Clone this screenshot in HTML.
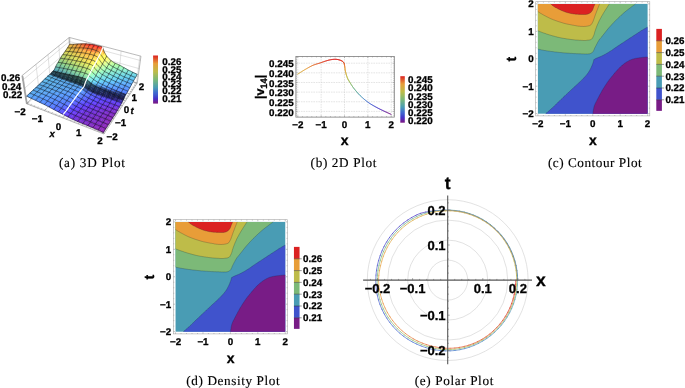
<!DOCTYPE html>
<html><head><meta charset="utf-8"><title>Plots</title>
<style>html,body{margin:0;padding:0;background:#fff}svg{display:block}</style>
</head><body>
<svg width="685" height="388" viewBox="0 0 685 388" text-rendering="geometricPrecision">
<rect width="685" height="388" fill="#fff"/>
<filter id="soft" x="0" y="0" width="685" height="388" filterUnits="userSpaceOnUse"><feGaussianBlur stdDeviation="0.38"/></filter>
<g filter="url(#soft)">
<defs><linearGradient id="rb" x1="0" y1="1" x2="0" y2="0"><stop offset="0.0000" stop-color="#781c86"/><stop offset="0.0350" stop-color="#701e94"/><stop offset="0.0750" stop-color="#5628b6"/><stop offset="0.1111" stop-color="#4534c8"/><stop offset="0.1667" stop-color="#3f52cc"/><stop offset="0.2222" stop-color="#3f68d0"/><stop offset="0.3333" stop-color="#4a9cb4"/><stop offset="0.5000" stop-color="#7bb978"/><stop offset="0.6667" stop-color="#bebc48"/><stop offset="0.8333" stop-color="#e89d39"/><stop offset="1.0000" stop-color="#db2121"/></linearGradient></defs>
<g transform="translate(0.00 0.00)">
<rect x="537.90" y="3.90" width="109.70" height="109.80" fill="#4a9cb4"/>
<path d="M537.9 49.1L538.6 49.3L539.3 49.4L540 49.6L540.7 49.7L541.5 49.9L542.2 50L542.9 50.2L543.7 50.3L544.6 50.5L545.6 50.6L546.5 50.8L547.5 50.9L548.5 51.1L549.5 51.2L550.5 51.4L551.5 51.5L552.5 51.6L553.4 51.7L554.4 51.9L555.4 52L556.3 52.1L557.3 52.2L558.2 52.3L559.2 52.4L560.2 52.5L561.1 52.6L562.1 52.7L563 52.8L564 52.9L565 52.9L565.9 53L566.9 53.1L567.9 53.2L568.9 53.2L569.9 53.3L570.9 53.4L571.9 53.4L572.9 53.5L573.8 53.6L574.7 53.6L575.4 53.6L576.1 53.7L576.7 53.7L577.4 53.7L578 53.7L578.7 53.8L579.3 53.8L580 53.8L580.8 53.8L581.6 53.9L582.4 53.9L583.2 53.9L584 54L584.8 54L585.5 54L586.2 54L586.7 54L587.1 54L587.5 54L588 54L588.4 53.9L588.8 53.9L589.1 53.9L589.5 53.8L589.8 53.7L590.1 53.7L590.3 53.6L590.6 53.5L590.8 53.4L591.1 53.3L591.3 53.2L591.6 53.1L591.8 52.9L592.1 52.6L592.3 52.4L592.5 52.2L592.8 51.9L593 51.7L593.2 51.4L593.4 51.1L593.6 50.7L593.8 50.3L594 49.9L594.2 49.5L594.4 49L594.5 48.6L594.7 48.1L594.9 47.7L595.1 47.3L595.3 46.9L595.5 46.5L595.7 46.2L595.9 45.8L596.1 45.4L596.3 45L596.5 44.6L596.8 44.1L597.1 43.5L597.4 42.9L597.7 42.3L598.1 41.7L598.4 41.1L598.8 40.5L599.1 40L599.4 39.6L599.7 39.2L600 38.9L600.3 38.5L600.6 38.2L600.9 37.8L601.2 37.4L601.6 37L602.2 36.2L602.9 35.3L603.7 34.3L604.5 33.3L605.3 32.2L606.1 31.2L607 30.1L607.8 29.1L608.7 28L609.6 27L610.6 25.9L611.6 24.8L612.5 23.8L613.6 22.7L614.6 21.6L615.6 20.6L616.7 19.5L617.8 18.4L618.9 17.4L620.1 16.3L621.2 15.2L622.4 14.2L623.6 13.1L624.8 12.1L626.1 11L627.4 10L628.7 9L630.1 8L631.4 6.9L632.8 5.9L634.2 4.9L635.5 3.9L537.9 3.9Z" fill="#7bb978"/>
<path d="M537.9 30.8L538.6 31.1L539.3 31.4L540 31.6L540.7 31.9L541.5 32.2L542.2 32.5L542.9 32.7L543.7 33L544.6 33.3L545.6 33.6L546.5 34L547.5 34.3L548.5 34.6L549.5 34.9L550.5 35.2L551.5 35.5L552.5 35.8L553.4 36L554.4 36.3L555.3 36.6L556.3 36.8L557.3 37.1L558.2 37.3L559.2 37.5L560.2 37.7L561.1 37.9L562.1 38.1L563 38.3L564 38.4L565 38.6L565.9 38.7L566.9 38.9L567.9 39L568.9 39.2L569.9 39.3L570.9 39.5L571.9 39.6L572.9 39.7L573.8 39.8L574.7 39.9L575.4 40L576.1 40L576.7 40.1L577.4 40.1L578 40.2L578.7 40.2L579.3 40.3L580 40.3L580.8 40.3L581.5 40.4L582.3 40.4L583.1 40.5L583.9 40.5L584.7 40.5L585.4 40.5L586.2 40.4L586.9 40.3L587.7 40.2L588.4 40.2L589.1 40L589.8 39.9L590.5 39.7L591.1 39.4L591.6 39.1L592 38.7L592.3 38.3L592.6 37.8L592.9 37.3L593.1 36.8L593.4 36.2L593.6 35.7L593.9 35.2L594.1 34.5L594.3 33.9L594.5 33.2L594.6 32.6L594.8 31.9L595 31.2L595.3 30.5L595.5 29.8L595.8 28.9L596.2 28L596.5 27L596.9 26L597.3 25.1L597.7 24.1L598.2 23.1L598.6 22.1L599.1 21L599.6 20L600.2 18.9L600.8 17.9L601.3 16.8L601.9 15.8L602.6 14.7L603.2 13.6L603.9 12.4L604.7 11.2L605.4 10L606.2 8.8L607 7.6L607.8 6.3L608.6 5.1L609.4 3.9L537.9 3.9Z" fill="#bebc48"/>
<path d="M537.9 11.6L538.6 12L539.3 12.5L540 12.9L540.7 13.4L541.5 13.8L542.2 14.2L542.9 14.7L543.7 15.1L544.6 15.6L545.6 16.1L546.5 16.6L547.5 17.1L548.5 17.6L549.5 18.1L550.5 18.6L551.5 19L552.5 19.4L553.4 19.8L554.4 20.1L555.3 20.5L556.3 20.8L557.3 21.2L558.2 21.5L559.2 21.8L560.2 22.1L561.1 22.4L562.1 22.7L563 23L564 23.3L565 23.5L565.9 23.8L566.9 24L567.9 24.2L568.9 24.4L569.9 24.6L570.9 24.8L571.9 25L572.9 25.2L573.8 25.3L574.7 25.5L575.4 25.6L576.1 25.7L576.7 25.9L577.4 26L578 26.1L578.7 26.2L579.3 26.2L580 26.3L580.8 26.4L581.5 26.4L582.3 26.4L583.1 26.5L583.9 26.5L584.7 26.4L585.5 26.4L586.2 26.3L586.8 26.2L587.5 26.1L588.1 26L588.7 25.8L589.3 25.7L589.8 25.5L590.3 25.2L590.8 24.9L591.2 24.6L591.5 24.2L591.8 23.7L592.1 23.2L592.3 22.7L592.6 22.3L592.8 21.8L593.1 21.3L593.3 20.7L593.5 20.2L593.7 19.6L593.9 19L594.1 18.5L594.3 17.9L594.5 17.3L594.7 16.7L595 16L595.2 15.2L595.5 14.4L595.8 13.7L596.1 12.9L596.4 12.1L596.7 11.3L597 10.5L597.3 9.7L597.6 8.9L598 8L598.3 7.2L598.6 6.4L598.9 5.6L599.3 4.7L599.6 3.9L537.9 3.9Z" fill="#e89d39"/>
<path d="M550.7 3.9L551 4.1L551.2 4.4L551.5 4.6L551.8 4.9L552 5.1L552.3 5.4L552.6 5.6L553 5.9L553.6 6.3L554.3 6.8L555 7.2L555.8 7.7L556.7 8.1L557.5 8.6L558.4 9L559.2 9.4L560.1 9.8L561 10.3L562 10.7L563 11.1L563.9 11.5L564.9 11.8L565.9 12.2L566.9 12.5L567.9 12.8L568.9 13L569.9 13.3L570.9 13.5L571.9 13.7L572.8 13.8L573.8 14L574.7 14.1L575.4 14.2L576.1 14.2L576.7 14.3L577.4 14.3L578 14.3L578.7 14.4L579.3 14.4L580 14.4L580.8 14.4L581.6 14.5L582.4 14.5L583.2 14.5L584 14.5L584.8 14.5L585.5 14.5L586.2 14.4L586.7 14.3L587.3 14.2L587.8 14.1L588.2 13.9L588.7 13.7L589.2 13.6L589.6 13.3L590 13.1L590.4 12.8L590.7 12.5L591 12.2L591.3 11.9L591.5 11.5L591.8 11.2L592.1 10.8L592.4 10.5L592.6 10L592.8 9.5L593 9L593.2 8.5L593.4 8L593.5 7.5L593.7 7.1L593.9 6.6L594 6.2L594.2 5.9L594.3 5.6L594.5 5.2L594.6 4.9L594.7 4.6L594.9 4.2L595 3.9Z" fill="#db2121"/>
<path d="M545.6 113.7L546.3 113.1L547.1 112.5L547.8 111.8L548.5 111.2L549.2 110.6L550 110L550.7 109.3L551.5 108.6L552.4 107.7L553.4 106.9L554.3 105.9L555.3 105L556.3 104L557.3 103.1L558.2 102.1L559.2 101.2L560.2 100.3L561.1 99.4L562.1 98.5L563 97.5L564 96.6L565 95.7L565.9 94.8L566.9 93.9L567.9 93L568.8 92.1L569.8 91.2L570.8 90.2L571.8 89.3L572.8 88.4L573.7 87.5L574.7 86.6L575.7 85.7L576.7 84.8L577.7 83.9L578.6 83L579.6 82.1L580.6 81.2L581.5 80.3L582.4 79.4L583.2 78.6L583.9 77.8L584.7 77L585.4 76.2L586.1 75.4L586.8 74.6L587.4 73.8L588 73L588.5 72.3L588.9 71.6L589.4 70.9L589.8 70.1L590.1 69.4L590.5 68.7L590.9 68L591.2 67.3L591.5 66.6L591.8 66L592.1 65.3L592.3 64.6L592.6 64L592.8 63.4L593 62.8L593.2 62.2L593.3 61.8L593.4 61.5L593.5 61.2L593.6 60.8L593.7 60.5L593.7 60.2L593.8 59.9L593.9 59.6L594.1 59.5L594.3 59.4L594.5 59.2L594.6 59.1L594.8 59L595 58.9L595.3 58.7L595.5 58.6L596 58.4L596.6 58.1L597.2 57.9L597.9 57.6L598.6 57.3L599.3 57.1L599.9 56.8L600.6 56.5L601.3 56.2L601.9 55.9L602.6 55.6L603.2 55.3L603.9 54.9L604.5 54.6L605.2 54.2L605.8 53.9L606.4 53.5L607.1 53.2L607.7 52.8L608.4 52.4L609 52L609.6 51.6L610.3 51.2L610.9 50.8L611.6 50.4L612.2 49.9L612.9 49.5L613.5 49L614.2 48.5L614.9 48.1L615.5 47.6L616.1 47.2L616.6 46.9L617.1 46.5L617.6 46.2L618 45.9L618.5 45.6L619 45.3L619.5 45L620 44.6L620.8 44.1L621.6 43.5L622.5 43L623.4 42.4L624.3 41.8L625.2 41.2L626.1 40.6L627 40L627.9 39.4L628.9 38.8L629.9 38.1L630.8 37.5L631.8 36.9L632.8 36.2L633.7 35.6L634.7 35L635.6 34.4L636.5 33.8L637.5 33.2L638.4 32.6L639.3 32L640.2 31.4L641 30.8L641.9 30.3L642.6 29.9L643.4 29.4L644.1 29L644.8 28.6L645.5 28.2L646.2 27.8L646.9 27.4L647.6 27L647.6 113.7Z" fill="#3f52cc"/>
<path d="M592.8 113.7L593 112.7L593.1 111.8L593.3 110.8L593.4 109.9L593.6 108.9L593.8 107.9L594 107L594.3 106L594.7 104.9L595.2 103.7L595.8 102.5L596.4 101.4L597 100.2L597.6 99L598.2 97.9L598.8 96.8L599.3 95.8L599.8 94.8L600.3 93.9L600.9 92.9L601.4 92L601.9 91.1L602.4 90.1L603 89.2L603.6 88.2L604.2 87.3L604.8 86.3L605.4 85.3L606.1 84.3L606.7 83.4L607.3 82.4L608 81.5L608.7 80.6L609.3 79.7L610 78.8L610.7 77.9L611.4 77.1L612.1 76.2L612.8 75.4L613.5 74.5L614.2 73.6L615 72.8L615.7 71.9L616.4 71L617.2 70.2L618 69.4L618.7 68.6L619.5 67.8L620.2 67.1L621 66.4L621.7 65.8L622.4 65.1L623.2 64.5L624 63.9L624.7 63.3L625.5 62.8L626.2 62.3L627 61.8L627.8 61.4L628.5 61L629.3 60.5L630.1 60.2L630.9 59.8L631.7 59.5L632.5 59.2L633.3 59L634.1 58.8L634.9 58.6L635.7 58.4L636.6 58.3L637.4 58.1L638.3 58L639.4 57.8L640.5 57.7L641.7 57.6L642.8 57.4L644 57.3L645.2 57.2L646.4 57.1L647.6 57L647.6 113.7Z" fill="#781c86"/>
<path d="M592.8 113.7L593 112.7L593.1 111.8L593.3 110.8L593.4 109.9L593.6 108.9L593.8 107.9L594 107L594.3 106L594.7 104.9L595.2 103.7L595.8 102.5L596.4 101.4L597 100.2L597.6 99L598.2 97.9L598.8 96.8L599.3 95.8L599.8 94.8L600.3 93.9L600.9 92.9L601.4 92L601.9 91.1L602.4 90.1L603 89.2L603.6 88.2L604.2 87.3L604.8 86.3L605.4 85.3L606.1 84.3L606.7 83.4L607.3 82.4L608 81.5L608.7 80.6L609.3 79.7L610 78.8L610.7 77.9L611.4 77.1L612.1 76.2L612.8 75.4L613.5 74.5L614.2 73.6L615 72.8L615.7 71.9L616.4 71L617.2 70.2L618 69.4L618.7 68.6L619.5 67.8L620.2 67.1L621 66.4L621.7 65.8L622.4 65.1L623.2 64.5L624 63.9L624.7 63.3L625.5 62.8L626.2 62.3L627 61.8L627.8 61.4L628.5 61L629.3 60.5L630.1 60.2L630.9 59.8L631.7 59.5L632.5 59.2L633.3 59L634.1 58.8L634.9 58.6L635.7 58.4L636.6 58.3L637.4 58.1L638.3 58L639.4 57.8L640.5 57.7L641.7 57.6L642.8 57.4L644 57.3L645.2 57.2L646.4 57.1L647.6 57" fill="none" stroke="#1a2030" stroke-opacity="0.55" stroke-width="0.45"/>
<path d="M545.6 113.7L546.3 113.1L547.1 112.5L547.8 111.8L548.5 111.2L549.2 110.6L550 110L550.7 109.3L551.5 108.6L552.4 107.7L553.4 106.9L554.3 105.9L555.3 105L556.3 104L557.3 103.1L558.2 102.1L559.2 101.2L560.2 100.3L561.1 99.4L562.1 98.5L563 97.5L564 96.6L565 95.7L565.9 94.8L566.9 93.9L567.9 93L568.8 92.1L569.8 91.2L570.8 90.2L571.8 89.3L572.8 88.4L573.7 87.5L574.7 86.6L575.7 85.7L576.7 84.8L577.7 83.9L578.6 83L579.6 82.1L580.6 81.2L581.5 80.3L582.4 79.4L583.2 78.6L583.9 77.8L584.7 77L585.4 76.2L586.1 75.4L586.8 74.6L587.4 73.8L588 73L588.5 72.3L588.9 71.6L589.4 70.9L589.8 70.1L590.1 69.4L590.5 68.7L590.9 68L591.2 67.3L591.5 66.6L591.8 66L592.1 65.3L592.3 64.6L592.6 64L592.8 63.4L593 62.8L593.2 62.2L593.3 61.8L593.4 61.5L593.5 61.2L593.6 60.8L593.7 60.5L593.7 60.2L593.8 59.9L593.9 59.6L594.1 59.5L594.3 59.4L594.5 59.2L594.6 59.1L594.8 59L595 58.9L595.3 58.7L595.5 58.6L596 58.4L596.6 58.1L597.2 57.9L597.9 57.6L598.6 57.3L599.3 57.1L599.9 56.8L600.6 56.5L601.3 56.2L601.9 55.9L602.6 55.6L603.2 55.3L603.9 54.9L604.5 54.6L605.2 54.2L605.8 53.9L606.4 53.5L607.1 53.2L607.7 52.8L608.4 52.4L609 52L609.6 51.6L610.3 51.2L610.9 50.8L611.6 50.4L612.2 49.9L612.9 49.5L613.5 49L614.2 48.5L614.9 48.1L615.5 47.6L616.1 47.2L616.6 46.9L617.1 46.5L617.6 46.2L618 45.9L618.5 45.6L619 45.3L619.5 45L620 44.6L620.8 44.1L621.6 43.5L622.5 43L623.4 42.4L624.3 41.8L625.2 41.2L626.1 40.6L627 40L627.9 39.4L628.9 38.8L629.9 38.1L630.8 37.5L631.8 36.9L632.8 36.2L633.7 35.6L634.7 35L635.6 34.4L636.5 33.8L637.5 33.2L638.4 32.6L639.3 32L640.2 31.4L641 30.8L641.9 30.3L642.6 29.9L643.4 29.4L644.1 29L644.8 28.6L645.5 28.2L646.2 27.8L646.9 27.4L647.6 27" fill="none" stroke="#1a2030" stroke-opacity="0.55" stroke-width="0.45"/>
<path d="M537.9 49.1L538.6 49.3L539.3 49.4L540 49.6L540.7 49.7L541.5 49.9L542.2 50L542.9 50.2L543.7 50.3L544.6 50.5L545.6 50.6L546.5 50.8L547.5 50.9L548.5 51.1L549.5 51.2L550.5 51.4L551.5 51.5L552.5 51.6L553.4 51.7L554.4 51.9L555.4 52L556.3 52.1L557.3 52.2L558.2 52.3L559.2 52.4L560.2 52.5L561.1 52.6L562.1 52.7L563 52.8L564 52.9L565 52.9L565.9 53L566.9 53.1L567.9 53.2L568.9 53.2L569.9 53.3L570.9 53.4L571.9 53.4L572.9 53.5L573.8 53.6L574.7 53.6L575.4 53.6L576.1 53.7L576.7 53.7L577.4 53.7L578 53.7L578.7 53.8L579.3 53.8L580 53.8L580.8 53.8L581.6 53.9L582.4 53.9L583.2 53.9L584 54L584.8 54L585.5 54L586.2 54L586.7 54L587.1 54L587.5 54L588 54L588.4 53.9L588.8 53.9L589.1 53.9L589.5 53.8L589.8 53.7L590.1 53.7L590.3 53.6L590.6 53.5L590.8 53.4L591.1 53.3L591.3 53.2L591.6 53.1L591.8 52.9L592.1 52.6L592.3 52.4L592.5 52.2L592.8 51.9L593 51.7L593.2 51.4L593.4 51.1L593.6 50.7L593.8 50.3L594 49.9L594.2 49.5L594.4 49L594.5 48.6L594.7 48.1L594.9 47.7L595.1 47.3L595.3 46.9L595.5 46.5L595.7 46.2L595.9 45.8L596.1 45.4L596.3 45L596.5 44.6L596.8 44.1L597.1 43.5L597.4 42.9L597.7 42.3L598.1 41.7L598.4 41.1L598.8 40.5L599.1 40L599.4 39.6L599.7 39.2L600 38.9L600.3 38.5L600.6 38.2L600.9 37.8L601.2 37.4L601.6 37L602.2 36.2L602.9 35.3L603.7 34.3L604.5 33.3L605.3 32.2L606.1 31.2L607 30.1L607.8 29.1L608.7 28L609.6 27L610.6 25.9L611.6 24.8L612.5 23.8L613.6 22.7L614.6 21.6L615.6 20.6L616.7 19.5L617.8 18.4L618.9 17.4L620.1 16.3L621.2 15.2L622.4 14.2L623.6 13.1L624.8 12.1L626.1 11L627.4 10L628.7 9L630.1 8L631.4 6.9L632.8 5.9L634.2 4.9L635.5 3.9" fill="none" stroke="#1a2030" stroke-opacity="0.55" stroke-width="0.45"/>
<path d="M537.9 30.8L538.6 31.1L539.3 31.4L540 31.6L540.7 31.9L541.5 32.2L542.2 32.5L542.9 32.7L543.7 33L544.6 33.3L545.6 33.6L546.5 34L547.5 34.3L548.5 34.6L549.5 34.9L550.5 35.2L551.5 35.5L552.5 35.8L553.4 36L554.4 36.3L555.3 36.6L556.3 36.8L557.3 37.1L558.2 37.3L559.2 37.5L560.2 37.7L561.1 37.9L562.1 38.1L563 38.3L564 38.4L565 38.6L565.9 38.7L566.9 38.9L567.9 39L568.9 39.2L569.9 39.3L570.9 39.5L571.9 39.6L572.9 39.7L573.8 39.8L574.7 39.9L575.4 40L576.1 40L576.7 40.1L577.4 40.1L578 40.2L578.7 40.2L579.3 40.3L580 40.3L580.8 40.3L581.5 40.4L582.3 40.4L583.1 40.5L583.9 40.5L584.7 40.5L585.4 40.5L586.2 40.4L586.9 40.3L587.7 40.2L588.4 40.2L589.1 40L589.8 39.9L590.5 39.7L591.1 39.4L591.6 39.1L592 38.7L592.3 38.3L592.6 37.8L592.9 37.3L593.1 36.8L593.4 36.2L593.6 35.7L593.9 35.2L594.1 34.5L594.3 33.9L594.5 33.2L594.6 32.6L594.8 31.9L595 31.2L595.3 30.5L595.5 29.8L595.8 28.9L596.2 28L596.5 27L596.9 26L597.3 25.1L597.7 24.1L598.2 23.1L598.6 22.1L599.1 21L599.6 20L600.2 18.9L600.8 17.9L601.3 16.8L601.9 15.8L602.6 14.7L603.2 13.6L603.9 12.4L604.7 11.2L605.4 10L606.2 8.8L607 7.6L607.8 6.3L608.6 5.1L609.4 3.9" fill="none" stroke="#1a2030" stroke-opacity="0.55" stroke-width="0.45"/>
<path d="M537.9 11.6L538.6 12L539.3 12.5L540 12.9L540.7 13.4L541.5 13.8L542.2 14.2L542.9 14.7L543.7 15.1L544.6 15.6L545.6 16.1L546.5 16.6L547.5 17.1L548.5 17.6L549.5 18.1L550.5 18.6L551.5 19L552.5 19.4L553.4 19.8L554.4 20.1L555.3 20.5L556.3 20.8L557.3 21.2L558.2 21.5L559.2 21.8L560.2 22.1L561.1 22.4L562.1 22.7L563 23L564 23.3L565 23.5L565.9 23.8L566.9 24L567.9 24.2L568.9 24.4L569.9 24.6L570.9 24.8L571.9 25L572.9 25.2L573.8 25.3L574.7 25.5L575.4 25.6L576.1 25.7L576.7 25.9L577.4 26L578 26.1L578.7 26.2L579.3 26.2L580 26.3L580.8 26.4L581.5 26.4L582.3 26.4L583.1 26.5L583.9 26.5L584.7 26.4L585.5 26.4L586.2 26.3L586.8 26.2L587.5 26.1L588.1 26L588.7 25.8L589.3 25.7L589.8 25.5L590.3 25.2L590.8 24.9L591.2 24.6L591.5 24.2L591.8 23.7L592.1 23.2L592.3 22.7L592.6 22.3L592.8 21.8L593.1 21.3L593.3 20.7L593.5 20.2L593.7 19.6L593.9 19L594.1 18.5L594.3 17.9L594.5 17.3L594.7 16.7L595 16L595.2 15.2L595.5 14.4L595.8 13.7L596.1 12.9L596.4 12.1L596.7 11.3L597 10.5L597.3 9.7L597.6 8.9L598 8L598.3 7.2L598.6 6.4L598.9 5.6L599.3 4.7L599.6 3.9" fill="none" stroke="#1a2030" stroke-opacity="0.55" stroke-width="0.45"/>
<path d="M550.7 3.9L551 4.1L551.2 4.4L551.5 4.6L551.8 4.9L552 5.1L552.3 5.4L552.6 5.6L553 5.9L553.6 6.3L554.3 6.8L555 7.2L555.8 7.7L556.7 8.1L557.5 8.6L558.4 9L559.2 9.4L560.1 9.8L561 10.3L562 10.7L563 11.1L563.9 11.5L564.9 11.8L565.9 12.2L566.9 12.5L567.9 12.8L568.9 13L569.9 13.3L570.9 13.5L571.9 13.7L572.8 13.8L573.8 14L574.7 14.1L575.4 14.2L576.1 14.2L576.7 14.3L577.4 14.3L578 14.3L578.7 14.4L579.3 14.4L580 14.4L580.8 14.4L581.6 14.5L582.4 14.5L583.2 14.5L584 14.5L584.8 14.5L585.5 14.5L586.2 14.4L586.7 14.3L587.3 14.2L587.8 14.1L588.2 13.9L588.7 13.7L589.2 13.6L589.6 13.3L590 13.1L590.4 12.8L590.7 12.5L591 12.2L591.3 11.9L591.5 11.5L591.8 11.2L592.1 10.8L592.4 10.5L592.6 10L592.8 9.5L593 9L593.2 8.5L593.4 8L593.5 7.5L593.7 7.1L593.9 6.6L594 6.2L594.2 5.9L594.3 5.6L594.5 5.2L594.6 4.9L594.7 4.6L594.9 4.2L595 3.9" fill="none" stroke="#1a2030" stroke-opacity="0.55" stroke-width="0.45"/>
<rect x="535.70" y="1.70" width="114.10" height="114.20" fill="none" stroke="#a8a8a8" stroke-width="0.6"/>
<path d="M537.90 115.90v-1.60 M537.90 1.70v1.60 M535.70 3.90h1.60 M649.80 3.90h-1.60 M543.38 115.90v-0.90 M543.38 1.70v0.90 M535.70 9.39h0.90 M649.80 9.39h-0.90 M548.87 115.90v-0.90 M548.87 1.70v0.90 M535.70 14.87h0.90 M649.80 14.87h-0.90 M554.36 115.90v-0.90 M554.36 1.70v0.90 M535.70 20.36h0.90 M649.80 20.36h-0.90 M559.84 115.90v-0.90 M559.84 1.70v0.90 M535.70 25.84h0.90 M649.80 25.84h-0.90 M565.33 115.90v-1.60 M565.33 1.70v1.60 M535.70 31.33h1.60 M649.80 31.33h-1.60 M570.81 115.90v-0.90 M570.81 1.70v0.90 M535.70 36.81h0.90 M649.80 36.81h-0.90 M576.29 115.90v-0.90 M576.29 1.70v0.90 M535.70 42.30h0.90 M649.80 42.30h-0.90 M581.78 115.90v-0.90 M581.78 1.70v0.90 M535.70 47.78h0.90 M649.80 47.78h-0.90 M587.26 115.90v-0.90 M587.26 1.70v0.90 M535.70 53.27h0.90 M649.80 53.27h-0.90 M592.75 115.90v-1.60 M592.75 1.70v1.60 M535.70 58.75h1.60 M649.80 58.75h-1.60 M598.24 115.90v-0.90 M598.24 1.70v0.90 M535.70 64.24h0.90 M649.80 64.24h-0.90 M603.72 115.90v-0.90 M603.72 1.70v0.90 M535.70 69.72h0.90 M649.80 69.72h-0.90 M609.21 115.90v-0.90 M609.21 1.70v0.90 M535.70 75.21h0.90 M649.80 75.21h-0.90 M614.69 115.90v-0.90 M614.69 1.70v0.90 M535.70 80.69h0.90 M649.80 80.69h-0.90 M620.17 115.90v-1.60 M620.17 1.70v1.60 M535.70 86.18h1.60 M649.80 86.18h-1.60 M625.66 115.90v-0.90 M625.66 1.70v0.90 M535.70 91.66h0.90 M649.80 91.66h-0.90 M631.14 115.90v-0.90 M631.14 1.70v0.90 M535.70 97.15h0.90 M649.80 97.15h-0.90 M636.63 115.90v-0.90 M636.63 1.70v0.90 M535.70 102.63h0.90 M649.80 102.63h-0.90 M642.12 115.90v-0.90 M642.12 1.70v0.90 M535.70 108.12h0.90 M649.80 108.12h-0.90 M647.60 115.90v-1.60 M647.60 1.70v1.60 M535.70 113.60h1.60 M649.80 113.60h-1.60" stroke="#8a8a8a" stroke-width="0.5" fill="none"/>
<text x="537.90" y="127.00" text-anchor="middle" font-size="9.8" font-family="'Liberation Sans', Arial, Helvetica, sans-serif" font-weight="bold" stroke="#000" stroke-width="0.3">−2</text>
<text x="565.33" y="127.00" text-anchor="middle" font-size="9.8" font-family="'Liberation Sans', Arial, Helvetica, sans-serif" font-weight="bold" stroke="#000" stroke-width="0.3">−1</text>
<text x="592.75" y="127.00" text-anchor="middle" font-size="9.8" font-family="'Liberation Sans', Arial, Helvetica, sans-serif" font-weight="bold" stroke="#000" stroke-width="0.3">0</text>
<text x="620.17" y="127.00" text-anchor="middle" font-size="9.8" font-family="'Liberation Sans', Arial, Helvetica, sans-serif" font-weight="bold" stroke="#000" stroke-width="0.3">1</text>
<text x="647.60" y="127.00" text-anchor="middle" font-size="9.8" font-family="'Liberation Sans', Arial, Helvetica, sans-serif" font-weight="bold" stroke="#000" stroke-width="0.3">2</text>
<text x="533.60" y="7.30" text-anchor="end" font-size="9.8" font-family="'Liberation Sans', Arial, Helvetica, sans-serif" font-weight="bold" stroke="#000" stroke-width="0.3">2</text>
<text x="533.60" y="34.73" text-anchor="end" font-size="9.8" font-family="'Liberation Sans', Arial, Helvetica, sans-serif" font-weight="bold" stroke="#000" stroke-width="0.3">1</text>
<text x="533.60" y="62.15" text-anchor="end" font-size="9.8" font-family="'Liberation Sans', Arial, Helvetica, sans-serif" font-weight="bold" stroke="#000" stroke-width="0.3">0</text>
<text x="533.60" y="89.58" text-anchor="end" font-size="9.8" font-family="'Liberation Sans', Arial, Helvetica, sans-serif" font-weight="bold" stroke="#000" stroke-width="0.3">−1</text>
<text x="533.60" y="117.00" text-anchor="end" font-size="9.8" font-family="'Liberation Sans', Arial, Helvetica, sans-serif" font-weight="bold" stroke="#000" stroke-width="0.3">−2</text>
<text x="592.9" y="144.8" text-anchor="middle" font-size="14" font-family="'Liberation Sans', Arial, Helvetica, sans-serif" font-weight="bold" stroke="#000" stroke-width="0.3">x</text>
<text transform="translate(516.1 59.2) rotate(-90)" text-anchor="middle" font-size="14" font-family="'Liberation Sans', Arial, Helvetica, sans-serif" font-weight="bold" stroke="#000" stroke-width="0.3">t</text>
<rect x="656.30" y="28.90" width="5.60" height="11.95" fill="#db2121"/>
<rect x="656.30" y="40.80" width="5.60" height="11.85" fill="#e89d39"/>
<rect x="656.30" y="52.60" width="5.60" height="11.85" fill="#bebc48"/>
<rect x="656.30" y="64.40" width="5.60" height="11.85" fill="#7bb978"/>
<rect x="656.30" y="76.20" width="5.60" height="11.85" fill="#4a9cb4"/>
<rect x="656.30" y="88.00" width="5.60" height="11.85" fill="#3f52cc"/>
<rect x="656.30" y="99.80" width="5.60" height="11.05" fill="#781c86"/>
<path d="M656.30 40.80h7.80" stroke="#333" stroke-width="0.5"/>
<text x="665.4" y="44.20" font-size="9.8" font-family="'Liberation Sans', Arial, Helvetica, sans-serif" font-weight="bold" stroke="#000" stroke-width="0.3">0.26</text>
<path d="M656.30 52.60h7.80" stroke="#333" stroke-width="0.5"/>
<text x="665.4" y="56.00" font-size="9.8" font-family="'Liberation Sans', Arial, Helvetica, sans-serif" font-weight="bold" stroke="#000" stroke-width="0.3">0.25</text>
<path d="M656.30 64.40h7.80" stroke="#333" stroke-width="0.5"/>
<text x="665.4" y="67.80" font-size="9.8" font-family="'Liberation Sans', Arial, Helvetica, sans-serif" font-weight="bold" stroke="#000" stroke-width="0.3">0.24</text>
<path d="M656.30 76.20h7.80" stroke="#333" stroke-width="0.5"/>
<text x="665.4" y="79.60" font-size="9.8" font-family="'Liberation Sans', Arial, Helvetica, sans-serif" font-weight="bold" stroke="#000" stroke-width="0.3">0.23</text>
<path d="M656.30 88.00h7.80" stroke="#333" stroke-width="0.5"/>
<text x="665.4" y="91.40" font-size="9.8" font-family="'Liberation Sans', Arial, Helvetica, sans-serif" font-weight="bold" stroke="#000" stroke-width="0.3">0.22</text>
<path d="M656.30 99.80h7.80" stroke="#333" stroke-width="0.5"/>
<text x="665.4" y="103.20" font-size="9.8" font-family="'Liberation Sans', Arial, Helvetica, sans-serif" font-weight="bold" stroke="#000" stroke-width="0.3">0.21</text>
</g>
<g transform="translate(-362.35 218.00)">
<rect x="537.90" y="3.90" width="109.70" height="109.80" fill="#4a9cb4"/>
<path d="M537.9 49.1L538.6 49.3L539.3 49.4L540 49.6L540.7 49.7L541.5 49.9L542.2 50L542.9 50.2L543.7 50.3L544.6 50.5L545.6 50.6L546.5 50.8L547.5 50.9L548.5 51.1L549.5 51.2L550.5 51.4L551.5 51.5L552.5 51.6L553.4 51.7L554.4 51.9L555.4 52L556.3 52.1L557.3 52.2L558.2 52.3L559.2 52.4L560.2 52.5L561.1 52.6L562.1 52.7L563 52.8L564 52.9L565 52.9L565.9 53L566.9 53.1L567.9 53.2L568.9 53.2L569.9 53.3L570.9 53.4L571.9 53.4L572.9 53.5L573.8 53.6L574.7 53.6L575.4 53.6L576.1 53.7L576.7 53.7L577.4 53.7L578 53.7L578.7 53.8L579.3 53.8L580 53.8L580.8 53.8L581.6 53.9L582.4 53.9L583.2 53.9L584 54L584.8 54L585.5 54L586.2 54L586.7 54L587.1 54L587.5 54L588 54L588.4 53.9L588.8 53.9L589.1 53.9L589.5 53.8L589.8 53.7L590.1 53.7L590.3 53.6L590.6 53.5L590.8 53.4L591.1 53.3L591.3 53.2L591.6 53.1L591.8 52.9L592.1 52.6L592.3 52.4L592.5 52.2L592.8 51.9L593 51.7L593.2 51.4L593.4 51.1L593.6 50.7L593.8 50.3L594 49.9L594.2 49.5L594.4 49L594.5 48.6L594.7 48.1L594.9 47.7L595.1 47.3L595.3 46.9L595.5 46.5L595.7 46.2L595.9 45.8L596.1 45.4L596.3 45L596.5 44.6L596.8 44.1L597.1 43.5L597.4 42.9L597.7 42.3L598.1 41.7L598.4 41.1L598.8 40.5L599.1 40L599.4 39.6L599.7 39.2L600 38.9L600.3 38.5L600.6 38.2L600.9 37.8L601.2 37.4L601.6 37L602.2 36.2L602.9 35.3L603.7 34.3L604.5 33.3L605.3 32.2L606.1 31.2L607 30.1L607.8 29.1L608.7 28L609.6 27L610.6 25.9L611.6 24.8L612.5 23.8L613.6 22.7L614.6 21.6L615.6 20.6L616.7 19.5L617.8 18.4L618.9 17.4L620.1 16.3L621.2 15.2L622.4 14.2L623.6 13.1L624.8 12.1L626.1 11L627.4 10L628.7 9L630.1 8L631.4 6.9L632.8 5.9L634.2 4.9L635.5 3.9L537.9 3.9Z" fill="#7bb978"/>
<path d="M537.9 30.8L538.6 31.1L539.3 31.4L540 31.6L540.7 31.9L541.5 32.2L542.2 32.5L542.9 32.7L543.7 33L544.6 33.3L545.6 33.6L546.5 34L547.5 34.3L548.5 34.6L549.5 34.9L550.5 35.2L551.5 35.5L552.5 35.8L553.4 36L554.4 36.3L555.3 36.6L556.3 36.8L557.3 37.1L558.2 37.3L559.2 37.5L560.2 37.7L561.1 37.9L562.1 38.1L563 38.3L564 38.4L565 38.6L565.9 38.7L566.9 38.9L567.9 39L568.9 39.2L569.9 39.3L570.9 39.5L571.9 39.6L572.9 39.7L573.8 39.8L574.7 39.9L575.4 40L576.1 40L576.7 40.1L577.4 40.1L578 40.2L578.7 40.2L579.3 40.3L580 40.3L580.8 40.3L581.5 40.4L582.3 40.4L583.1 40.5L583.9 40.5L584.7 40.5L585.4 40.5L586.2 40.4L586.9 40.3L587.7 40.2L588.4 40.2L589.1 40L589.8 39.9L590.5 39.7L591.1 39.4L591.6 39.1L592 38.7L592.3 38.3L592.6 37.8L592.9 37.3L593.1 36.8L593.4 36.2L593.6 35.7L593.9 35.2L594.1 34.5L594.3 33.9L594.5 33.2L594.6 32.6L594.8 31.9L595 31.2L595.3 30.5L595.5 29.8L595.8 28.9L596.2 28L596.5 27L596.9 26L597.3 25.1L597.7 24.1L598.2 23.1L598.6 22.1L599.1 21L599.6 20L600.2 18.9L600.8 17.9L601.3 16.8L601.9 15.8L602.6 14.7L603.2 13.6L603.9 12.4L604.7 11.2L605.4 10L606.2 8.8L607 7.6L607.8 6.3L608.6 5.1L609.4 3.9L537.9 3.9Z" fill="#bebc48"/>
<path d="M537.9 11.6L538.6 12L539.3 12.5L540 12.9L540.7 13.4L541.5 13.8L542.2 14.2L542.9 14.7L543.7 15.1L544.6 15.6L545.6 16.1L546.5 16.6L547.5 17.1L548.5 17.6L549.5 18.1L550.5 18.6L551.5 19L552.5 19.4L553.4 19.8L554.4 20.1L555.3 20.5L556.3 20.8L557.3 21.2L558.2 21.5L559.2 21.8L560.2 22.1L561.1 22.4L562.1 22.7L563 23L564 23.3L565 23.5L565.9 23.8L566.9 24L567.9 24.2L568.9 24.4L569.9 24.6L570.9 24.8L571.9 25L572.9 25.2L573.8 25.3L574.7 25.5L575.4 25.6L576.1 25.7L576.7 25.9L577.4 26L578 26.1L578.7 26.2L579.3 26.2L580 26.3L580.8 26.4L581.5 26.4L582.3 26.4L583.1 26.5L583.9 26.5L584.7 26.4L585.5 26.4L586.2 26.3L586.8 26.2L587.5 26.1L588.1 26L588.7 25.8L589.3 25.7L589.8 25.5L590.3 25.2L590.8 24.9L591.2 24.6L591.5 24.2L591.8 23.7L592.1 23.2L592.3 22.7L592.6 22.3L592.8 21.8L593.1 21.3L593.3 20.7L593.5 20.2L593.7 19.6L593.9 19L594.1 18.5L594.3 17.9L594.5 17.3L594.7 16.7L595 16L595.2 15.2L595.5 14.4L595.8 13.7L596.1 12.9L596.4 12.1L596.7 11.3L597 10.5L597.3 9.7L597.6 8.9L598 8L598.3 7.2L598.6 6.4L598.9 5.6L599.3 4.7L599.6 3.9L537.9 3.9Z" fill="#e89d39"/>
<path d="M550.7 3.9L551 4.1L551.2 4.4L551.5 4.6L551.8 4.9L552 5.1L552.3 5.4L552.6 5.6L553 5.9L553.6 6.3L554.3 6.8L555 7.2L555.8 7.7L556.7 8.1L557.5 8.6L558.4 9L559.2 9.4L560.1 9.8L561 10.3L562 10.7L563 11.1L563.9 11.5L564.9 11.8L565.9 12.2L566.9 12.5L567.9 12.8L568.9 13L569.9 13.3L570.9 13.5L571.9 13.7L572.8 13.8L573.8 14L574.7 14.1L575.4 14.2L576.1 14.2L576.7 14.3L577.4 14.3L578 14.3L578.7 14.4L579.3 14.4L580 14.4L580.8 14.4L581.6 14.5L582.4 14.5L583.2 14.5L584 14.5L584.8 14.5L585.5 14.5L586.2 14.4L586.7 14.3L587.3 14.2L587.8 14.1L588.2 13.9L588.7 13.7L589.2 13.6L589.6 13.3L590 13.1L590.4 12.8L590.7 12.5L591 12.2L591.3 11.9L591.5 11.5L591.8 11.2L592.1 10.8L592.4 10.5L592.6 10L592.8 9.5L593 9L593.2 8.5L593.4 8L593.5 7.5L593.7 7.1L593.9 6.6L594 6.2L594.2 5.9L594.3 5.6L594.5 5.2L594.6 4.9L594.7 4.6L594.9 4.2L595 3.9Z" fill="#db2121"/>
<path d="M545.6 113.7L546.3 113.1L547.1 112.5L547.8 111.8L548.5 111.2L549.2 110.6L550 110L550.7 109.3L551.5 108.6L552.4 107.7L553.4 106.9L554.3 105.9L555.3 105L556.3 104L557.3 103.1L558.2 102.1L559.2 101.2L560.2 100.3L561.1 99.4L562.1 98.5L563 97.5L564 96.6L565 95.7L565.9 94.8L566.9 93.9L567.9 93L568.8 92.1L569.8 91.2L570.8 90.2L571.8 89.3L572.8 88.4L573.7 87.5L574.7 86.6L575.7 85.7L576.7 84.8L577.7 83.9L578.6 83L579.6 82.1L580.6 81.2L581.5 80.3L582.4 79.4L583.2 78.6L583.9 77.8L584.7 77L585.4 76.2L586.1 75.4L586.8 74.6L587.4 73.8L588 73L588.5 72.3L588.9 71.6L589.4 70.9L589.8 70.1L590.1 69.4L590.5 68.7L590.9 68L591.2 67.3L591.5 66.6L591.8 66L592.1 65.3L592.3 64.6L592.6 64L592.8 63.4L593 62.8L593.2 62.2L593.3 61.8L593.4 61.5L593.5 61.2L593.6 60.8L593.7 60.5L593.7 60.2L593.8 59.9L593.9 59.6L594.1 59.5L594.3 59.4L594.5 59.2L594.6 59.1L594.8 59L595 58.9L595.3 58.7L595.5 58.6L596 58.4L596.6 58.1L597.2 57.9L597.9 57.6L598.6 57.3L599.3 57.1L599.9 56.8L600.6 56.5L601.3 56.2L601.9 55.9L602.6 55.6L603.2 55.3L603.9 54.9L604.5 54.6L605.2 54.2L605.8 53.9L606.4 53.5L607.1 53.2L607.7 52.8L608.4 52.4L609 52L609.6 51.6L610.3 51.2L610.9 50.8L611.6 50.4L612.2 49.9L612.9 49.5L613.5 49L614.2 48.5L614.9 48.1L615.5 47.6L616.1 47.2L616.6 46.9L617.1 46.5L617.6 46.2L618 45.9L618.5 45.6L619 45.3L619.5 45L620 44.6L620.8 44.1L621.6 43.5L622.5 43L623.4 42.4L624.3 41.8L625.2 41.2L626.1 40.6L627 40L627.9 39.4L628.9 38.8L629.9 38.1L630.8 37.5L631.8 36.9L632.8 36.2L633.7 35.6L634.7 35L635.6 34.4L636.5 33.8L637.5 33.2L638.4 32.6L639.3 32L640.2 31.4L641 30.8L641.9 30.3L642.6 29.9L643.4 29.4L644.1 29L644.8 28.6L645.5 28.2L646.2 27.8L646.9 27.4L647.6 27L647.6 113.7Z" fill="#3f52cc"/>
<path d="M592.8 113.7L593 112.7L593.1 111.8L593.3 110.8L593.4 109.9L593.6 108.9L593.8 107.9L594 107L594.3 106L594.7 104.9L595.2 103.7L595.8 102.5L596.4 101.4L597 100.2L597.6 99L598.2 97.9L598.8 96.8L599.3 95.8L599.8 94.8L600.3 93.9L600.9 92.9L601.4 92L601.9 91.1L602.4 90.1L603 89.2L603.6 88.2L604.2 87.3L604.8 86.3L605.4 85.3L606.1 84.3L606.7 83.4L607.3 82.4L608 81.5L608.7 80.6L609.3 79.7L610 78.8L610.7 77.9L611.4 77.1L612.1 76.2L612.8 75.4L613.5 74.5L614.2 73.6L615 72.8L615.7 71.9L616.4 71L617.2 70.2L618 69.4L618.7 68.6L619.5 67.8L620.2 67.1L621 66.4L621.7 65.8L622.4 65.1L623.2 64.5L624 63.9L624.7 63.3L625.5 62.8L626.2 62.3L627 61.8L627.8 61.4L628.5 61L629.3 60.5L630.1 60.2L630.9 59.8L631.7 59.5L632.5 59.2L633.3 59L634.1 58.8L634.9 58.6L635.7 58.4L636.6 58.3L637.4 58.1L638.3 58L639.4 57.8L640.5 57.7L641.7 57.6L642.8 57.4L644 57.3L645.2 57.2L646.4 57.1L647.6 57L647.6 113.7Z" fill="#781c86"/>
<path d="M592.8 113.7L593 112.7L593.1 111.8L593.3 110.8L593.4 109.9L593.6 108.9L593.8 107.9L594 107L594.3 106L594.7 104.9L595.2 103.7L595.8 102.5L596.4 101.4L597 100.2L597.6 99L598.2 97.9L598.8 96.8L599.3 95.8L599.8 94.8L600.3 93.9L600.9 92.9L601.4 92L601.9 91.1L602.4 90.1L603 89.2L603.6 88.2L604.2 87.3L604.8 86.3L605.4 85.3L606.1 84.3L606.7 83.4L607.3 82.4L608 81.5L608.7 80.6L609.3 79.7L610 78.8L610.7 77.9L611.4 77.1L612.1 76.2L612.8 75.4L613.5 74.5L614.2 73.6L615 72.8L615.7 71.9L616.4 71L617.2 70.2L618 69.4L618.7 68.6L619.5 67.8L620.2 67.1L621 66.4L621.7 65.8L622.4 65.1L623.2 64.5L624 63.9L624.7 63.3L625.5 62.8L626.2 62.3L627 61.8L627.8 61.4L628.5 61L629.3 60.5L630.1 60.2L630.9 59.8L631.7 59.5L632.5 59.2L633.3 59L634.1 58.8L634.9 58.6L635.7 58.4L636.6 58.3L637.4 58.1L638.3 58L639.4 57.8L640.5 57.7L641.7 57.6L642.8 57.4L644 57.3L645.2 57.2L646.4 57.1L647.6 57" fill="none" stroke="#1a2030" stroke-opacity="0.55" stroke-width="0.45"/>
<path d="M545.6 113.7L546.3 113.1L547.1 112.5L547.8 111.8L548.5 111.2L549.2 110.6L550 110L550.7 109.3L551.5 108.6L552.4 107.7L553.4 106.9L554.3 105.9L555.3 105L556.3 104L557.3 103.1L558.2 102.1L559.2 101.2L560.2 100.3L561.1 99.4L562.1 98.5L563 97.5L564 96.6L565 95.7L565.9 94.8L566.9 93.9L567.9 93L568.8 92.1L569.8 91.2L570.8 90.2L571.8 89.3L572.8 88.4L573.7 87.5L574.7 86.6L575.7 85.7L576.7 84.8L577.7 83.9L578.6 83L579.6 82.1L580.6 81.2L581.5 80.3L582.4 79.4L583.2 78.6L583.9 77.8L584.7 77L585.4 76.2L586.1 75.4L586.8 74.6L587.4 73.8L588 73L588.5 72.3L588.9 71.6L589.4 70.9L589.8 70.1L590.1 69.4L590.5 68.7L590.9 68L591.2 67.3L591.5 66.6L591.8 66L592.1 65.3L592.3 64.6L592.6 64L592.8 63.4L593 62.8L593.2 62.2L593.3 61.8L593.4 61.5L593.5 61.2L593.6 60.8L593.7 60.5L593.7 60.2L593.8 59.9L593.9 59.6L594.1 59.5L594.3 59.4L594.5 59.2L594.6 59.1L594.8 59L595 58.9L595.3 58.7L595.5 58.6L596 58.4L596.6 58.1L597.2 57.9L597.9 57.6L598.6 57.3L599.3 57.1L599.9 56.8L600.6 56.5L601.3 56.2L601.9 55.9L602.6 55.6L603.2 55.3L603.9 54.9L604.5 54.6L605.2 54.2L605.8 53.9L606.4 53.5L607.1 53.2L607.7 52.8L608.4 52.4L609 52L609.6 51.6L610.3 51.2L610.9 50.8L611.6 50.4L612.2 49.9L612.9 49.5L613.5 49L614.2 48.5L614.9 48.1L615.5 47.6L616.1 47.2L616.6 46.9L617.1 46.5L617.6 46.2L618 45.9L618.5 45.6L619 45.3L619.5 45L620 44.6L620.8 44.1L621.6 43.5L622.5 43L623.4 42.4L624.3 41.8L625.2 41.2L626.1 40.6L627 40L627.9 39.4L628.9 38.8L629.9 38.1L630.8 37.5L631.8 36.9L632.8 36.2L633.7 35.6L634.7 35L635.6 34.4L636.5 33.8L637.5 33.2L638.4 32.6L639.3 32L640.2 31.4L641 30.8L641.9 30.3L642.6 29.9L643.4 29.4L644.1 29L644.8 28.6L645.5 28.2L646.2 27.8L646.9 27.4L647.6 27" fill="none" stroke="#1a2030" stroke-opacity="0.55" stroke-width="0.45"/>
<path d="M537.9 49.1L538.6 49.3L539.3 49.4L540 49.6L540.7 49.7L541.5 49.9L542.2 50L542.9 50.2L543.7 50.3L544.6 50.5L545.6 50.6L546.5 50.8L547.5 50.9L548.5 51.1L549.5 51.2L550.5 51.4L551.5 51.5L552.5 51.6L553.4 51.7L554.4 51.9L555.4 52L556.3 52.1L557.3 52.2L558.2 52.3L559.2 52.4L560.2 52.5L561.1 52.6L562.1 52.7L563 52.8L564 52.9L565 52.9L565.9 53L566.9 53.1L567.9 53.2L568.9 53.2L569.9 53.3L570.9 53.4L571.9 53.4L572.9 53.5L573.8 53.6L574.7 53.6L575.4 53.6L576.1 53.7L576.7 53.7L577.4 53.7L578 53.7L578.7 53.8L579.3 53.8L580 53.8L580.8 53.8L581.6 53.9L582.4 53.9L583.2 53.9L584 54L584.8 54L585.5 54L586.2 54L586.7 54L587.1 54L587.5 54L588 54L588.4 53.9L588.8 53.9L589.1 53.9L589.5 53.8L589.8 53.7L590.1 53.7L590.3 53.6L590.6 53.5L590.8 53.4L591.1 53.3L591.3 53.2L591.6 53.1L591.8 52.9L592.1 52.6L592.3 52.4L592.5 52.2L592.8 51.9L593 51.7L593.2 51.4L593.4 51.1L593.6 50.7L593.8 50.3L594 49.9L594.2 49.5L594.4 49L594.5 48.6L594.7 48.1L594.9 47.7L595.1 47.3L595.3 46.9L595.5 46.5L595.7 46.2L595.9 45.8L596.1 45.4L596.3 45L596.5 44.6L596.8 44.1L597.1 43.5L597.4 42.9L597.7 42.3L598.1 41.7L598.4 41.1L598.8 40.5L599.1 40L599.4 39.6L599.7 39.2L600 38.9L600.3 38.5L600.6 38.2L600.9 37.8L601.2 37.4L601.6 37L602.2 36.2L602.9 35.3L603.7 34.3L604.5 33.3L605.3 32.2L606.1 31.2L607 30.1L607.8 29.1L608.7 28L609.6 27L610.6 25.9L611.6 24.8L612.5 23.8L613.6 22.7L614.6 21.6L615.6 20.6L616.7 19.5L617.8 18.4L618.9 17.4L620.1 16.3L621.2 15.2L622.4 14.2L623.6 13.1L624.8 12.1L626.1 11L627.4 10L628.7 9L630.1 8L631.4 6.9L632.8 5.9L634.2 4.9L635.5 3.9" fill="none" stroke="#1a2030" stroke-opacity="0.55" stroke-width="0.45"/>
<path d="M537.9 30.8L538.6 31.1L539.3 31.4L540 31.6L540.7 31.9L541.5 32.2L542.2 32.5L542.9 32.7L543.7 33L544.6 33.3L545.6 33.6L546.5 34L547.5 34.3L548.5 34.6L549.5 34.9L550.5 35.2L551.5 35.5L552.5 35.8L553.4 36L554.4 36.3L555.3 36.6L556.3 36.8L557.3 37.1L558.2 37.3L559.2 37.5L560.2 37.7L561.1 37.9L562.1 38.1L563 38.3L564 38.4L565 38.6L565.9 38.7L566.9 38.9L567.9 39L568.9 39.2L569.9 39.3L570.9 39.5L571.9 39.6L572.9 39.7L573.8 39.8L574.7 39.9L575.4 40L576.1 40L576.7 40.1L577.4 40.1L578 40.2L578.7 40.2L579.3 40.3L580 40.3L580.8 40.3L581.5 40.4L582.3 40.4L583.1 40.5L583.9 40.5L584.7 40.5L585.4 40.5L586.2 40.4L586.9 40.3L587.7 40.2L588.4 40.2L589.1 40L589.8 39.9L590.5 39.7L591.1 39.4L591.6 39.1L592 38.7L592.3 38.3L592.6 37.8L592.9 37.3L593.1 36.8L593.4 36.2L593.6 35.7L593.9 35.2L594.1 34.5L594.3 33.9L594.5 33.2L594.6 32.6L594.8 31.9L595 31.2L595.3 30.5L595.5 29.8L595.8 28.9L596.2 28L596.5 27L596.9 26L597.3 25.1L597.7 24.1L598.2 23.1L598.6 22.1L599.1 21L599.6 20L600.2 18.9L600.8 17.9L601.3 16.8L601.9 15.8L602.6 14.7L603.2 13.6L603.9 12.4L604.7 11.2L605.4 10L606.2 8.8L607 7.6L607.8 6.3L608.6 5.1L609.4 3.9" fill="none" stroke="#1a2030" stroke-opacity="0.55" stroke-width="0.45"/>
<path d="M537.9 11.6L538.6 12L539.3 12.5L540 12.9L540.7 13.4L541.5 13.8L542.2 14.2L542.9 14.7L543.7 15.1L544.6 15.6L545.6 16.1L546.5 16.6L547.5 17.1L548.5 17.6L549.5 18.1L550.5 18.6L551.5 19L552.5 19.4L553.4 19.8L554.4 20.1L555.3 20.5L556.3 20.8L557.3 21.2L558.2 21.5L559.2 21.8L560.2 22.1L561.1 22.4L562.1 22.7L563 23L564 23.3L565 23.5L565.9 23.8L566.9 24L567.9 24.2L568.9 24.4L569.9 24.6L570.9 24.8L571.9 25L572.9 25.2L573.8 25.3L574.7 25.5L575.4 25.6L576.1 25.7L576.7 25.9L577.4 26L578 26.1L578.7 26.2L579.3 26.2L580 26.3L580.8 26.4L581.5 26.4L582.3 26.4L583.1 26.5L583.9 26.5L584.7 26.4L585.5 26.4L586.2 26.3L586.8 26.2L587.5 26.1L588.1 26L588.7 25.8L589.3 25.7L589.8 25.5L590.3 25.2L590.8 24.9L591.2 24.6L591.5 24.2L591.8 23.7L592.1 23.2L592.3 22.7L592.6 22.3L592.8 21.8L593.1 21.3L593.3 20.7L593.5 20.2L593.7 19.6L593.9 19L594.1 18.5L594.3 17.9L594.5 17.3L594.7 16.7L595 16L595.2 15.2L595.5 14.4L595.8 13.7L596.1 12.9L596.4 12.1L596.7 11.3L597 10.5L597.3 9.7L597.6 8.9L598 8L598.3 7.2L598.6 6.4L598.9 5.6L599.3 4.7L599.6 3.9" fill="none" stroke="#1a2030" stroke-opacity="0.55" stroke-width="0.45"/>
<path d="M550.7 3.9L551 4.1L551.2 4.4L551.5 4.6L551.8 4.9L552 5.1L552.3 5.4L552.6 5.6L553 5.9L553.6 6.3L554.3 6.8L555 7.2L555.8 7.7L556.7 8.1L557.5 8.6L558.4 9L559.2 9.4L560.1 9.8L561 10.3L562 10.7L563 11.1L563.9 11.5L564.9 11.8L565.9 12.2L566.9 12.5L567.9 12.8L568.9 13L569.9 13.3L570.9 13.5L571.9 13.7L572.8 13.8L573.8 14L574.7 14.1L575.4 14.2L576.1 14.2L576.7 14.3L577.4 14.3L578 14.3L578.7 14.4L579.3 14.4L580 14.4L580.8 14.4L581.6 14.5L582.4 14.5L583.2 14.5L584 14.5L584.8 14.5L585.5 14.5L586.2 14.4L586.7 14.3L587.3 14.2L587.8 14.1L588.2 13.9L588.7 13.7L589.2 13.6L589.6 13.3L590 13.1L590.4 12.8L590.7 12.5L591 12.2L591.3 11.9L591.5 11.5L591.8 11.2L592.1 10.8L592.4 10.5L592.6 10L592.8 9.5L593 9L593.2 8.5L593.4 8L593.5 7.5L593.7 7.1L593.9 6.6L594 6.2L594.2 5.9L594.3 5.6L594.5 5.2L594.6 4.9L594.7 4.6L594.9 4.2L595 3.9" fill="none" stroke="#1a2030" stroke-opacity="0.55" stroke-width="0.45"/>
<rect x="535.70" y="1.70" width="114.10" height="114.20" fill="none" stroke="#a8a8a8" stroke-width="0.6"/>
<path d="M537.90 115.90v-1.60 M537.90 1.70v1.60 M535.70 3.90h1.60 M649.80 3.90h-1.60 M543.38 115.90v-0.90 M543.38 1.70v0.90 M535.70 9.39h0.90 M649.80 9.39h-0.90 M548.87 115.90v-0.90 M548.87 1.70v0.90 M535.70 14.87h0.90 M649.80 14.87h-0.90 M554.36 115.90v-0.90 M554.36 1.70v0.90 M535.70 20.36h0.90 M649.80 20.36h-0.90 M559.84 115.90v-0.90 M559.84 1.70v0.90 M535.70 25.84h0.90 M649.80 25.84h-0.90 M565.33 115.90v-1.60 M565.33 1.70v1.60 M535.70 31.33h1.60 M649.80 31.33h-1.60 M570.81 115.90v-0.90 M570.81 1.70v0.90 M535.70 36.81h0.90 M649.80 36.81h-0.90 M576.29 115.90v-0.90 M576.29 1.70v0.90 M535.70 42.30h0.90 M649.80 42.30h-0.90 M581.78 115.90v-0.90 M581.78 1.70v0.90 M535.70 47.78h0.90 M649.80 47.78h-0.90 M587.26 115.90v-0.90 M587.26 1.70v0.90 M535.70 53.27h0.90 M649.80 53.27h-0.90 M592.75 115.90v-1.60 M592.75 1.70v1.60 M535.70 58.75h1.60 M649.80 58.75h-1.60 M598.24 115.90v-0.90 M598.24 1.70v0.90 M535.70 64.24h0.90 M649.80 64.24h-0.90 M603.72 115.90v-0.90 M603.72 1.70v0.90 M535.70 69.72h0.90 M649.80 69.72h-0.90 M609.21 115.90v-0.90 M609.21 1.70v0.90 M535.70 75.21h0.90 M649.80 75.21h-0.90 M614.69 115.90v-0.90 M614.69 1.70v0.90 M535.70 80.69h0.90 M649.80 80.69h-0.90 M620.17 115.90v-1.60 M620.17 1.70v1.60 M535.70 86.18h1.60 M649.80 86.18h-1.60 M625.66 115.90v-0.90 M625.66 1.70v0.90 M535.70 91.66h0.90 M649.80 91.66h-0.90 M631.14 115.90v-0.90 M631.14 1.70v0.90 M535.70 97.15h0.90 M649.80 97.15h-0.90 M636.63 115.90v-0.90 M636.63 1.70v0.90 M535.70 102.63h0.90 M649.80 102.63h-0.90 M642.12 115.90v-0.90 M642.12 1.70v0.90 M535.70 108.12h0.90 M649.80 108.12h-0.90 M647.60 115.90v-1.60 M647.60 1.70v1.60 M535.70 113.60h1.60 M649.80 113.60h-1.60" stroke="#8a8a8a" stroke-width="0.5" fill="none"/>
<text x="537.90" y="127.00" text-anchor="middle" font-size="9.8" font-family="'Liberation Sans', Arial, Helvetica, sans-serif" font-weight="bold" stroke="#000" stroke-width="0.3">−2</text>
<text x="565.33" y="127.00" text-anchor="middle" font-size="9.8" font-family="'Liberation Sans', Arial, Helvetica, sans-serif" font-weight="bold" stroke="#000" stroke-width="0.3">−1</text>
<text x="592.75" y="127.00" text-anchor="middle" font-size="9.8" font-family="'Liberation Sans', Arial, Helvetica, sans-serif" font-weight="bold" stroke="#000" stroke-width="0.3">0</text>
<text x="620.17" y="127.00" text-anchor="middle" font-size="9.8" font-family="'Liberation Sans', Arial, Helvetica, sans-serif" font-weight="bold" stroke="#000" stroke-width="0.3">1</text>
<text x="647.60" y="127.00" text-anchor="middle" font-size="9.8" font-family="'Liberation Sans', Arial, Helvetica, sans-serif" font-weight="bold" stroke="#000" stroke-width="0.3">2</text>
<text x="533.60" y="7.30" text-anchor="end" font-size="9.8" font-family="'Liberation Sans', Arial, Helvetica, sans-serif" font-weight="bold" stroke="#000" stroke-width="0.3">2</text>
<text x="533.60" y="34.73" text-anchor="end" font-size="9.8" font-family="'Liberation Sans', Arial, Helvetica, sans-serif" font-weight="bold" stroke="#000" stroke-width="0.3">1</text>
<text x="533.60" y="62.15" text-anchor="end" font-size="9.8" font-family="'Liberation Sans', Arial, Helvetica, sans-serif" font-weight="bold" stroke="#000" stroke-width="0.3">0</text>
<text x="533.60" y="89.58" text-anchor="end" font-size="9.8" font-family="'Liberation Sans', Arial, Helvetica, sans-serif" font-weight="bold" stroke="#000" stroke-width="0.3">−1</text>
<text x="533.60" y="117.00" text-anchor="end" font-size="9.8" font-family="'Liberation Sans', Arial, Helvetica, sans-serif" font-weight="bold" stroke="#000" stroke-width="0.3">−2</text>
<text x="592.9" y="144.8" text-anchor="middle" font-size="14" font-family="'Liberation Sans', Arial, Helvetica, sans-serif" font-weight="bold" stroke="#000" stroke-width="0.3">x</text>
<text transform="translate(516.1 59.2) rotate(-90)" text-anchor="middle" font-size="14" font-family="'Liberation Sans', Arial, Helvetica, sans-serif" font-weight="bold" stroke="#000" stroke-width="0.3">t</text>
<rect x="656.30" y="28.90" width="5.60" height="11.95" fill="#db2121"/>
<rect x="656.30" y="40.80" width="5.60" height="11.85" fill="#e89d39"/>
<rect x="656.30" y="52.60" width="5.60" height="11.85" fill="#bebc48"/>
<rect x="656.30" y="64.40" width="5.60" height="11.85" fill="#7bb978"/>
<rect x="656.30" y="76.20" width="5.60" height="11.85" fill="#4a9cb4"/>
<rect x="656.30" y="88.00" width="5.60" height="11.85" fill="#3f52cc"/>
<rect x="656.30" y="99.80" width="5.60" height="11.05" fill="#781c86"/>
<path d="M656.30 40.80h7.80" stroke="#333" stroke-width="0.5"/>
<text x="665.4" y="44.20" font-size="9.8" font-family="'Liberation Sans', Arial, Helvetica, sans-serif" font-weight="bold" stroke="#000" stroke-width="0.3">0.26</text>
<path d="M656.30 52.60h7.80" stroke="#333" stroke-width="0.5"/>
<text x="665.4" y="56.00" font-size="9.8" font-family="'Liberation Sans', Arial, Helvetica, sans-serif" font-weight="bold" stroke="#000" stroke-width="0.3">0.25</text>
<path d="M656.30 64.40h7.80" stroke="#333" stroke-width="0.5"/>
<text x="665.4" y="67.80" font-size="9.8" font-family="'Liberation Sans', Arial, Helvetica, sans-serif" font-weight="bold" stroke="#000" stroke-width="0.3">0.24</text>
<path d="M656.30 76.20h7.80" stroke="#333" stroke-width="0.5"/>
<text x="665.4" y="79.60" font-size="9.8" font-family="'Liberation Sans', Arial, Helvetica, sans-serif" font-weight="bold" stroke="#000" stroke-width="0.3">0.23</text>
<path d="M656.30 88.00h7.80" stroke="#333" stroke-width="0.5"/>
<text x="665.4" y="91.40" font-size="9.8" font-family="'Liberation Sans', Arial, Helvetica, sans-serif" font-weight="bold" stroke="#000" stroke-width="0.3">0.22</text>
<path d="M656.30 99.80h7.80" stroke="#333" stroke-width="0.5"/>
<text x="665.4" y="103.20" font-size="9.8" font-family="'Liberation Sans', Arial, Helvetica, sans-serif" font-weight="bold" stroke="#000" stroke-width="0.3">0.21</text>
</g>
<g>
<path d="M297.80 56.50V117.10 M321.15 56.50V117.10 M344.50 56.50V117.10 M367.85 56.50V117.10 M391.20 56.50V117.10 M295.90 63.20H394.30 M295.90 72.84H394.30 M295.90 82.48H394.30 M295.90 92.12H394.30 M295.90 101.76H394.30 M295.90 111.40H394.30" stroke="#c9c9c9" stroke-width="0.5" stroke-dasharray="1.6 0.9" fill="none"/>
<g stroke-width="0.72" stroke-linecap="round" fill="none">
<path d="M297.40 74.30L298.41 73.67" stroke="#cfb042"/>
<path d="M298.41 73.67L299.43 73.03" stroke="#d1ae41"/>
<path d="M299.43 73.03L300.44 72.39" stroke="#d4ac40"/>
<path d="M300.44 72.39L301.45 71.75" stroke="#d7a93f"/>
<path d="M301.45 71.75L302.47 71.12" stroke="#daa73e"/>
<path d="M302.47 71.12L303.48 70.50" stroke="#dda53d"/>
<path d="M303.48 70.50L304.49 69.89" stroke="#e0a33c"/>
<path d="M304.49 69.89L305.50 69.30" stroke="#e3a13b"/>
<path d="M305.50 69.30L306.47 68.74" stroke="#e59f3a"/>
<path d="M306.47 68.74L307.43 68.19" stroke="#e89d39"/>
<path d="M307.43 68.19L308.40 67.64" stroke="#e79638"/>
<path d="M308.40 67.64L309.37 67.10" stroke="#e78f36"/>
<path d="M309.37 67.10L310.33 66.58" stroke="#e68835"/>
<path d="M310.33 66.58L311.29 66.09" stroke="#e58134"/>
<path d="M311.29 66.09L312.25 65.62" stroke="#e47b32"/>
<path d="M312.25 65.62L313.20 65.20" stroke="#e47531"/>
<path d="M313.20 65.20L314.06 64.86" stroke="#e37030"/>
<path d="M314.06 64.86L314.93 64.55" stroke="#e36b2f"/>
<path d="M314.93 64.55L315.80 64.26" stroke="#e2672f"/>
<path d="M315.80 64.26L316.67 64.00" stroke="#e2632e"/>
<path d="M316.67 64.00L317.53 63.75" stroke="#e2602d"/>
<path d="M317.53 63.75L318.37 63.51" stroke="#e15d2d"/>
<path d="M318.37 63.51L319.20 63.26" stroke="#e1592c"/>
<path d="M319.20 63.26L320.00 63.00" stroke="#e1562b"/>
<path d="M320.00 63.00L320.68 62.77" stroke="#e0532b"/>
<path d="M320.68 62.77L321.35 62.53" stroke="#e04f2a"/>
<path d="M321.35 62.53L322.00 62.30" stroke="#e04c29"/>
<path d="M322.00 62.30L322.64 62.07" stroke="#df4929"/>
<path d="M322.64 62.07L323.28 61.84" stroke="#df4628"/>
<path d="M323.28 61.84L323.92 61.62" stroke="#df4328"/>
<path d="M323.92 61.62L324.55 61.41" stroke="#de4027"/>
<path d="M324.55 61.41L325.20 61.20" stroke="#de3d26"/>
<path d="M325.20 61.20L325.84 61.00" stroke="#de3b26"/>
<path d="M325.84 61.00L326.47 60.80" stroke="#dd3825"/>
<path d="M326.47 60.80L327.11 60.61" stroke="#dd3525"/>
<path d="M327.11 60.61L327.74 60.42" stroke="#dd3324"/>
<path d="M327.74 60.42L328.38 60.24" stroke="#dd3024"/>
<path d="M328.38 60.24L329.02 60.08" stroke="#dc2e24"/>
<path d="M329.02 60.08L329.66 59.93" stroke="#dc2c23"/>
<path d="M329.66 59.93L330.30 59.80" stroke="#dc2a23"/>
<path d="M330.30 59.80L330.95 59.69" stroke="#dc2822"/>
<path d="M330.95 59.69L331.61 59.58" stroke="#dc2722"/>
<path d="M331.61 59.58L332.27 59.49" stroke="#db2622"/>
<path d="M332.27 59.49L332.93 59.41" stroke="#db2422"/>
<path d="M332.93 59.41L333.59 59.35" stroke="#db2321"/>
<path d="M333.59 59.35L334.24 59.31" stroke="#db2321"/>
<path d="M334.24 59.31L334.88 59.29" stroke="#db2221"/>
<path d="M334.88 59.29L335.50 59.30" stroke="#db2221"/>
<path d="M335.50 59.30L336.04 59.33" stroke="#db2321"/>
<path d="M336.04 59.33L336.58 59.38" stroke="#db2321"/>
<path d="M336.58 59.38L337.11 59.44" stroke="#db2422"/>
<path d="M337.11 59.44L337.63 59.52" stroke="#db2522"/>
<path d="M337.63 59.52L338.14 59.62" stroke="#dc2622"/>
<path d="M338.14 59.62L338.64 59.73" stroke="#dc2722"/>
<path d="M338.64 59.73L339.13 59.86" stroke="#dc2923"/>
<path d="M339.13 59.86L339.60 60.00" stroke="#dc2b23"/>
<path d="M339.60 60.00L340.03 60.14" stroke="#dc2d23"/>
<path d="M340.03 60.14L340.45 60.30" stroke="#dc2f24"/>
<path d="M340.45 60.30L340.87 60.47" stroke="#dd3124"/>
<path d="M340.87 60.47L341.28 60.65" stroke="#dd3325"/>
<path d="M341.28 60.65L341.67 60.84" stroke="#dd3625"/>
<path d="M341.67 60.84L342.04 61.05" stroke="#dd3926"/>
<path d="M342.04 61.05L342.38 61.27" stroke="#de3b26"/>
<path d="M342.38 61.27L342.70 61.50" stroke="#de3e27"/>
<path d="M342.70 61.50L342.94 61.71" stroke="#de4127"/>
<path d="M342.94 61.71L343.15 61.93" stroke="#df4428"/>
<path d="M343.15 61.93L343.34 62.17" stroke="#df4728"/>
<path d="M343.34 62.17L343.51 62.41" stroke="#df4b29"/>
<path d="M343.51 62.41L343.68 62.66" stroke="#e04e2a"/>
<path d="M343.68 62.66L343.85 62.91" stroke="#e0512a"/>
<path d="M343.85 62.91L344.02 63.16" stroke="#e0552b"/>
<path d="M344.02 63.16L344.20 63.40" stroke="#e1582c"/>
<path d="M344.20 63.40L344.26 63.77" stroke="#e15c2c"/>
<path d="M344.26 63.77L344.32 64.14" stroke="#e2612d"/>
<path d="M344.32 64.14L344.39 64.50" stroke="#e2662e"/>
<path d="M344.39 64.50L344.45 64.87" stroke="#e36b2f"/>
<path d="M344.45 64.87L344.51 65.24" stroke="#e37030"/>
<path d="M344.51 65.24L344.57 65.61" stroke="#e47531"/>
<path d="M344.57 65.61L344.64 66.00" stroke="#e47a32"/>
<path d="M344.64 66.00L344.70 66.40" stroke="#e57f33"/>
<path d="M344.70 66.40L344.77 66.89" stroke="#e68534"/>
<path d="M344.77 66.89L344.84 67.40" stroke="#e68c36"/>
<path d="M344.84 67.40L344.91 67.93" stroke="#e79337"/>
<path d="M344.91 67.93L344.97 68.46" stroke="#e89a38"/>
<path d="M344.97 68.46L345.05 69.00" stroke="#e69e3a"/>
<path d="M345.05 69.00L345.12 69.54" stroke="#e4a03a"/>
<path d="M345.12 69.54L345.21 70.07" stroke="#e2a23b"/>
<path d="M345.21 70.07L345.30 70.60" stroke="#dfa43c"/>
<path d="M345.30 70.60L345.40 71.12" stroke="#dda53d"/>
<path d="M345.40 71.12L345.51 71.63" stroke="#daa73e"/>
<path d="M345.51 71.63L345.62 72.15" stroke="#d8a93f"/>
<path d="M345.62 72.15L345.75 72.66" stroke="#d6aa40"/>
<path d="M345.75 72.66L345.87 73.17" stroke="#d3ac40"/>
<path d="M345.87 73.17L346.01 73.68" stroke="#d1ae41"/>
<path d="M346.01 73.68L346.15 74.19" stroke="#cfb042"/>
<path d="M346.15 74.19L346.30 74.70" stroke="#ccb143"/>
<path d="M346.30 74.70L346.46 75.22" stroke="#cab344"/>
<path d="M346.46 75.22L346.63 75.74" stroke="#c8b545"/>
<path d="M346.63 75.74L346.80 76.26" stroke="#c5b745"/>
<path d="M346.80 76.26L346.98 76.78" stroke="#c3b846"/>
<path d="M346.98 76.78L347.17 77.30" stroke="#c1ba47"/>
<path d="M347.17 77.30L347.37 77.81" stroke="#bebc48"/>
<path d="M347.37 77.81L347.58 78.31" stroke="#bbbc4a"/>
<path d="M347.58 78.31L347.80 78.80" stroke="#b7bc4d"/>
<path d="M347.80 78.80L348.03 79.27" stroke="#b4bc4f"/>
<path d="M348.03 79.27L348.27 79.72" stroke="#b0bb52"/>
<path d="M348.27 79.72L348.52 80.16" stroke="#adbb54"/>
<path d="M348.52 80.16L348.78 80.60" stroke="#aabb56"/>
<path d="M348.78 80.60L349.05 81.03" stroke="#a7bb59"/>
<path d="M349.05 81.03L349.32 81.48" stroke="#a3bb5b"/>
<path d="M349.32 81.48L349.61 81.93" stroke="#a0bb5d"/>
<path d="M349.61 81.93L349.90 82.40" stroke="#9dbb60"/>
<path d="M349.90 82.40L350.25 82.97" stroke="#99ba63"/>
<path d="M350.25 82.97L350.62 83.56" stroke="#95ba66"/>
<path d="M350.62 83.56L350.99 84.17" stroke="#90ba69"/>
<path d="M350.99 84.17L351.38 84.78" stroke="#8cba6c"/>
<path d="M351.38 84.78L351.77 85.40" stroke="#87ba6f"/>
<path d="M351.77 85.40L352.17 86.01" stroke="#83b972"/>
<path d="M352.17 86.01L352.58 86.61" stroke="#7fb975"/>
<path d="M352.58 86.61L353.00 87.20" stroke="#7ab979"/>
<path d="M353.00 87.20L353.42 87.78" stroke="#77b77c"/>
<path d="M353.42 87.78L353.86 88.35" stroke="#74b580"/>
<path d="M353.86 88.35L354.29 88.92" stroke="#71b384"/>
<path d="M354.29 88.92L354.74 89.48" stroke="#6eb188"/>
<path d="M354.74 89.48L355.20 90.04" stroke="#6bb08b"/>
<path d="M355.20 90.04L355.66 90.59" stroke="#68ae8f"/>
<path d="M355.66 90.59L356.12 91.15" stroke="#65ac93"/>
<path d="M356.12 91.15L356.60 91.70" stroke="#62aa96"/>
<path d="M356.60 91.70L357.09 92.27" stroke="#5fa99a"/>
<path d="M357.09 92.27L357.58 92.83" stroke="#5ca79d"/>
<path d="M357.58 92.83L358.07 93.38" stroke="#59a5a1"/>
<path d="M358.07 93.38L358.57 93.93" stroke="#56a3a5"/>
<path d="M358.57 93.93L359.09 94.49" stroke="#54a2a8"/>
<path d="M359.09 94.49L359.63 95.05" stroke="#51a0ac"/>
<path d="M359.63 95.05L360.19 95.62" stroke="#4e9eb0"/>
<path d="M360.19 95.62L360.80 96.20" stroke="#4a9cb3"/>
<path d="M360.80 96.20L361.63 96.98" stroke="#4997b7"/>
<path d="M361.63 96.98L362.53 97.78" stroke="#4890ba"/>
<path d="M362.53 97.78L363.48 98.62" stroke="#4689be"/>
<path d="M363.48 98.62L364.46 99.45" stroke="#4582c2"/>
<path d="M364.46 99.45L365.46 100.28" stroke="#437bc6"/>
<path d="M365.46 100.28L366.48 101.09" stroke="#4274c9"/>
<path d="M366.48 101.09L367.50 101.87" stroke="#406ecd"/>
<path d="M367.50 101.87L368.50 102.60" stroke="#3f67d0"/>
<path d="M368.50 102.60L369.44 103.25" stroke="#3f62cf"/>
<path d="M369.44 103.25L370.39 103.86" stroke="#3f5ece"/>
<path d="M370.39 103.86L371.35 104.46" stroke="#3f59cd"/>
<path d="M371.35 104.46L372.31 105.03" stroke="#3f55cd"/>
<path d="M372.31 105.03L373.28 105.58" stroke="#3f51cc"/>
<path d="M373.28 105.58L374.25 106.13" stroke="#404ccb"/>
<path d="M374.25 106.13L375.22 106.67" stroke="#4146ca"/>
<path d="M375.22 106.67L376.20 107.20" stroke="#4241ca"/>
<path d="M376.20 107.20L377.17 107.72" stroke="#433cc9"/>
<path d="M377.17 107.72L378.14 108.23" stroke="#4437c8"/>
<path d="M378.14 108.23L379.12 108.73" stroke="#4733c6"/>
<path d="M379.12 108.73L380.10 109.22" stroke="#4b30c2"/>
<path d="M380.10 109.22L381.08 109.70" stroke="#4f2dbd"/>
<path d="M381.08 109.70L382.06 110.17" stroke="#532ab9"/>
<path d="M382.06 110.17L383.04 110.64" stroke="#5827b4"/>
<path d="M383.04 110.64L384.00 111.10" stroke="#5d25ad"/>
<path d="M384.00 111.10L384.91 111.53" stroke="#6223a6"/>
<path d="M384.91 111.53L385.82 111.95" stroke="#67219f"/>
<path d="M385.82 111.95L386.72 112.37" stroke="#6c1f99"/>
<path d="M386.72 112.37L387.61 112.78" stroke="#701e93"/>
<path d="M387.61 112.78L388.51 113.18" stroke="#721d90"/>
<path d="M388.51 113.18L389.41 113.58" stroke="#741d8d"/>
<path d="M389.41 113.58L390.30 113.99" stroke="#751d8a"/>
<path d="M390.30 113.99L391.20 114.40" stroke="#771c87"/>
</g>
<rect x="295.90" y="56.50" width="98.40" height="60.60" fill="none" stroke="#7d7d7d" stroke-width="0.8"/>
<path d="M297.80 117.10v-1.60 M297.80 56.50v1.60 M302.47 117.10v-0.90 M302.47 56.50v0.90 M307.14 117.10v-0.90 M307.14 56.50v0.90 M311.81 117.10v-0.90 M311.81 56.50v0.90 M316.48 117.10v-0.90 M316.48 56.50v0.90 M321.15 117.10v-1.60 M321.15 56.50v1.60 M325.82 117.10v-0.90 M325.82 56.50v0.90 M330.49 117.10v-0.90 M330.49 56.50v0.90 M335.16 117.10v-0.90 M335.16 56.50v0.90 M339.83 117.10v-0.90 M339.83 56.50v0.90 M344.50 117.10v-1.60 M344.50 56.50v1.60 M349.17 117.10v-0.90 M349.17 56.50v0.90 M353.84 117.10v-0.90 M353.84 56.50v0.90 M358.51 117.10v-0.90 M358.51 56.50v0.90 M363.18 117.10v-0.90 M363.18 56.50v0.90 M367.85 117.10v-1.60 M367.85 56.50v1.60 M372.52 117.10v-0.90 M372.52 56.50v0.90 M377.19 117.10v-0.90 M377.19 56.50v0.90 M381.86 117.10v-0.90 M381.86 56.50v0.90 M386.53 117.10v-0.90 M386.53 56.50v0.90 M391.20 117.10v-1.60 M391.20 56.50v1.60 M295.90 57.42h0.90 M394.30 57.42h-0.90 M295.90 59.34h0.90 M394.30 59.34h-0.90 M295.90 61.27h0.90 M394.30 61.27h-0.90 M295.90 63.20h1.60 M394.30 63.20h-1.60 M295.90 65.13h0.90 M394.30 65.13h-0.90 M295.90 67.06h0.90 M394.30 67.06h-0.90 M295.90 68.98h0.90 M394.30 68.98h-0.90 M295.90 70.91h0.90 M394.30 70.91h-0.90 M295.90 72.84h1.60 M394.30 72.84h-1.60 M295.90 74.77h0.90 M394.30 74.77h-0.90 M295.90 76.70h0.90 M394.30 76.70h-0.90 M295.90 78.62h0.90 M394.30 78.62h-0.90 M295.90 80.55h0.90 M394.30 80.55h-0.90 M295.90 82.48h1.60 M394.30 82.48h-1.60 M295.90 84.41h0.90 M394.30 84.41h-0.90 M295.90 86.34h0.90 M394.30 86.34h-0.90 M295.90 88.26h0.90 M394.30 88.26h-0.90 M295.90 90.19h0.90 M394.30 90.19h-0.90 M295.90 92.12h1.60 M394.30 92.12h-1.60 M295.90 94.05h0.90 M394.30 94.05h-0.90 M295.90 95.98h0.90 M394.30 95.98h-0.90 M295.90 97.90h0.90 M394.30 97.90h-0.90 M295.90 99.83h0.90 M394.30 99.83h-0.90 M295.90 101.76h1.60 M394.30 101.76h-1.60 M295.90 103.69h0.90 M394.30 103.69h-0.90 M295.90 105.62h0.90 M394.30 105.62h-0.90 M295.90 107.54h0.90 M394.30 107.54h-0.90 M295.90 109.47h0.90 M394.30 109.47h-0.90 M295.90 111.40h1.60 M394.30 111.40h-1.60 M295.90 113.33h0.90 M394.30 113.33h-0.90 M295.90 115.26h0.90 M394.30 115.26h-0.90" stroke="#7d7d7d" stroke-width="0.5" fill="none"/>
<text x="297.80" y="127.60" text-anchor="middle" font-size="9.8" font-family="'Liberation Sans', Arial, Helvetica, sans-serif" font-weight="bold" stroke="#000" stroke-width="0.3">−2</text>
<text x="321.15" y="127.60" text-anchor="middle" font-size="9.8" font-family="'Liberation Sans', Arial, Helvetica, sans-serif" font-weight="bold" stroke="#000" stroke-width="0.3">−1</text>
<text x="344.50" y="127.60" text-anchor="middle" font-size="9.8" font-family="'Liberation Sans', Arial, Helvetica, sans-serif" font-weight="bold" stroke="#000" stroke-width="0.3">0</text>
<text x="367.85" y="127.60" text-anchor="middle" font-size="9.8" font-family="'Liberation Sans', Arial, Helvetica, sans-serif" font-weight="bold" stroke="#000" stroke-width="0.3">1</text>
<text x="391.20" y="127.60" text-anchor="middle" font-size="9.8" font-family="'Liberation Sans', Arial, Helvetica, sans-serif" font-weight="bold" stroke="#000" stroke-width="0.3">2</text>
<text x="293.6" y="67.30" text-anchor="end" font-size="9.8" font-family="'Liberation Sans', Arial, Helvetica, sans-serif" font-weight="bold" stroke="#000" stroke-width="0.3">0.245</text>
<text x="293.6" y="76.94" text-anchor="end" font-size="9.8" font-family="'Liberation Sans', Arial, Helvetica, sans-serif" font-weight="bold" stroke="#000" stroke-width="0.3">0.240</text>
<text x="293.6" y="86.58" text-anchor="end" font-size="9.8" font-family="'Liberation Sans', Arial, Helvetica, sans-serif" font-weight="bold" stroke="#000" stroke-width="0.3">0.235</text>
<text x="293.6" y="96.22" text-anchor="end" font-size="9.8" font-family="'Liberation Sans', Arial, Helvetica, sans-serif" font-weight="bold" stroke="#000" stroke-width="0.3">0.230</text>
<text x="293.6" y="105.86" text-anchor="end" font-size="9.8" font-family="'Liberation Sans', Arial, Helvetica, sans-serif" font-weight="bold" stroke="#000" stroke-width="0.3">0.225</text>
<text x="293.6" y="115.50" text-anchor="end" font-size="9.8" font-family="'Liberation Sans', Arial, Helvetica, sans-serif" font-weight="bold" stroke="#000" stroke-width="0.3">0.220</text>
<text x="344.6" y="144.5" text-anchor="middle" font-size="14" font-family="'Liberation Sans', Arial, Helvetica, sans-serif" font-weight="bold" stroke="#000" stroke-width="0.3">x</text>
<text transform="translate(264.2 86.9) rotate(-90)" text-anchor="middle" font-size="12.5" font-family="'Liberation Sans', Arial, Helvetica, sans-serif" font-weight="bold" stroke="#000" stroke-width="0.3">|v<tspan font-size="9.4" dy="2.6">14</tspan><tspan dy="-2.6">|</tspan></text>
<rect x="400.30" y="76.20" width="4.50" height="46.50" fill="url(#rb)"/>
<text x="408.1" y="83.40" font-size="9.8" font-family="'Liberation Sans', Arial, Helvetica, sans-serif" font-weight="bold" stroke="#000" stroke-width="0.3">0.245</text>
<text x="408.1" y="91.48" font-size="9.8" font-family="'Liberation Sans', Arial, Helvetica, sans-serif" font-weight="bold" stroke="#000" stroke-width="0.3">0.240</text>
<text x="408.1" y="99.56" font-size="9.8" font-family="'Liberation Sans', Arial, Helvetica, sans-serif" font-weight="bold" stroke="#000" stroke-width="0.3">0.235</text>
<text x="408.1" y="107.64" font-size="9.8" font-family="'Liberation Sans', Arial, Helvetica, sans-serif" font-weight="bold" stroke="#000" stroke-width="0.3">0.230</text>
<text x="408.1" y="115.72" font-size="9.8" font-family="'Liberation Sans', Arial, Helvetica, sans-serif" font-weight="bold" stroke="#000" stroke-width="0.3">0.225</text>
<text x="408.1" y="123.80" font-size="9.8" font-family="'Liberation Sans', Arial, Helvetica, sans-serif" font-weight="bold" stroke="#000" stroke-width="0.3">0.220</text>
</g>
<g>
<circle cx="447.70" cy="280.10" r="20.00" fill="none" stroke="#c4c4c4" stroke-width="0.5"/>
<circle cx="447.70" cy="280.10" r="40.00" fill="none" stroke="#c4c4c4" stroke-width="0.5"/>
<circle cx="447.70" cy="280.10" r="60.00" fill="none" stroke="#c4c4c4" stroke-width="0.5"/>
<circle cx="447.70" cy="280.10" r="80.40" fill="none" stroke="#c4c4c4" stroke-width="0.5"/>
<g stroke-width="0.7" stroke-linecap="round" fill="none">
<path d="M517.30 280.10L517.26 277.67L517.14 275.24" stroke="#781c87"/>
<path d="M517.14 275.24L516.93 272.82L516.64 270.41" stroke="#771c88"/>
<path d="M516.64 270.41L516.26 268.01L515.81 265.62" stroke="#761d8a"/>
<path d="M515.81 265.62L515.26 263.25L514.64 260.91" stroke="#751d8b"/>
<path d="M514.64 260.91L513.93 258.58L513.14 256.28" stroke="#741d8d"/>
<path d="M513.14 256.28L512.28 254.01L511.33 251.77" stroke="#731d8e"/>
<path d="M511.33 251.77L510.31 249.56L509.21 247.40" stroke="#721d90"/>
<path d="M509.21 247.40L508.03 245.27L506.78 243.18" stroke="#721e91"/>
<path d="M506.78 243.18L505.46 241.14L504.07 239.14" stroke="#711e93"/>
<path d="M504.07 239.14L502.61 237.20L501.08 235.30" stroke="#701e94"/>
<path d="M501.08 235.30L499.49 233.47L497.84 231.68" stroke="#6d1f97"/>
<path d="M497.84 231.68L496.12 229.96L494.34 228.30" stroke="#6b209a"/>
<path d="M494.34 228.30L492.51 226.70L490.62 225.17" stroke="#69219e"/>
<path d="M490.62 225.17L488.68 223.70L486.69 222.30" stroke="#6622a1"/>
<path d="M486.69 222.30L484.65 220.97L482.56 219.72" stroke="#6423a4"/>
<path d="M482.56 219.72L480.43 218.54L478.27 217.43" stroke="#6124a7"/>
<path d="M478.27 217.43L476.06 216.40L473.82 215.44" stroke="#5f25aa"/>
<path d="M473.82 215.44L471.55 214.57L469.25 213.77" stroke="#5d25ad"/>
<path d="M469.25 213.77L466.92 213.06L464.57 212.42" stroke="#5a26b0"/>
<path d="M464.57 212.42L462.20 211.87L459.81 211.40" stroke="#5827b4"/>
<path d="M459.81 211.40L457.41 211.01L454.99 210.71" stroke="#5628b6"/>
<path d="M454.99 210.71L452.57 210.49L450.14 210.35" stroke="#542ab8"/>
<path d="M450.14 210.35L447.70 210.30L445.26 210.30" stroke="#522bba"/>
<path d="M445.26 210.30L442.82 210.33L440.37 210.40" stroke="#502cbc"/>
<path d="M440.37 210.40L437.92 210.54L435.48 210.77" stroke="#4f2dbe"/>
<path d="M435.48 210.77L433.02 211.04L430.55 211.32" stroke="#4d2ec0"/>
<path d="M430.55 211.32L428.07 211.66L425.60 212.07" stroke="#4b30c2"/>
<path d="M425.60 212.07L423.14 212.61L420.71 213.30" stroke="#4931c3"/>
<path d="M420.71 213.30L418.34 214.16L416.05 215.21" stroke="#4832c5"/>
<path d="M416.05 215.21L413.80 216.35L411.60 217.57" stroke="#4633c7"/>
<path d="M411.60 217.57L409.44 218.87L407.33 220.24" stroke="#4535c8"/>
<path d="M407.33 220.24L405.26 221.69L403.25 223.21" stroke="#4437c8"/>
<path d="M403.25 223.21L401.29 224.79L399.39 226.44" stroke="#4439c9"/>
<path d="M399.39 226.44L397.55 228.16L395.76 229.95" stroke="#443bc9"/>
<path d="M395.76 229.95L394.05 231.80L392.41 233.71" stroke="#433dc9"/>
<path d="M392.41 233.71L390.85 235.68L389.36 237.71" stroke="#433fc9"/>
<path d="M389.36 237.71L387.94 239.79L386.61 241.92" stroke="#4241ca"/>
<path d="M386.61 241.92L385.35 244.10L384.16 246.32" stroke="#4243ca"/>
<path d="M384.16 246.32L383.06 248.57L382.03 250.86" stroke="#4245ca"/>
<path d="M382.03 250.86L381.08 253.18L380.20 255.53" stroke="#4147cb"/>
<path d="M380.20 255.53L379.40 257.91L378.68 260.31" stroke="#4149cb"/>
<path d="M378.68 260.31L378.03 262.73L377.46 265.17" stroke="#404bcb"/>
<path d="M377.46 265.17L376.97 267.63L376.57 270.10" stroke="#404dcb"/>
<path d="M376.57 270.10L376.24 272.59L376.01 275.09" stroke="#404fcc"/>
<path d="M376.01 275.09L375.86 277.59L375.80 280.10" stroke="#3f51cc"/>
<path d="M375.80 280.10L375.83 282.61L375.95 285.12" stroke="#3f53cc"/>
<path d="M375.95 285.12L376.15 287.62L376.44 290.12" stroke="#3f54cc"/>
<path d="M376.44 290.12L376.82 292.60L377.28 295.07" stroke="#3f56cd"/>
<path d="M377.28 295.07L377.84 297.52L378.49 299.95" stroke="#3f57cd"/>
<path d="M378.49 299.95L379.23 302.35L380.05 304.72" stroke="#3f59cd"/>
<path d="M380.05 304.72L380.97 307.06L381.97 309.37" stroke="#3f5acd"/>
<path d="M381.97 309.37L383.05 311.63L384.21 313.86" stroke="#3f5cce"/>
<path d="M384.21 313.86L385.46 316.04L386.78 318.17" stroke="#3f5dce"/>
<path d="M386.78 318.17L388.17 320.25L389.64 322.28" stroke="#3f5ece"/>
<path d="M389.64 322.28L391.18 324.26L392.78 326.18" stroke="#3f60cf"/>
<path d="M392.78 326.18L394.45 328.05L396.18 329.85" stroke="#3f61cf"/>
<path d="M396.18 329.85L397.98 331.59L399.83 333.27" stroke="#3f63cf"/>
<path d="M399.83 333.27L401.74 334.87L403.71 336.40" stroke="#3f64cf"/>
<path d="M403.71 336.40L405.74 337.86L407.81 339.24" stroke="#3f66d0"/>
<path d="M407.81 339.24L409.93 340.55L412.09 341.78" stroke="#3f67d0"/>
<path d="M412.09 341.78L414.29 342.94L416.53 344.02" stroke="#3f69d0"/>
<path d="M416.53 344.02L418.80 345.02L421.10 345.94" stroke="#406bcf"/>
<path d="M421.10 345.94L423.43 346.79L425.78 347.57" stroke="#406cce"/>
<path d="M425.78 347.57L428.15 348.26L430.55 348.89" stroke="#406ecd"/>
<path d="M430.55 348.89L432.96 349.43L435.39 349.89" stroke="#4170cc"/>
<path d="M435.39 349.89L437.84 350.26L440.30 350.55" stroke="#4172cb"/>
<path d="M440.30 350.55L442.76 350.76L445.23 350.87" stroke="#4173ca"/>
<path d="M445.23 350.87L447.70 350.90L450.17 350.84" stroke="#4275c9"/>
<path d="M450.17 350.84L452.64 350.68L455.09 350.44" stroke="#4277c8"/>
<path d="M455.09 350.44L457.54 350.10L459.97 349.68" stroke="#4278c7"/>
<path d="M459.97 349.68L462.38 349.17L464.77 348.58" stroke="#437ac6"/>
<path d="M464.77 348.58L467.14 347.91L469.49 347.15" stroke="#437cc5"/>
<path d="M469.49 347.15L471.80 346.31L474.08 345.39" stroke="#447ec4"/>
<path d="M474.08 345.39L476.33 344.40L478.54 343.33" stroke="#447fc3"/>
<path d="M478.54 343.33L480.71 342.18L482.84 340.97" stroke="#4481c2"/>
<path d="M482.84 340.97L484.93 339.68L486.97 338.32" stroke="#4583c2"/>
<path d="M486.97 338.32L488.96 336.89L490.90 335.40" stroke="#4585c1"/>
<path d="M490.90 335.40L492.79 333.84L494.62 332.21" stroke="#4586c0"/>
<path d="M494.62 332.21L496.40 330.53L498.12 328.79" stroke="#4688bf"/>
<path d="M498.12 328.79L499.78 326.99L501.37 325.14" stroke="#468abe"/>
<path d="M501.37 325.14L502.90 323.23L504.36 321.27" stroke="#478cbd"/>
<path d="M504.36 321.27L505.75 319.26L507.07 317.20" stroke="#478dbc"/>
<path d="M507.07 317.20L508.32 315.10L509.50 312.96" stroke="#478fbb"/>
<path d="M509.50 312.96L510.60 310.78L511.62 308.56" stroke="#4891ba"/>
<path d="M511.62 308.56L512.56 306.31L513.43 304.02" stroke="#4892b9"/>
<path d="M513.43 304.02L514.22 301.71L514.92 299.38" stroke="#4894b8"/>
<path d="M514.92 299.38L515.55 297.02L516.09 294.64" stroke="#4996b7"/>
<path d="M516.09 294.64L516.55 292.24L516.93 289.83" stroke="#4998b6"/>
<path d="M516.93 289.83L517.22 287.41L517.43 284.98" stroke="#4999b5"/>
<path d="M517.43 284.98L517.56 282.54L517.60 280.10" stroke="#4a9bb4"/>
<path d="M517.60 280.10L517.56 277.66L517.43 275.22" stroke="#4b9cb3"/>
<path d="M517.43 275.22L517.22 272.79L516.93 270.37" stroke="#4c9db2"/>
<path d="M516.93 270.37L516.55 267.96L516.09 265.56" stroke="#4d9eb1"/>
<path d="M516.09 265.56L515.55 263.18L514.92 260.82" stroke="#4e9eaf"/>
<path d="M514.92 260.82L514.21 258.49L513.42 256.18" stroke="#4f9fae"/>
<path d="M513.42 256.18L512.55 253.90L511.61 251.65" stroke="#50a0ad"/>
<path d="M511.61 251.65L510.58 249.43L509.48 247.25" stroke="#51a0ab"/>
<path d="M509.48 247.25L508.30 245.11L507.05 243.02" stroke="#52a1aa"/>
<path d="M507.05 243.02L505.72 240.96L504.32 238.96" stroke="#53a1a9"/>
<path d="M504.32 238.96L502.86 237.01L501.32 235.11" stroke="#54a2a7"/>
<path d="M501.32 235.11L499.72 233.26L498.05 231.47" stroke="#55a3a6"/>
<path d="M498.05 231.47L496.33 229.75L494.54 228.08" stroke="#57a3a5"/>
<path d="M494.54 228.08L492.70 226.48L490.80 224.94" stroke="#58a4a3"/>
<path d="M490.80 224.94L488.84 223.47L486.84 222.07" stroke="#59a5a2"/>
<path d="M486.84 222.07L484.79 220.74L482.70 219.48" stroke="#5aa5a1"/>
<path d="M482.70 219.48L480.56 218.29L478.39 217.18" stroke="#5ba69f"/>
<path d="M478.39 217.18L476.17 216.15L473.92 215.20" stroke="#5ca79e"/>
<path d="M473.92 215.20L471.64 214.32L469.33 213.53" stroke="#5da79d"/>
<path d="M469.33 213.53L466.99 212.81L464.63 212.18" stroke="#5ea89b"/>
<path d="M464.63 212.18L462.25 211.63L459.86 211.16" stroke="#5fa99a"/>
<path d="M459.86 211.16L457.44 210.78L455.02 210.48" stroke="#60a999"/>
<path d="M455.02 210.48L452.58 210.27L450.14 210.14" stroke="#61aa97"/>
<path d="M450.14 210.14L447.70 210.10L445.26 210.13" stroke="#62aa96"/>
<path d="M445.26 210.13L442.81 210.22L440.37 210.38" stroke="#64ab95"/>
<path d="M440.37 210.38L437.93 210.61L435.50 210.92" stroke="#65ac93"/>
<path d="M435.50 210.92L433.08 211.31L430.67 211.78" stroke="#66ac92"/>
<path d="M430.67 211.78L428.27 212.34L425.89 212.99" stroke="#67ad91"/>
<path d="M425.89 212.99L423.54 213.73L421.23 214.57" stroke="#68ae8f"/>
<path d="M421.23 214.57L418.95 215.52L416.71 216.56" stroke="#69ae8e"/>
<path d="M416.71 216.56L414.51 217.68L412.35 218.88" stroke="#6aaf8d"/>
<path d="M412.35 218.88L410.24 220.16L408.18 221.51" stroke="#6bb08b"/>
<path d="M408.18 221.51L406.17 222.93L404.20 224.43" stroke="#6cb08a"/>
<path d="M404.20 224.43L402.30 225.99L400.44 227.62" stroke="#6db189"/>
<path d="M400.44 227.62L398.65 229.31L396.92 231.06" stroke="#6eb287"/>
<path d="M396.92 231.06L395.26 232.88L393.66 234.76" stroke="#70b286"/>
<path d="M393.66 234.76L392.14 236.69L390.68 238.67" stroke="#71b385"/>
<path d="M390.68 238.67L389.30 240.71L388.00 242.79" stroke="#72b483"/>
<path d="M388.00 242.79L386.76 244.92L385.60 247.08" stroke="#73b482"/>
<path d="M385.60 247.08L384.52 249.29L383.51 251.52" stroke="#74b581"/>
<path d="M383.51 251.52L382.58 253.79L381.72 256.08" stroke="#75b57f"/>
<path d="M381.72 256.08L380.93 258.41L380.22 260.75" stroke="#76b67e"/>
<path d="M380.22 260.75L379.57 263.11L378.99 265.49" stroke="#77b77d"/>
<path d="M378.99 265.49L378.47 267.89L378.03 270.31" stroke="#78b77b"/>
<path d="M378.03 270.31L377.68 272.74L377.42 275.19" stroke="#79b87a"/>
<path d="M377.42 275.19L377.26 277.64L377.20 280.10" stroke="#7ab979"/>
<path d="M377.20 280.10L377.24 282.56L377.37 285.02" stroke="#7cb977"/>
<path d="M377.37 285.02L377.59 287.47L377.89 289.91" stroke="#7db976"/>
<path d="M377.89 289.91L378.27 292.34L378.74 294.76" stroke="#7fb975"/>
<path d="M378.74 294.76L379.29 297.16L379.93 299.53" stroke="#80b974"/>
<path d="M379.93 299.53L380.65 301.88L381.47 304.21" stroke="#82b973"/>
<path d="M381.47 304.21L382.37 306.50L383.35 308.75" stroke="#83b972"/>
<path d="M383.35 308.75L384.42 310.96L385.57 313.14" stroke="#85b971"/>
<path d="M385.57 313.14L386.79 315.26L388.10 317.35" stroke="#86ba70"/>
<path d="M388.10 317.35L389.47 319.38L390.91 321.36" stroke="#88ba6f"/>
<path d="M390.91 321.36L392.42 323.29L394.00 325.16" stroke="#89ba6e"/>
<path d="M394.00 325.16L395.64 326.98L397.33 328.74" stroke="#8bba6d"/>
<path d="M397.33 328.74L399.09 330.44L400.90 332.07" stroke="#8cba6c"/>
<path d="M400.90 332.07L402.77 333.64L404.70 335.14" stroke="#8eba6b"/>
<path d="M404.70 335.14L406.68 336.56L408.70 337.91" stroke="#8fba6a"/>
<path d="M408.70 337.91L410.77 339.19L412.88 340.40" stroke="#91ba69"/>
<path d="M412.88 340.40L415.03 341.54L417.22 342.60" stroke="#92ba67"/>
<path d="M417.22 342.60L419.43 343.59L421.68 344.50" stroke="#94ba66"/>
<path d="M421.68 344.50L423.95 345.34L426.25 346.11" stroke="#95ba65"/>
<path d="M426.25 346.11L428.57 346.81L430.91 347.44" stroke="#97ba64"/>
<path d="M430.91 347.44L433.27 347.99L435.64 348.47" stroke="#98ba63"/>
<path d="M435.64 348.47L438.04 348.87L440.44 349.18" stroke="#9aba62"/>
<path d="M440.44 349.18L442.85 349.41L445.27 349.55" stroke="#9bba61"/>
<path d="M445.27 349.55L447.70 349.60L450.13 349.56" stroke="#9dba60"/>
<path d="M450.13 349.56L452.55 349.42L454.96 349.20" stroke="#9ebb5f"/>
<path d="M454.96 349.20L457.37 348.90L459.76 348.50" stroke="#9fbb5e"/>
<path d="M459.76 348.50L462.14 348.03L464.50 347.47" stroke="#a1bb5d"/>
<path d="M464.50 347.47L466.83 346.82L469.14 346.10" stroke="#a2bb5c"/>
<path d="M469.14 346.10L471.43 345.29L473.68 344.41" stroke="#a4bb5b"/>
<path d="M473.68 344.41L475.90 343.44L478.09 342.41" stroke="#a5bb5a"/>
<path d="M478.09 342.41L480.24 341.29L482.35 340.11" stroke="#a7bb59"/>
<path d="M482.35 340.11L484.41 338.85L486.43 337.53" stroke="#a8bb57"/>
<path d="M486.43 337.53L488.41 336.13L490.33 334.66" stroke="#aabb56"/>
<path d="M490.33 334.66L492.20 333.13L494.02 331.54" stroke="#abbb55"/>
<path d="M494.02 331.54L495.77 329.88L497.47 328.17" stroke="#adbb54"/>
<path d="M497.47 328.17L499.11 326.39L500.69 324.56" stroke="#aebb53"/>
<path d="M500.69 324.56L502.20 322.68L503.64 320.74" stroke="#b0bb52"/>
<path d="M503.64 320.74L505.02 318.76L506.32 316.73" stroke="#b1bb51"/>
<path d="M506.32 316.73L507.55 314.66L508.71 312.54" stroke="#b3bc50"/>
<path d="M508.71 312.54L509.80 310.39L510.81 308.20" stroke="#b4bc4f"/>
<path d="M510.81 308.20L511.74 305.97L512.59 303.72" stroke="#b6bc4e"/>
<path d="M512.59 303.72L513.37 301.44L514.06 299.13" stroke="#b7bc4d"/>
<path d="M514.06 299.13L514.68 296.80L515.21 294.45" stroke="#b9bc4c"/>
<path d="M515.21 294.45L515.67 292.08L516.04 289.70" stroke="#babc4b"/>
<path d="M516.04 289.70L516.33 287.31L516.53 284.91" stroke="#bcbc4a"/>
<path d="M516.53 284.91L516.66 282.51L516.70 280.10" stroke="#bdbc49"/>
<path d="M516.70 280.10L516.66 277.69L516.54 275.29" stroke="#bebc48"/>
<path d="M516.54 275.29L516.33 272.89L516.04 270.50" stroke="#bfbb47"/>
<path d="M516.04 270.50L515.67 268.11L515.22 265.75" stroke="#c0ba47"/>
<path d="M515.22 265.75L514.69 263.40L514.07 261.07" stroke="#c1ba47"/>
<path d="M514.07 261.07L513.38 258.76L512.60 256.48" stroke="#c2b946"/>
<path d="M512.60 256.48L511.75 254.22L510.82 252.00" stroke="#c3b846"/>
<path d="M510.82 252.00L509.81 249.81L508.73 247.65" stroke="#c4b846"/>
<path d="M508.73 247.65L507.57 245.54L506.33 243.46" stroke="#c5b746"/>
<path d="M506.33 243.46L505.03 241.43L503.65 239.45" stroke="#c6b645"/>
<path d="M503.65 239.45L502.21 237.51L500.70 235.63" stroke="#c7b545"/>
<path d="M500.70 235.63L499.12 233.80L497.48 232.03" stroke="#c8b544"/>
<path d="M497.48 232.03L495.77 230.32L494.01 228.67" stroke="#c9b444"/>
<path d="M494.01 228.67L492.19 227.08L490.32 225.55" stroke="#cab344"/>
<path d="M490.32 225.55L488.39 224.09L486.41 222.70" stroke="#cbb344"/>
<path d="M486.41 222.70L484.39 221.38L482.32 220.13" stroke="#ccb243"/>
<path d="M482.32 220.13L480.21 218.95L478.06 217.85" stroke="#ccb143"/>
<path d="M478.06 217.85L475.87 216.83L473.65 215.88" stroke="#cdb142"/>
<path d="M473.65 215.88L471.39 215.00L469.11 214.21" stroke="#ceb042"/>
<path d="M469.11 214.21L466.80 213.50L464.46 212.87" stroke="#cfaf42"/>
<path d="M464.46 212.87L462.11 212.32L459.73 211.86" stroke="#d0af42"/>
<path d="M459.73 211.86L457.34 211.48L454.94 211.18" stroke="#d1ae41"/>
<path d="M454.94 211.18L452.53 210.97L450.12 210.84" stroke="#d2ad41"/>
<path d="M450.12 210.84L447.70 210.80L445.28 210.84" stroke="#d3ac40"/>
<path d="M445.28 210.84L442.87 210.97L440.46 211.19" stroke="#d4ac40"/>
<path d="M440.46 211.19L438.06 211.49L435.67 211.87" stroke="#d5ab40"/>
<path d="M435.67 211.87L433.30 212.34L430.94 212.90" stroke="#d6aa40"/>
<path d="M430.94 212.90L428.61 213.53L426.30 214.25" stroke="#d7aa3f"/>
<path d="M426.30 214.25L424.02 215.05L421.77 215.92" stroke="#d8a93f"/>
<path d="M421.77 215.92L419.55 216.88L417.37 217.91" stroke="#d9a83e"/>
<path d="M417.37 217.91L415.22 219.02L413.12 220.20" stroke="#daa83e"/>
<path d="M413.12 220.20L411.06 221.46L409.05 222.79" stroke="#daa73e"/>
<path d="M409.05 222.79L407.08 224.19L405.17 225.66" stroke="#dba63e"/>
<path d="M405.17 225.66L403.31 227.20L401.51 228.80" stroke="#dca63d"/>
<path d="M401.51 228.80L399.76 230.46L398.07 232.18" stroke="#dda53d"/>
<path d="M398.07 232.18L396.45 233.96L394.90 235.79" stroke="#dea43d"/>
<path d="M394.90 235.79L393.41 237.68L391.99 239.63" stroke="#dfa43c"/>
<path d="M391.99 239.63L390.64 241.62L389.37 243.65" stroke="#e0a33c"/>
<path d="M389.37 243.65L388.16 245.73L387.03 247.84" stroke="#e1a23c"/>
<path d="M387.03 247.84L385.97 249.99L384.98 252.18" stroke="#e2a13b"/>
<path d="M384.98 252.18L384.06 254.39L383.22 256.63" stroke="#e3a13b"/>
<path d="M383.22 256.63L382.45 258.90L381.76 261.19" stroke="#e4a03b"/>
<path d="M381.76 261.19L381.12 263.50L380.52 265.82" stroke="#e59f3a"/>
<path d="M380.52 265.82L379.99 268.16L379.52 270.52" stroke="#e69f3a"/>
<path d="M379.52 270.52L379.14 272.89L378.85 275.29" stroke="#e79e3a"/>
<path d="M378.85 275.29L378.66 277.69L378.60 280.10" stroke="#e89d39"/>
<path d="M378.60 280.10L378.65 282.51L378.82 284.92" stroke="#e89c39"/>
<path d="M378.82 284.92L379.08 287.31L379.43 289.69" stroke="#e89938"/>
<path d="M379.43 289.69L379.87 292.06L380.39 294.41" stroke="#e79638"/>
<path d="M380.39 294.41L380.99 296.73L381.66 299.04" stroke="#e79337"/>
<path d="M381.66 299.04L382.40 301.32L383.22 303.57" stroke="#e79137"/>
<path d="M383.22 303.57L384.11 305.79L385.09 307.98" stroke="#e68e36"/>
<path d="M385.09 307.98L386.13 310.13L387.25 312.24" stroke="#e68b36"/>
<path d="M387.25 312.24L388.44 314.31L389.70 316.34" stroke="#e68835"/>
<path d="M389.70 316.34L391.03 318.33L392.42 320.26" stroke="#e68634"/>
<path d="M392.42 320.26L393.88 322.15L395.40 323.98" stroke="#e58334"/>
<path d="M395.40 323.98L396.99 325.76L398.63 327.48" stroke="#e58033"/>
<path d="M398.63 327.48L400.33 329.15L402.09 330.75" stroke="#e57d33"/>
<path d="M402.09 330.75L403.90 332.29L405.77 333.77" stroke="#e47b32"/>
<path d="M405.77 333.77L407.68 335.18L409.65 336.52" stroke="#e47832"/>
<path d="M409.65 336.52L411.65 337.79L413.70 338.99" stroke="#e47531"/>
<path d="M413.70 338.99L415.79 340.12L417.91 341.18" stroke="#e47231"/>
<path d="M417.91 341.18L420.07 342.17L422.25 343.08" stroke="#e37030"/>
<path d="M422.25 343.08L424.47 343.92L426.72 344.68" stroke="#e36d30"/>
<path d="M426.72 344.68L428.98 345.37L431.27 345.99" stroke="#e36a2f"/>
<path d="M431.27 345.99L433.58 346.54L435.90 347.03" stroke="#e2672f"/>
<path d="M435.90 347.03L438.23 347.45L440.58 347.80" stroke="#e2652e"/>
<path d="M440.58 347.80L442.95 348.06L445.32 348.23" stroke="#e2622e"/>
<path d="M445.32 348.23L447.70 348.30L450.08 348.28" stroke="#e25f2d"/>
<path d="M450.08 348.28L452.46 348.18L454.84 347.99" stroke="#e15c2c"/>
<path d="M454.84 347.99L457.20 347.72L459.56 347.36" stroke="#e1592c"/>
<path d="M459.56 347.36L461.90 346.93L464.23 346.41" stroke="#e1572b"/>
<path d="M464.23 346.41L466.54 345.80L468.83 345.12" stroke="#e0542b"/>
<path d="M468.83 345.12L471.09 344.35L473.32 343.51" stroke="#e0512a"/>
<path d="M473.32 343.51L475.52 342.58L477.68 341.57" stroke="#e04e2a"/>
<path d="M477.68 341.57L479.81 340.49L481.90 339.33" stroke="#df4c29"/>
<path d="M481.90 339.33L483.94 338.09L485.93 336.77" stroke="#df4929"/>
<path d="M485.93 336.77L487.86 335.38L489.75 333.92" stroke="#df4628"/>
<path d="M489.75 333.92L491.58 332.39L493.36 330.81" stroke="#df4328"/>
<path d="M493.36 330.81L495.08 329.17L496.75 327.47" stroke="#de4127"/>
<path d="M496.75 327.47L498.37 325.72L499.92 323.92" stroke="#de3e27"/>
<path d="M499.92 323.92L501.40 322.06L502.83 320.15" stroke="#de3b26"/>
<path d="M502.83 320.15L504.18 318.20L505.46 316.19" stroke="#dd3826"/>
<path d="M505.46 316.19L506.68 314.15L507.82 312.07" stroke="#dd3625"/>
<path d="M507.82 312.07L508.89 309.94L509.88 307.79" stroke="#dd3324"/>
<path d="M509.88 307.79L510.80 305.59L511.64 303.37" stroke="#dd3024"/>
<path d="M511.64 303.37L512.41 301.13L513.10 298.85" stroke="#dc2d23"/>
<path d="M513.10 298.85L513.70 296.56L514.23 294.24" stroke="#dc2b23"/>
<path d="M514.23 294.24L514.68 291.91L515.05 289.56" stroke="#dc2822"/>
<path d="M515.05 289.56L515.33 287.21L515.54 284.84" stroke="#db2522"/>
<path d="M515.54 284.84L515.66 282.47L515.70 280.10" stroke="#db2221"/>
</g>
<path d="M363.1 280.10H532 M447.70 195.5V364.3" stroke="#585858" stroke-width="1.1" fill="none"/>
<path d="M370.48 280.10v-1.20 M447.70 202.88h1.20 M377.50 280.10v-2.00 M447.70 209.90h2.00 M384.52 280.10v-1.20 M447.70 216.92h1.20 M391.54 280.10v-1.20 M447.70 223.94h1.20 M398.56 280.10v-1.20 M447.70 230.96h1.20 M405.58 280.10v-1.20 M447.70 237.98h1.20 M412.60 280.10v-2.00 M447.70 245.00h2.00 M419.62 280.10v-1.20 M447.70 252.02h1.20 M426.64 280.10v-1.20 M447.70 259.04h1.20 M433.66 280.10v-1.20 M447.70 266.06h1.20 M440.68 280.10v-1.20 M447.70 273.08h1.20 M454.72 280.10v-1.20 M447.70 287.12h1.20 M461.74 280.10v-1.20 M447.70 294.14h1.20 M468.76 280.10v-1.20 M447.70 301.16h1.20 M475.78 280.10v-1.20 M447.70 308.18h1.20 M482.80 280.10v-2.00 M447.70 315.20h2.00 M489.82 280.10v-1.20 M447.70 322.22h1.20 M496.84 280.10v-1.20 M447.70 329.24h1.20 M503.86 280.10v-1.20 M447.70 336.26h1.20 M510.88 280.10v-1.20 M447.70 343.28h1.20 M517.90 280.10v-2.00 M447.70 350.30h2.00 M524.92 280.10v-1.20 M447.70 357.32h1.20" stroke="#585858" stroke-width="0.5" fill="none"/>
<text x="377.50" y="293.30" text-anchor="middle" font-size="13" font-family="'Liberation Sans', Arial, Helvetica, sans-serif" font-weight="bold" stroke="#000" stroke-width="0.3">−0.2</text>
<text x="445.60" y="354.90" text-anchor="end" font-size="13" font-family="'Liberation Sans', Arial, Helvetica, sans-serif" font-weight="bold" stroke="#000" stroke-width="0.3">−0.2</text>
<text x="412.60" y="293.30" text-anchor="middle" font-size="13" font-family="'Liberation Sans', Arial, Helvetica, sans-serif" font-weight="bold" stroke="#000" stroke-width="0.3">−0.1</text>
<text x="445.60" y="319.80" text-anchor="end" font-size="13" font-family="'Liberation Sans', Arial, Helvetica, sans-serif" font-weight="bold" stroke="#000" stroke-width="0.3">−0.1</text>
<text x="482.80" y="293.30" text-anchor="middle" font-size="13" font-family="'Liberation Sans', Arial, Helvetica, sans-serif" font-weight="bold" stroke="#000" stroke-width="0.3">0.1</text>
<text x="445.60" y="249.60" text-anchor="end" font-size="13" font-family="'Liberation Sans', Arial, Helvetica, sans-serif" font-weight="bold" stroke="#000" stroke-width="0.3">0.1</text>
<text x="517.90" y="293.30" text-anchor="middle" font-size="13" font-family="'Liberation Sans', Arial, Helvetica, sans-serif" font-weight="bold" stroke="#000" stroke-width="0.3">0.2</text>
<text x="445.60" y="214.50" text-anchor="end" font-size="13" font-family="'Liberation Sans', Arial, Helvetica, sans-serif" font-weight="bold" stroke="#000" stroke-width="0.3">0.2</text>
<text x="540.8" y="286.2" text-anchor="middle" font-size="17.5" font-family="'Liberation Sans', Arial, Helvetica, sans-serif" font-weight="bold" stroke="#000" stroke-width="0.3">x</text>
<text x="447.6" y="189.4" text-anchor="middle" font-size="17.5" font-family="'Liberation Sans', Arial, Helvetica, sans-serif" font-weight="bold" stroke="#000" stroke-width="0.3">t</text>
</g>
<g>
<path d="M70.90 62.92L70.06 37.64" stroke="#bdbdbd" stroke-width="0.45" fill="none"/>
<path d="M27.16 103.97L70.90 62.92" stroke="#bdbdbd" stroke-width="0.45" fill="none"/>
<path d="M86.11 67.50L86.22 41.87" stroke="#bdbdbd" stroke-width="0.45" fill="none"/>
<path d="M44.44 110.73L86.11 67.50" stroke="#bdbdbd" stroke-width="0.45" fill="none"/>
<path d="M102.06 72.30L103.21 46.32" stroke="#bdbdbd" stroke-width="0.45" fill="none"/>
<path d="M62.74 117.90L102.06 72.30" stroke="#bdbdbd" stroke-width="0.45" fill="none"/>
<path d="M118.80 77.34L121.11 51.01" stroke="#bdbdbd" stroke-width="0.45" fill="none"/>
<path d="M82.17 125.51L118.80 77.34" stroke="#bdbdbd" stroke-width="0.45" fill="none"/>
<path d="M136.40 82.63L139.98 55.95" stroke="#bdbdbd" stroke-width="0.45" fill="none"/>
<path d="M102.82 133.60L136.40 82.63" stroke="#bdbdbd" stroke-width="0.45" fill="none"/>
<path d="M26.97 103.03L22.60 75.14" stroke="#bdbdbd" stroke-width="0.45" fill="none"/>
<path d="M26.97 103.03L104.41 133.24" stroke="#bdbdbd" stroke-width="0.45" fill="none"/>
<path d="M39.23 91.58L35.98 64.34" stroke="#bdbdbd" stroke-width="0.45" fill="none"/>
<path d="M39.23 91.58L113.90 118.72" stroke="#bdbdbd" stroke-width="0.45" fill="none"/>
<path d="M50.34 81.20L48.01 54.61" stroke="#bdbdbd" stroke-width="0.45" fill="none"/>
<path d="M50.34 81.20L122.40 105.72" stroke="#bdbdbd" stroke-width="0.45" fill="none"/>
<path d="M60.45 71.75L58.89 45.82" stroke="#bdbdbd" stroke-width="0.45" fill="none"/>
<path d="M60.45 71.75L130.05 94.02" stroke="#bdbdbd" stroke-width="0.45" fill="none"/>
<path d="M69.70 63.12L68.79 37.82" stroke="#bdbdbd" stroke-width="0.45" fill="none"/>
<path d="M69.70 63.12L136.98 83.41" stroke="#bdbdbd" stroke-width="0.45" fill="none"/>
<path d="M25.26 96.98L69.94 56.62" stroke="#bdbdbd" stroke-width="0.45" fill="none"/>
<path d="M69.94 56.62L138.19 76.51" stroke="#bdbdbd" stroke-width="0.45" fill="none"/>
<path d="M23.96 88.79L69.68 49.18" stroke="#bdbdbd" stroke-width="0.45" fill="none"/>
<path d="M69.68 49.18L139.26 68.66" stroke="#bdbdbd" stroke-width="0.45" fill="none"/>
<path d="M22.61 80.23L69.41 41.47" stroke="#bdbdbd" stroke-width="0.45" fill="none"/>
<path d="M69.41 41.47L140.38 60.50" stroke="#bdbdbd" stroke-width="0.45" fill="none"/>
<path d="M26.32 103.64L21.89 75.72" stroke="#767676" stroke-width="0.50" fill="none"/>
<path d="M70.15 62.70L69.27 37.43" stroke="#767676" stroke-width="0.50" fill="none"/>
<path d="M137.31 82.91L140.96 56.20" stroke="#767676" stroke-width="0.50" fill="none"/>
<path d="M21.89 75.72L69.27 37.43" stroke="#767676" stroke-width="0.50" fill="none"/>
<path d="M69.27 37.43L140.96 56.20" stroke="#767676" stroke-width="0.50" fill="none"/>
<path d="M26.32 103.64L70.15 62.70" stroke="#767676" stroke-width="0.50" fill="none"/>
<path d="M70.15 62.70L137.31 82.91" stroke="#767676" stroke-width="0.50" fill="none"/>
<path d="M26.32 103.64L103.90 134.02" stroke="#767676" stroke-width="0.50" fill="none"/>
<path d="M103.90 134.02L137.31 82.91" stroke="#767676" stroke-width="0.50" fill="none"/>
<path d="M27.16 103.97L29.21 102.04 M104.41 133.24L101.01 131.92 M30.54 105.29L31.69 104.19 M106.39 130.20L104.50 129.47 M33.95 106.63L35.09 105.52 M108.33 127.23L106.45 126.52 M37.41 107.98L38.54 106.86 M110.23 124.33L108.36 123.64 M40.90 109.35L42.02 108.21 M112.08 121.50L110.23 120.82 M44.44 110.73L46.40 108.69 M113.90 118.72L110.64 117.54 M48.01 112.13L49.11 110.97 M115.67 116.01L113.85 115.36 M51.63 113.55L52.72 112.37 M117.41 113.36L115.60 112.72 M55.29 114.98L56.37 113.79 M119.11 110.76L117.32 110.13 M58.99 116.43L60.06 115.23 M120.77 108.21L118.99 107.60 M62.74 117.90L64.60 115.74 M122.40 105.72L119.27 104.66 M66.53 119.38L67.57 118.15 M123.99 103.29L122.24 102.70 M70.37 120.89L71.40 119.64 M125.55 100.90L123.82 100.32 M74.26 122.41L75.27 121.14 M127.08 98.56L125.36 97.99 M78.19 123.95L79.19 122.67 M128.58 96.26L126.88 95.71 M82.17 125.51L83.91 123.21 M130.05 94.02L127.05 93.06 M86.20 127.08L87.17 125.77 M131.49 91.81L129.81 91.28 M90.28 128.68L91.23 127.35 M132.90 89.65L131.24 89.13 M94.41 130.30L95.35 128.95 M134.29 87.53L132.64 87.02 M98.59 131.94L99.51 130.58 M135.65 85.45L134.01 84.95 M102.82 133.60L104.43 131.15 M136.98 83.41L134.09 82.54 M26.20 102.90L27.71 103.49 M26.08 102.12L27.59 102.71 M25.95 101.34L27.47 101.93 M25.83 100.56L27.35 101.15 M25.70 99.77L27.23 100.36 M25.58 98.98L27.11 99.56 M25.45 98.18L26.98 98.77 M25.33 97.38L26.86 97.97 M25.20 96.58L26.74 97.17 M25.07 95.78L26.61 96.36 M24.94 94.97L26.49 95.55 M24.81 94.16L26.36 94.74 M24.68 93.34L26.23 93.92 M24.55 92.52L26.11 93.10 M24.42 91.70L25.98 92.28 M24.29 90.87L25.85 91.45 M24.16 90.04L25.72 90.62 M24.03 89.21L25.59 89.79 M23.90 88.37L25.46 88.95 M23.76 87.53L25.33 88.11 M23.63 86.69L25.20 87.26 M23.50 85.84L25.07 86.41 M23.36 84.99L24.94 85.56 M23.22 84.13L24.81 84.70 M23.09 83.27L24.67 83.84 M22.95 82.41L24.54 82.98 M22.81 81.54L24.41 82.11 M22.68 80.67L24.27 81.24 M22.54 79.79L24.14 80.36 M22.40 78.91L24.00 79.48 M22.26 78.03L23.86 78.59 M22.12 77.14L23.73 77.71 M21.98 76.25L23.59 76.81" stroke="#777" stroke-width="0.45" fill="none"/>
<g fill="currentColor" stroke="currentColor" stroke-width="0.35" stroke-linejoin="round">
<path d="M68.7 46L70.6 46.1L71.7 44.3L69.8 44.2Z" color="#e7b342"/>
<path d="M70.6 46.1L72.6 46.1L73.7 44.3L71.7 44.3Z" color="#e6aa3f"/>
<path d="M72.6 46.1L74.5 46L75.7 44.2L73.7 44.3Z" color="#e6a23b"/>
<path d="M74.5 46L76.5 45.9L77.6 44L75.7 44.2Z" color="#e29437"/>
<path d="M76.5 45.9L78.5 45.8L79.6 43.9L77.6 44Z" color="#e38334"/>
<path d="M78.5 45.8L80.5 45.8L81.7 43.8L79.6 43.9Z" color="#ea7632"/>
<path d="M80.5 45.8L82.6 45.8L83.7 43.8L81.7 43.8Z" color="#ec6830"/>
<path d="M82.6 45.8L84.6 45.9L85.8 43.8L83.7 43.8Z" color="#ef5b2e"/>
<path d="M84.6 45.9L86.7 46L87.8 44L85.8 43.8Z" color="#f34f2c"/>
<path d="M86.7 46L88.8 46.2L89.9 44.1L87.8 44Z" color="#f7442b"/>
<path d="M88.8 46.2L90.9 46.5L92 44.4L89.9 44.1Z" color="#fd3c2a"/>
<path d="M90.9 46.5L93.1 47L94.2 44.8L92 44.4Z" color="#ff382b"/>
<path d="M93.1 47L95.2 47.6L96.3 45.4L94.2 44.8Z" color="#ff392c"/>
<path d="M95.2 47.6L97.3 48.3L98.4 45.9L96.3 45.4Z" color="#ff3a2c"/>
<path d="M97.3 48.3L99.5 49.2L100.6 46.4L98.4 45.9Z" color="#ff3c2c"/>
<path d="M99.5 49.2L101.6 50.7L102.8 47.2L100.6 46.4Z" color="#ff492f"/>
<path d="M101.6 51.1L103.6 55.1L104.7 52.8L102.7 48Z" color="#ffb346"/>
<path d="M103.6 55.1L105.7 58.1L106.7 56.1L104.7 52.8Z" color="#fff55c"/>
<path d="M105.7 58.1L107.8 60.4L108.8 58.5L106.7 56.1Z" color="#ffff6b"/>
<path d="M107.8 60.4L109.9 62.2L110.9 60.4L108.8 58.5Z" color="#f3ff83"/>
<path d="M109.9 62.2L112 63.8L113 62L110.9 60.4Z" color="#d9ff93"/>
<path d="M112 63.8L114.2 65L115.2 63.2L113 62Z" color="#c1ff9b"/>
<path d="M114.2 65L116.3 66.1L117.4 64.1L115.2 63.2Z" color="#b1fd9d"/>
<path d="M116.3 66.1L118.5 67.1L119.5 65.1L117.4 64.1Z" color="#a8fca3"/>
<path d="M118.5 67.1L120.7 68.3L121.7 66.3L119.5 65.1Z" color="#a5ffb0"/>
<path d="M120.7 68.3L122.9 69.5L123.9 67.6L121.7 66.3Z" color="#9dfbbd"/>
<path d="M122.9 69.5L125.1 70.7L126.1 68.8L123.9 67.6Z" color="#93f5c7"/>
<path d="M125.1 70.7L127.3 71.8L128.3 70L126.1 68.8Z" color="#8aedcf"/>
<path d="M127.3 71.8L129.6 72.9L130.5 71.1L128.3 70Z" color="#81e7d6"/>
<path d="M129.6 72.9L131.8 73.9L132.7 72.2L130.5 71.1Z" color="#7ae2dd"/>
<path d="M131.8 73.9L134.1 74.9L135 73.3L132.7 72.2Z" color="#73dde3"/>
<path d="M134.1 74.9L136.3 76L137.2 74.3L135 73.3Z" color="#6dd9e9"/>
<path d="M67.5 47.8L69.5 47.9L70.6 46.1L68.7 46Z" color="#e0ba46"/>
<path d="M69.5 47.9L71.4 47.9L72.6 46.1L70.6 46.1Z" color="#e0b242"/>
<path d="M71.4 47.9L73.4 47.9L74.5 46L72.6 46.1Z" color="#e1aa3f"/>
<path d="M73.4 47.9L75.4 47.9L76.5 45.9L74.5 46Z" color="#e2a23c"/>
<path d="M75.4 47.9L77.4 47.9L78.5 45.8L76.5 45.9Z" color="#eba03a"/>
<path d="M77.4 47.9L79.4 47.9L80.5 45.8L78.5 45.8Z" color="#ef9538"/>
<path d="M79.4 47.9L81.5 47.9L82.6 45.8L80.5 45.8Z" color="#f18736"/>
<path d="M81.5 47.9L83.5 48L84.6 45.9L82.6 45.8Z" color="#f47b34"/>
<path d="M83.5 48L85.6 48.2L86.7 46L84.6 45.9Z" color="#f87033"/>
<path d="M85.6 48.2L87.7 48.5L88.8 46.2L86.7 46Z" color="#fc6732"/>
<path d="M87.7 48.5L89.8 48.8L90.9 46.5L88.8 46.2Z" color="#ff6031"/>
<path d="M89.8 48.8L91.9 49.2L93.1 47L90.9 46.5Z" color="#ff5d32"/>
<path d="M91.9 49.2L94.1 49.9L95.2 47.6L93.1 47Z" color="#ff6134"/>
<path d="M94.1 49.9L96.2 50.6L97.3 48.3L95.2 47.6Z" color="#ff6636"/>
<path d="M96.2 50.6L98.4 51.7L99.5 49.2L97.3 48.3Z" color="#ff743a"/>
<path d="M98.4 51.7L100.5 53.3L101.6 50.7L99.5 49.2Z" color="#ff9542"/>
<path d="M100.5 54.3L102.6 57.2L103.6 55.1L101.6 51.1Z" color="#ffe153"/>
<path d="M102.6 57.2L104.6 60L105.7 58.1L103.6 55.1Z" color="#ffff62"/>
<path d="M104.6 60L106.7 62.3L107.8 60.4L105.7 58.1Z" color="#ffff77"/>
<path d="M106.7 62.3L108.8 64L109.9 62.2L107.8 60.4Z" color="#e3ff8e"/>
<path d="M108.8 64L111 65.6L112 63.8L109.9 62.2Z" color="#caff9d"/>
<path d="M111 65.6L113.1 66.8L114.2 65L112 63.8Z" color="#b4ffa6"/>
<path d="M113.1 66.8L115.3 68L116.3 66.1L114.2 65Z" color="#a6fdab"/>
<path d="M115.3 68L117.5 69.1L118.5 67.1L116.3 66.1Z" color="#9ef8b3"/>
<path d="M117.5 69.1L119.7 70.2L120.7 68.3L118.5 67.1Z" color="#98f7bf"/>
<path d="M119.7 70.2L121.9 71.4L122.9 69.5L120.7 68.3Z" color="#91f3ca"/>
<path d="M121.9 71.4L124.1 72.5L125.1 70.7L122.9 69.5Z" color="#87ecd2"/>
<path d="M124.1 72.5L126.4 73.6L127.3 71.8L125.1 70.7Z" color="#7fe5d9"/>
<path d="M126.4 73.6L128.6 74.6L129.6 72.9L127.3 71.8Z" color="#77dfde"/>
<path d="M128.6 74.6L130.9 75.6L131.8 73.9L129.6 72.9Z" color="#71dbe3"/>
<path d="M130.9 75.6L133.2 76.6L134.1 74.9L131.8 73.9Z" color="#6cd6e8"/>
<path d="M133.2 76.6L135.4 77.5L136.3 76L134.1 74.9Z" color="#66d3ed"/>
<path d="M66.4 49.5L68.3 49.6L69.5 47.9L67.5 47.8Z" color="#dac149"/>
<path d="M68.3 49.6L70.3 49.8L71.4 47.9L69.5 47.9Z" color="#ddbc47"/>
<path d="M70.3 49.8L72.2 49.8L73.4 47.9L71.4 47.9Z" color="#deb544"/>
<path d="M72.2 49.8L74.2 49.9L75.4 47.9L73.4 47.9Z" color="#e1af41"/>
<path d="M74.2 49.9L76.3 50L77.4 47.9L75.4 47.9Z" color="#e7ac3f"/>
<path d="M76.3 50L78.3 50.1L79.4 47.9L77.4 47.9Z" color="#eeaa3e"/>
<path d="M78.3 50.1L80.3 50.2L81.5 47.9L79.4 47.9Z" color="#f5a73d"/>
<path d="M80.3 50.2L82.4 50.3L83.5 48L81.5 47.9Z" color="#f89e3b"/>
<path d="M82.4 50.3L84.5 50.5L85.6 48.2L83.5 48Z" color="#fd953a"/>
<path d="M84.5 50.5L86.6 50.9L87.7 48.5L85.6 48.2Z" color="#ff8f3a"/>
<path d="M86.6 50.9L88.7 51.2L89.8 48.8L87.7 48.5Z" color="#ff8939"/>
<path d="M88.7 51.2L90.8 51.8L91.9 49.2L89.8 48.8Z" color="#ff883a"/>
<path d="M90.8 51.8L93 52.3L94.1 49.9L91.9 49.2Z" color="#ff893b"/>
<path d="M93 52.3L95.1 52.9L96.2 50.6L94.1 49.9Z" color="#ff8f3d"/>
<path d="M95.1 52.9L97.3 53.9L98.4 51.7L96.2 50.6Z" color="#ffa343"/>
<path d="M97.3 53.9L99.4 55.2L100.5 53.3L98.4 51.7Z" color="#ffc74d"/>
<path d="M99.4 56.6L101.5 59.2L102.6 57.2L100.5 54.3Z" color="#fff75c"/>
<path d="M101.5 59.2L103.6 61.9L104.6 60L102.6 57.2Z" color="#ffff67"/>
<path d="M103.6 61.9L105.7 64.2L106.7 62.3L104.6 60Z" color="#f2ff84"/>
<path d="M105.7 64.2L107.8 65.9L108.8 64L106.7 62.3Z" color="#d3ff99"/>
<path d="M107.8 65.9L110 67.4L111 65.6L108.8 64Z" color="#baffa7"/>
<path d="M110 67.4L112.1 68.6L113.1 66.8L111 65.6Z" color="#a8ffb1"/>
<path d="M112.1 68.6L114.3 69.8L115.3 68L113.1 66.8Z" color="#9df9b9"/>
<path d="M114.3 69.8L116.5 70.9L117.5 69.1L115.3 68Z" color="#94f3c1"/>
<path d="M116.5 70.9L118.7 72.1L119.7 70.2L117.5 69.1Z" color="#8df0cc"/>
<path d="M118.7 72.1L120.9 73.2L121.9 71.4L119.7 70.2Z" color="#85ebd5"/>
<path d="M120.9 73.2L123.2 74.3L124.1 72.5L121.9 71.4Z" color="#7de4db"/>
<path d="M123.2 74.3L125.4 75.3L126.4 73.6L124.1 72.5Z" color="#75dee0"/>
<path d="M125.4 75.3L127.7 76.3L128.6 74.6L126.4 73.6Z" color="#6fd9e4"/>
<path d="M127.7 76.3L129.9 77.2L130.9 75.6L128.6 74.6Z" color="#69d4e8"/>
<path d="M129.9 77.2L132.2 78.1L133.2 76.6L130.9 75.6Z" color="#65d1ec"/>
<path d="M132.2 78.1L134.5 79.1L135.4 77.5L133.2 76.6Z" color="#62ccf0"/>
<path d="M65.2 51.2L67.1 51.4L68.3 49.6L66.4 49.5Z" color="#d6ca4d"/>
<path d="M67.1 51.4L69.1 51.5L70.3 49.8L68.3 49.6Z" color="#dac64b"/>
<path d="M69.1 51.5L71.1 51.7L72.2 49.8L70.3 49.8Z" color="#ddc249"/>
<path d="M71.1 51.7L73.1 51.9L74.2 49.9L72.2 49.8Z" color="#e0bd47"/>
<path d="M73.1 51.9L75.1 52.1L76.3 50L74.2 49.9Z" color="#e5ba45"/>
<path d="M75.1 52.1L77.1 52.3L78.3 50.1L76.3 50Z" color="#e9b644"/>
<path d="M77.1 52.3L79.2 52.4L80.3 50.2L78.3 50.1Z" color="#eeb342"/>
<path d="M79.2 52.4L81.3 52.6L82.4 50.3L80.3 50.2Z" color="#f4b241"/>
<path d="M81.3 52.6L83.3 52.9L84.5 50.5L82.4 50.3Z" color="#fdb241"/>
<path d="M83.3 52.9L85.4 53.3L86.6 50.9L84.5 50.5Z" color="#ffb442"/>
<path d="M85.4 53.3L87.6 53.7L88.7 51.2L86.6 50.9Z" color="#ffb642"/>
<path d="M87.6 53.7L89.7 54.2L90.8 51.8L88.7 51.2Z" color="#ffb643"/>
<path d="M89.7 54.2L91.8 54.7L93 52.3L90.8 51.8Z" color="#ffb543"/>
<path d="M91.8 54.7L94 55.4L95.1 52.9L93 52.3Z" color="#ffb945"/>
<path d="M94 55.4L96.2 56.3L97.3 53.9L95.1 52.9Z" color="#ffca4a"/>
<path d="M96.2 56.3L98.3 57.2L99.4 55.2L97.3 53.9Z" color="#ffda50"/>
<path d="M98.3 58.5L100.4 61.2L101.5 59.2L99.4 56.6Z" color="#ffff61"/>
<path d="M100.4 61.2L102.5 64L103.6 61.9L101.5 59.2Z" color="#ffff71"/>
<path d="M102.5 64L104.6 66.2L105.7 64.2L103.6 61.9Z" color="#e0ff90"/>
<path d="M104.6 66.2L106.7 67.8L107.8 65.9L105.7 64.2Z" color="#c1ffa5"/>
<path d="M106.7 67.8L108.9 69.2L110 67.4L107.8 65.9Z" color="#acffb2"/>
<path d="M108.9 69.2L111.1 70.4L112.1 68.6L110 67.4Z" color="#9efbbc"/>
<path d="M111.1 70.4L113.3 71.5L114.3 69.8L112.1 68.6Z" color="#93f3c4"/>
<path d="M113.3 71.5L115.5 72.7L116.5 70.9L114.3 69.8Z" color="#8beecc"/>
<path d="M115.5 72.7L117.7 73.8L118.7 72.1L116.5 70.9Z" color="#84ead5"/>
<path d="M117.7 73.8L119.9 74.9L120.9 73.2L118.7 72.1Z" color="#7ce4dd"/>
<path d="M119.9 74.9L122.2 76L123.2 74.3L120.9 73.2Z" color="#74dee3"/>
<path d="M122.2 76L124.4 77L125.4 75.3L123.2 74.3Z" color="#6dd8e7"/>
<path d="M124.4 77L126.7 77.9L127.7 76.3L125.4 75.3Z" color="#68d3eb"/>
<path d="M126.7 77.9L129 78.9L129.9 77.2L127.7 76.3Z" color="#63cfee"/>
<path d="M129 78.9L131.3 79.8L132.2 78.1L129.9 77.2Z" color="#61c9f0"/>
<path d="M131.3 79.8L133.6 80.7L134.5 79.1L132.2 78.1Z" color="#60c4f4"/>
<path d="M64 52.9L66 53.1L67.1 51.4L65.2 51.2Z" color="#d0d051"/>
<path d="M66 53.1L67.9 53.3L69.1 51.5L67.1 51.4Z" color="#d7d04f"/>
<path d="M67.9 53.3L69.9 53.5L71.1 51.7L69.1 51.5Z" color="#dbcd4e"/>
<path d="M69.9 53.5L71.9 53.8L73.1 51.9L71.1 51.7Z" color="#deca4d"/>
<path d="M71.9 53.8L74 54.1L75.1 52.1L73.1 51.9Z" color="#e3c84b"/>
<path d="M74 54.1L76 54.4L77.1 52.3L75.1 52.1Z" color="#e6c54a"/>
<path d="M76 54.4L78 54.6L79.2 52.4L77.1 52.3Z" color="#e9c148"/>
<path d="M78 54.6L80.1 54.9L81.3 52.6L79.2 52.4Z" color="#eebf47"/>
<path d="M80.1 54.9L82.2 55.2L83.3 52.9L81.3 52.6Z" color="#f5c047"/>
<path d="M82.2 55.2L84.3 55.6L85.4 53.3L83.3 52.9Z" color="#fcc147"/>
<path d="M84.3 55.6L86.4 56.1L87.6 53.7L85.4 53.3Z" color="#ffc248"/>
<path d="M86.4 56.1L88.6 56.5L89.7 54.2L87.6 53.7Z" color="#ffc448"/>
<path d="M88.6 56.5L90.7 57.1L91.8 54.7L89.7 54.2Z" color="#ffc749"/>
<path d="M90.7 57.1L92.9 57.8L94 55.4L91.8 54.7Z" color="#ffcd4b"/>
<path d="M92.9 57.8L95 58.8L96.2 56.3L94 55.4Z" color="#ffd850"/>
<path d="M95 58.8L97.2 59.6L98.3 57.2L96.2 56.3Z" color="#ffda51"/>
<path d="M97.2 60.3L99.3 63.2L100.4 61.2L98.3 58.5Z" color="#ffff64"/>
<path d="M99.3 63.2L101.4 66.1L102.5 64L100.4 61.2Z" color="#f1ff7e"/>
<path d="M101.4 66.1L103.5 68.1L104.6 66.2L102.5 64Z" color="#cdff9e"/>
<path d="M103.5 68.1L105.7 69.7L106.7 67.8L104.6 66.2Z" color="#b1ffb1"/>
<path d="M105.7 69.7L107.9 70.9L108.9 69.2L106.7 67.8Z" color="#a0febd"/>
<path d="M107.9 70.9L110.1 72.1L111.1 70.4L108.9 69.2Z" color="#94f4c5"/>
<path d="M110.1 72.1L112.3 73.2L113.3 71.5L111.1 70.4Z" color="#8bedcd"/>
<path d="M112.3 73.2L114.5 74.4L115.5 72.7L113.3 71.5Z" color="#83e9d5"/>
<path d="M114.5 74.4L116.7 75.5L117.7 73.8L115.5 72.7Z" color="#7ce4de"/>
<path d="M116.7 75.5L118.9 76.6L119.9 74.9L117.7 73.8Z" color="#74dfe5"/>
<path d="M118.9 76.6L121.2 77.6L122.2 76L119.9 74.9Z" color="#6dd9ea"/>
<path d="M121.2 77.6L123.5 78.6L124.4 77L122.2 76Z" color="#67d4ee"/>
<path d="M123.5 78.6L125.7 79.6L126.7 77.9L124.4 77Z" color="#62cef1"/>
<path d="M125.7 79.6L128.1 80.5L129 78.9L126.7 77.9Z" color="#60c6f2"/>
<path d="M128.1 80.5L130.4 81.5L131.3 79.8L129 78.9Z" color="#5fc0f4"/>
<path d="M130.4 81.5L132.7 82.4L133.6 80.7L131.3 79.8Z" color="#5ebbf9"/>
<path d="M62.8 54.6L64.8 54.8L66 53.1L64 52.9Z" color="#c6d059"/>
<path d="M64.8 54.8L66.8 55L67.9 53.3L66 53.1Z" color="#cfd457"/>
<path d="M66.8 55L68.8 55.3L69.9 53.5L67.9 53.3Z" color="#d6d653"/>
<path d="M68.8 55.3L70.8 55.6L71.9 53.8L69.9 53.5Z" color="#dad451"/>
<path d="M70.8 55.6L72.8 55.9L74 54.1L71.9 53.8Z" color="#dfd350"/>
<path d="M72.8 55.9L74.8 56.3L76 54.4L74 54.1Z" color="#e3d250"/>
<path d="M74.8 56.3L76.9 56.6L78 54.6L76 54.4Z" color="#e6cf4f"/>
<path d="M76.9 56.6L79 57L80.1 54.9L78 54.6Z" color="#e9cd4e"/>
<path d="M79 57L81 57.4L82.2 55.2L80.1 54.9Z" color="#eecd4d"/>
<path d="M81 57.4L83.2 57.8L84.3 55.6L82.2 55.2Z" color="#f3ce4d"/>
<path d="M83.2 57.8L85.3 58.3L86.4 56.1L84.3 55.6Z" color="#f7ce4d"/>
<path d="M85.3 58.3L87.4 58.7L88.6 56.5L86.4 56.1Z" color="#fbcf4d"/>
<path d="M87.4 58.7L89.6 59.3L90.7 57.1L88.6 56.5Z" color="#ffd24f"/>
<path d="M89.6 59.3L91.7 60L92.9 57.8L90.7 57.1Z" color="#ffd951"/>
<path d="M91.7 60L93.9 60.8L95 58.8L92.9 57.8Z" color="#ffe756"/>
<path d="M93.9 60.8L96.1 61.9L97.2 59.6L95 58.8Z" color="#ffed59"/>
<path d="M96 63.5L98.2 65.6L99.3 63.2L97.2 60.3Z" color="#ffff6d"/>
<path d="M98.2 65.6L100.3 68L101.4 66.1L99.3 63.2Z" color="#dfff8e"/>
<path d="M100.3 68L102.5 69.9L103.5 68.1L101.4 66.1Z" color="#bdffaa"/>
<path d="M102.5 69.9L104.6 71.4L105.7 69.7L103.5 68.1Z" color="#a6ffbc"/>
<path d="M104.6 71.4L106.8 72.6L107.9 70.9L105.7 69.7Z" color="#96f6c5"/>
<path d="M106.8 72.6L109 73.8L110.1 72.1L107.9 70.9Z" color="#8beecc"/>
<path d="M109 73.8L111.2 74.9L112.3 73.2L110.1 72.1Z" color="#83e9d5"/>
<path d="M111.2 74.9L113.5 76.1L114.5 74.4L112.3 73.2Z" color="#7ce4de"/>
<path d="M113.5 76.1L115.7 77.2L116.7 75.5L114.5 74.4Z" color="#74dfe5"/>
<path d="M115.7 77.2L117.9 78.3L118.9 76.6L116.7 75.5Z" color="#6ddaec"/>
<path d="M117.9 78.3L120.2 79.3L121.2 77.6L118.9 76.6Z" color="#66d4f1"/>
<path d="M120.2 79.3L122.5 80.3L123.5 78.6L121.2 77.6Z" color="#62cdf4"/>
<path d="M122.5 80.3L124.8 81.3L125.7 79.6L123.5 78.6Z" color="#60c4f6"/>
<path d="M124.8 81.3L127.1 82.3L128.1 80.5L125.7 79.6Z" color="#5ebcf7"/>
<path d="M127.1 82.3L129.4 83.2L130.4 81.5L128.1 80.5Z" color="#5db6f9"/>
<path d="M129.4 83.2L131.7 84.2L132.7 82.4L130.4 81.5Z" color="#5cb2fe"/>
<path d="M61.6 56.3L63.6 56.6L64.8 54.8L62.8 54.6Z" color="#bbd062"/>
<path d="M63.6 56.6L65.6 56.9L66.8 55L64.8 54.8Z" color="#c5d660"/>
<path d="M65.6 56.9L67.6 57.2L68.8 55.3L66.8 55Z" color="#cbd75d"/>
<path d="M67.6 57.2L69.6 57.5L70.8 55.6L68.8 55.3Z" color="#d0d659"/>
<path d="M69.6 57.5L71.6 57.8L72.8 55.9L70.8 55.6Z" color="#d5d756"/>
<path d="M71.6 57.8L73.7 58.1L74.8 56.3L72.8 55.9Z" color="#dddb54"/>
<path d="M73.7 58.1L75.7 58.5L76.9 56.6L74.8 56.3Z" color="#e2da53"/>
<path d="M75.7 58.5L77.8 58.9L79 57L76.9 56.6Z" color="#e4d953"/>
<path d="M77.8 58.9L79.9 59.3L81 57.4L79 57Z" color="#e7d852"/>
<path d="M79.9 59.3L82 59.8L83.2 57.8L81 57.4Z" color="#ecd852"/>
<path d="M82 59.8L84.1 60.2L85.3 58.3L83.2 57.8Z" color="#efd852"/>
<path d="M84.1 60.2L86.3 60.8L87.4 58.7L85.3 58.3Z" color="#f3d952"/>
<path d="M86.3 60.8L88.4 61.3L89.6 59.3L87.4 58.7Z" color="#f9dc53"/>
<path d="M88.4 61.3L90.6 62L91.7 60L89.6 59.3Z" color="#ffe255"/>
<path d="M90.6 62L92.8 62.8L93.9 60.8L91.7 60Z" color="#ffec59"/>
<path d="M92.8 62.8L95 63.8L96.1 61.9L93.9 60.8Z" color="#fffa5f"/>
<path d="M94.9 65.5L97.1 67.5L98.2 65.6L96 63.5Z" color="#f2ff84"/>
<path d="M97.1 67.5L99.2 69.7L100.3 68L98.2 65.6Z" color="#cfff9c"/>
<path d="M99.2 69.7L101.4 71.5L102.5 69.9L100.3 68Z" color="#b1ffb3"/>
<path d="M101.4 71.5L103.6 73.1L104.6 71.4L102.5 69.9Z" color="#9effc6"/>
<path d="M103.6 73.1L105.8 74.3L106.8 72.6L104.6 71.4Z" color="#8df1cd"/>
<path d="M105.8 74.3L108 75.5L109 73.8L106.8 72.6Z" color="#84e9d4"/>
<path d="M108 75.5L110.2 76.6L111.2 74.9L109 73.8Z" color="#7de5de"/>
<path d="M110.2 76.6L112.4 77.8L113.5 76.1L111.2 74.9Z" color="#75e0e6"/>
<path d="M112.4 77.8L114.7 78.9L115.7 77.2L113.5 76.1Z" color="#6ddaed"/>
<path d="M114.7 78.9L116.9 80L117.9 78.3L115.7 77.2Z" color="#66d5f3"/>
<path d="M116.9 80L119.2 81L120.2 79.3L117.9 78.3Z" color="#63ccf6"/>
<path d="M119.2 81L121.5 82L122.5 80.3L120.2 79.3Z" color="#60c3fa"/>
<path d="M121.5 82L123.8 83L124.8 81.3L122.5 80.3Z" color="#5ebbfc"/>
<path d="M123.8 83L126.1 84L127.1 82.3L124.8 81.3Z" color="#5cb3fd"/>
<path d="M126.1 84L128.4 85L129.4 83.2L127.1 82.3Z" color="#5badff"/>
<path d="M128.4 85L130.8 85.9L131.7 84.2L129.4 83.2Z" color="#5aa8ff"/>
<path d="M60.4 58.3L62.4 58.5L63.6 56.6L61.6 56.3Z" color="#abcd6b"/>
<path d="M62.4 58.5L64.4 58.8L65.6 56.9L63.6 56.6Z" color="#b7d56a"/>
<path d="M64.4 58.8L66.4 59.1L67.6 57.2L65.6 56.9Z" color="#bdd667"/>
<path d="M66.4 59.1L68.4 59.4L69.6 57.5L67.6 57.2Z" color="#c1d462"/>
<path d="M68.4 59.4L70.4 59.7L71.6 57.8L69.6 57.5Z" color="#c6d55e"/>
<path d="M70.4 59.7L72.5 60L73.7 58.1L71.6 57.8Z" color="#d1db5d"/>
<path d="M72.5 60L74.5 60.5L75.7 58.5L73.7 58.1Z" color="#d7de5c"/>
<path d="M74.5 60.5L76.6 60.9L77.8 58.9L75.7 58.5Z" color="#dade59"/>
<path d="M76.6 60.9L78.7 61.3L79.9 59.3L77.8 58.9Z" color="#dddd56"/>
<path d="M78.7 61.3L80.8 61.7L82 59.8L79.9 59.3Z" color="#e2df55"/>
<path d="M80.8 61.7L83 62.2L84.1 60.2L82 59.8Z" color="#e6df55"/>
<path d="M83 62.2L85.1 62.7L86.3 60.8L84.1 60.2Z" color="#ebe156"/>
<path d="M85.1 62.7L87.3 63.3L88.4 61.3L86.3 60.8Z" color="#f0e557"/>
<path d="M87.3 63.3L89.4 64.1L90.6 62L88.4 61.3Z" color="#f7eb5a"/>
<path d="M89.4 64.1L91.6 64.9L92.8 62.8L90.6 62Z" color="#fcf35d"/>
<path d="M91.6 64.9L93.8 66L95 63.8L92.8 62.8Z" color="#ffff62"/>
<path d="M93.8 66.8L95.9 69.7L97.1 67.5L94.9 65.5Z" color="#e2ff8d"/>
<path d="M95.9 69.7L98.1 71.5L99.2 69.7L97.1 67.5Z" color="#c1ffa8"/>
<path d="M98.1 71.5L100.3 73.1L101.4 71.5L99.2 69.7Z" color="#a9ffbc"/>
<path d="M100.3 73.1L102.5 74.6L103.6 73.1L101.4 71.5Z" color="#97fbcc"/>
<path d="M102.5 74.6L104.7 75.9L105.8 74.3L103.6 73.1Z" color="#87ebd3"/>
<path d="M104.7 75.9L106.9 77.2L108 75.5L105.8 74.3Z" color="#7ee6dd"/>
<path d="M106.9 77.2L109.1 78.4L110.2 76.6L108 75.5Z" color="#76e2e7"/>
<path d="M109.1 78.4L111.4 79.5L112.4 77.8L110.2 76.6Z" color="#6edcef"/>
<path d="M111.4 79.5L113.6 80.6L114.7 78.9L112.4 77.8Z" color="#66d6f5"/>
<path d="M113.6 80.6L115.9 81.7L116.9 80L114.7 78.9Z" color="#63ccf8"/>
<path d="M115.9 81.7L118.2 82.7L119.2 81L116.9 80Z" color="#60c2fb"/>
<path d="M118.2 82.7L120.5 83.8L121.5 82L119.2 81Z" color="#5ebaff"/>
<path d="M120.5 83.8L122.8 84.8L123.8 83L121.5 82Z" color="#5cb1ff"/>
<path d="M122.8 84.8L125.1 85.7L126.1 84L123.8 83Z" color="#5aa9ff"/>
<path d="M125.1 85.7L127.5 86.7L128.4 85L126.1 84Z" color="#59a4ff"/>
<path d="M127.5 86.7L129.8 87.8L130.8 85.9L128.4 85Z" color="#589fff"/>
<path d="M59.2 60.4L61.2 60.6L62.4 58.5L60.4 58.3Z" color="#99ca75"/>
<path d="M61.2 60.6L63.2 60.8L64.4 58.8L62.4 58.5Z" color="#a4d073"/>
<path d="M63.2 60.8L65.2 61.1L66.4 59.1L64.4 58.8Z" color="#acd471"/>
<path d="M65.2 61.1L67.2 61.4L68.4 59.4L66.4 59.1Z" color="#b1d46d"/>
<path d="M67.2 61.4L69.2 61.8L70.4 59.7L68.4 59.4Z" color="#b7d369"/>
<path d="M69.2 61.8L71.3 62.1L72.5 60L70.4 59.7Z" color="#c0d968"/>
<path d="M71.3 62.1L73.4 62.5L74.5 60.5L72.5 60Z" color="#c7dc67"/>
<path d="M73.4 62.5L75.4 63L76.6 60.9L74.5 60.5Z" color="#cadc64"/>
<path d="M75.4 63L77.5 63.4L78.7 61.3L76.6 60.9Z" color="#cddc61"/>
<path d="M77.5 63.4L79.7 63.8L80.8 61.7L78.7 61.3Z" color="#d2de60"/>
<path d="M79.7 63.8L81.8 64.3L83 62.2L80.8 61.7Z" color="#d7e05e"/>
<path d="M81.8 64.3L83.9 64.9L85.1 62.7L83 62.2Z" color="#dde45e"/>
<path d="M83.9 64.9L86.1 65.5L87.3 63.3L85.1 62.7Z" color="#e2e85f"/>
<path d="M86.1 65.5L88.3 66.2L89.4 64.1L87.3 63.3Z" color="#e8ef62"/>
<path d="M88.3 66.2L90.5 67.1L91.6 64.9L89.4 64.1Z" color="#ebf467"/>
<path d="M90.5 67.1L92.7 67.9L93.8 66L91.6 64.9Z" color="#ecfb6d"/>
<path d="M92.7 68.8L94.8 71.1L95.9 69.7L93.8 66.8Z" color="#d5ff94"/>
<path d="M94.8 71.1L97 73.4L98.1 71.5L95.9 69.7Z" color="#b3ffb1"/>
<path d="M97 73.4L99.2 75.2L100.3 73.1L98.1 71.5Z" color="#9fffc9"/>
<path d="M99.2 75.2L101.4 76.6L102.5 74.6L100.3 73.1Z" color="#8df4d6"/>
<path d="M101.4 76.6L103.6 77.7L104.7 75.9L102.5 74.6Z" color="#7fe8dc"/>
<path d="M103.6 77.7L105.8 79L106.9 77.2L104.7 75.9Z" color="#78e4e8"/>
<path d="M105.8 79L108.1 80.1L109.1 78.4L106.9 77.2Z" color="#6fdef1"/>
<path d="M108.1 80.1L110.3 81.3L111.4 79.5L109.1 78.4Z" color="#66d7f8"/>
<path d="M110.3 81.3L112.6 82.4L113.6 80.6L111.4 79.5Z" color="#63cbfb"/>
<path d="M112.6 82.4L114.9 83.5L115.9 81.7L113.6 80.6Z" color="#60c1fd"/>
<path d="M114.9 83.5L117.2 84.5L118.2 82.7L115.9 81.7Z" color="#5eb7ff"/>
<path d="M117.2 84.5L119.5 85.5L120.5 83.8L118.2 82.7Z" color="#5cafff"/>
<path d="M119.5 85.5L121.8 86.5L122.8 84.8L120.5 83.8Z" color="#5aa7ff"/>
<path d="M121.8 86.5L124.1 87.5L125.1 85.7L122.8 84.8Z" color="#58a0ff"/>
<path d="M124.1 87.5L126.5 88.5L127.5 86.7L125.1 85.7Z" color="#579bff"/>
<path d="M126.5 88.5L128.8 89.5L129.8 87.8L127.5 86.7Z" color="#5695ff"/>
<path d="M58 62.4L60 62.6L61.2 60.6L59.2 60.4Z" color="#8cce83"/>
<path d="M60 62.6L62 62.9L63.2 60.8L61.2 60.6Z" color="#94cf7f"/>
<path d="M62 62.9L64 63.3L65.2 61.1L63.2 60.8Z" color="#9bd27d"/>
<path d="M64 63.3L66 63.6L67.2 61.4L65.2 61.1Z" color="#a1d47a"/>
<path d="M66 63.6L68 64L69.2 61.8L67.2 61.4Z" color="#a7d476"/>
<path d="M68 64L70.1 64.3L71.3 62.1L69.2 61.8Z" color="#add674"/>
<path d="M70.1 64.3L72.2 64.7L73.4 62.5L71.3 62.1Z" color="#b3d972"/>
<path d="M72.2 64.7L74.3 65.2L75.4 63L73.4 62.5Z" color="#b8db71"/>
<path d="M74.3 65.2L76.4 65.6L77.5 63.4L75.4 63Z" color="#bcdb6e"/>
<path d="M76.4 65.6L78.5 66.1L79.7 63.8L77.5 63.4Z" color="#c0dd6c"/>
<path d="M78.5 66.1L80.6 66.6L81.8 64.3L79.7 63.8Z" color="#c4de6b"/>
<path d="M80.6 66.6L82.8 67.2L83.9 64.9L81.8 64.3Z" color="#c9e16b"/>
<path d="M82.8 67.2L84.9 67.8L86.1 65.5L83.9 64.9Z" color="#cde56c"/>
<path d="M84.9 67.8L87.1 68.5L88.3 66.2L86.1 65.5Z" color="#d2eb6f"/>
<path d="M87.1 68.5L89.3 69.4L90.5 67.1L88.3 66.2Z" color="#d7f375"/>
<path d="M89.3 69.4L91.5 70.6L92.7 67.9L90.5 67.1Z" color="#d4f67a"/>
<path d="M91.5 71.5L93.7 73.3L94.8 71.1L92.7 68.8Z" color="#c2ffa2"/>
<path d="M93.7 73.3L95.9 75.6L97 73.4L94.8 71.1Z" color="#a8ffbe"/>
<path d="M95.9 75.6L98.1 77.2L99.2 75.2L97 73.4Z" color="#92fad8"/>
<path d="M98.1 77.2L100.3 78.6L101.4 76.6L99.2 75.2Z" color="#80ebe3"/>
<path d="M100.3 78.6L102.5 79.7L103.6 77.7L101.4 76.6Z" color="#74dfe7"/>
<path d="M102.5 79.7L104.7 80.9L105.8 79L103.6 77.7Z" color="#6ddcf1"/>
<path d="M104.7 80.9L107 82L108.1 80.1L105.8 79Z" color="#66d7f9"/>
<path d="M107 82L109.3 83.1L110.3 81.3L108.1 80.1Z" color="#63cafd"/>
<path d="M109.3 83.1L111.5 84.2L112.6 82.4L110.3 81.3Z" color="#60bfff"/>
<path d="M111.5 84.2L113.8 85.2L114.9 83.5L112.6 82.4Z" color="#5eb5ff"/>
<path d="M113.8 85.2L116.1 86.3L117.2 84.5L114.9 83.5Z" color="#5bacff"/>
<path d="M116.1 86.3L118.4 87.3L119.5 85.5L117.2 84.5Z" color="#59a4ff"/>
<path d="M118.4 87.3L120.8 88.2L121.8 86.5L119.5 85.5Z" color="#579dff"/>
<path d="M120.8 88.2L123.1 89.2L124.1 87.5L121.8 86.5Z" color="#5697ff"/>
<path d="M123.1 89.2L125.5 90.2L126.5 88.5L124.1 87.5Z" color="#5592ff"/>
<path d="M125.5 90.2L127.9 91.2L128.8 89.5L126.5 88.5Z" color="#548bff"/>
<path d="M56.8 64.4L58.8 64.8L60 62.6L58 62.4Z" color="#83ce94"/>
<path d="M58.8 64.8L60.8 65.1L62 62.9L60 62.6Z" color="#86ce8e"/>
<path d="M60.8 65.1L62.8 65.5L64 63.3L62 62.9Z" color="#8ad18a"/>
<path d="M62.8 65.5L64.8 65.9L66 63.6L64 63.3Z" color="#8fd487"/>
<path d="M64.8 65.9L66.8 66.3L68 64L66 63.6Z" color="#94d484"/>
<path d="M66.8 66.3L68.9 66.7L70.1 64.3L68 64Z" color="#99d581"/>
<path d="M68.9 66.7L71 67.1L72.2 64.7L70.1 64.3Z" color="#9ed780"/>
<path d="M71 67.1L73.1 67.5L74.3 65.2L72.2 64.7Z" color="#a3d97e"/>
<path d="M73.1 67.5L75.2 68L76.4 65.6L74.3 65.2Z" color="#a7da7c"/>
<path d="M75.2 68L77.3 68.5L78.5 66.1L76.4 65.6Z" color="#abdb7b"/>
<path d="M77.3 68.5L79.4 69L80.6 66.6L78.5 66.1Z" color="#afdd7a"/>
<path d="M79.4 69L81.6 69.6L82.8 67.2L80.6 66.6Z" color="#b3df7a"/>
<path d="M81.6 69.6L83.8 70.2L84.9 67.8L82.8 67.2Z" color="#b6e27a"/>
<path d="M83.8 70.2L85.9 70.8L87.1 68.5L84.9 67.8Z" color="#bbe77c"/>
<path d="M85.9 70.8L88.1 71.6L89.3 69.4L87.1 68.5Z" color="#c0f082"/>
<path d="M88.1 71.6L90.3 72.6L91.5 70.6L89.3 69.4Z" color="#c6fe8f"/>
<path d="M90.3 74.1L92.5 75.8L93.7 73.3L91.5 71.5Z" color="#a8ffb5"/>
<path d="M92.5 75.8L94.7 77.7L95.9 75.6L93.7 73.3Z" color="#98fed1"/>
<path d="M94.7 77.7L96.9 79.2L98.1 77.2L95.9 75.6Z" color="#84f1e6"/>
<path d="M96.9 79.2L99.1 80.5L100.3 78.6L98.1 77.2Z" color="#75e3ef"/>
<path d="M99.1 80.5L101.4 81.7L102.5 79.7L100.3 78.6Z" color="#6ad9f4"/>
<path d="M101.4 81.7L103.6 82.8L104.7 80.9L102.5 79.7Z" color="#65d1fa"/>
<path d="M103.6 82.8L105.9 83.9L107 82L104.7 80.9Z" color="#62c7fe"/>
<path d="M105.9 83.9L108.2 85L109.3 83.1L107 82Z" color="#60bcff"/>
<path d="M108.2 85L110.5 86L111.5 84.2L109.3 83.1Z" color="#5db2ff"/>
<path d="M110.5 86L112.8 87.1L113.8 85.2L111.5 84.2Z" color="#5ba9ff"/>
<path d="M112.8 87.1L115.1 88.1L116.1 86.3L113.8 85.2Z" color="#59a1ff"/>
<path d="M115.1 88.1L117.4 89L118.4 87.3L116.1 86.3Z" color="#5799ff"/>
<path d="M117.4 89L119.8 90L120.8 88.2L118.4 87.3Z" color="#5593ff"/>
<path d="M119.8 90L122.1 90.9L123.1 89.2L120.8 88.2Z" color="#548dff"/>
<path d="M122.1 90.9L124.5 91.9L125.5 90.2L123.1 89.2Z" color="#5288ff"/>
<path d="M124.5 91.9L126.9 92.9L127.9 91.2L125.5 90.2Z" color="#5284ff"/>
<path d="M55.6 66.9L57.6 67.3L58.8 64.8L56.8 64.4Z" color="#74c4a6"/>
<path d="M57.6 67.3L59.6 67.7L60.8 65.1L58.8 64.8Z" color="#76c4a0"/>
<path d="M59.6 67.7L61.6 68L62.8 65.5L60.8 65.1Z" color="#79c69c"/>
<path d="M61.6 68L63.6 68.4L64.8 65.9L62.8 65.5Z" color="#7dc898"/>
<path d="M63.6 68.4L65.6 68.8L66.8 66.3L64.8 65.9Z" color="#80cb95"/>
<path d="M65.6 68.8L67.7 69.2L68.9 66.7L66.8 66.3Z" color="#84cd91"/>
<path d="M67.7 69.2L69.8 69.6L71 67.1L68.9 66.7Z" color="#88d08f"/>
<path d="M69.8 69.6L71.9 70L73.1 67.5L71 67.1Z" color="#8cd48c"/>
<path d="M71.9 70L74 70.5L75.2 68L73.1 67.5Z" color="#8fd78a"/>
<path d="M74 70.5L76.1 71L77.3 68.5L75.2 68Z" color="#94d889"/>
<path d="M76.1 71L78.2 71.5L79.4 69L77.3 68.5Z" color="#98da88"/>
<path d="M78.2 71.5L80.4 72L81.6 69.6L79.4 69Z" color="#9bdc87"/>
<path d="M80.4 72L82.6 72.5L83.8 70.2L81.6 69.6Z" color="#9fde87"/>
<path d="M82.6 72.5L84.8 73.2L85.9 70.8L83.8 70.2Z" color="#a5e48a"/>
<path d="M84.8 73.2L87 73.9L88.1 71.6L85.9 70.8Z" color="#a9ea8e"/>
<path d="M87 73.9L89.2 74.8L90.3 72.6L88.1 71.6Z" color="#acf396"/>
<path d="M89.2 76.1L91.4 77.7L92.5 75.8L90.3 74.1Z" color="#9bffcb"/>
<path d="M91.4 77.7L93.6 79.5L94.7 77.7L92.5 75.8Z" color="#8bf6e2"/>
<path d="M93.6 79.5L95.8 81L96.9 79.2L94.7 77.7Z" color="#79eaf2"/>
<path d="M95.8 81L98 82.4L99.1 80.5L96.9 79.2Z" color="#6bddfb"/>
<path d="M98 82.4L100.3 83.5L101.4 81.7L99.1 80.5Z" color="#64cefd"/>
<path d="M100.3 83.5L102.5 84.7L103.6 82.8L101.4 81.7Z" color="#61c2ff"/>
<path d="M102.5 84.7L104.8 85.7L105.9 83.9L103.6 82.8Z" color="#5fb8ff"/>
<path d="M104.8 85.7L107.1 86.8L108.2 85L105.9 83.9Z" color="#5cafff"/>
<path d="M107.1 86.8L109.4 87.8L110.5 86L108.2 85Z" color="#5aa6ff"/>
<path d="M109.4 87.8L111.7 88.9L112.8 87.1L110.5 86Z" color="#589dff"/>
<path d="M111.7 88.9L114 89.8L115.1 88.1L112.8 87.1Z" color="#5696ff"/>
<path d="M114 89.8L116.4 90.8L117.4 89L115.1 88.1Z" color="#548fff"/>
<path d="M116.4 90.8L118.7 91.7L119.8 90L117.4 89Z" color="#5289ff"/>
<path d="M118.7 91.7L121.1 92.7L122.1 90.9L119.8 90Z" color="#5184ff"/>
<path d="M121.1 92.7L123.5 93.6L124.5 91.9L122.1 90.9Z" color="#4f7dff"/>
<path d="M123.5 93.6L125.9 94.5L126.9 92.9L124.5 91.9Z" color="#4b73f5"/>
<path d="M54.4 69.5L56.4 69.9L57.6 67.3L55.6 66.9Z" color="#61b8ba"/>
<path d="M56.4 69.9L58.4 70.3L59.6 67.7L57.6 67.3Z" color="#64b8b5"/>
<path d="M58.4 70.3L60.4 70.6L61.6 68L59.6 67.7Z" color="#67bab1"/>
<path d="M60.4 70.6L62.4 71L63.6 68.4L61.6 68Z" color="#6abcad"/>
<path d="M62.4 71L64.4 71.4L65.6 68.8L63.6 68.4Z" color="#6ebfa9"/>
<path d="M64.4 71.4L66.5 71.8L67.7 69.2L65.6 68.8Z" color="#71c1a5"/>
<path d="M66.5 71.8L68.6 72.2L69.8 69.6L67.7 69.2Z" color="#75c4a2"/>
<path d="M68.6 72.2L70.7 72.6L71.9 70L69.8 69.6Z" color="#79c7a0"/>
<path d="M70.7 72.6L72.8 73L74 70.5L71.9 70Z" color="#7dcb9d"/>
<path d="M72.8 73L74.9 73.4L76.1 71L74 70.5Z" color="#81ce9b"/>
<path d="M74.9 73.4L77 73.9L78.2 71.5L76.1 71Z" color="#84d198"/>
<path d="M77 73.9L79.2 74.3L80.4 72L78.2 71.5Z" color="#88d396"/>
<path d="M79.2 74.3L81.4 74.8L82.6 72.5L80.4 72Z" color="#8cd896"/>
<path d="M81.4 74.8L83.6 75.5L84.8 73.2L82.6 72.5Z" color="#92e19a"/>
<path d="M83.6 75.5L85.8 76.2L87 73.9L84.8 73.2Z" color="#95e59d"/>
<path d="M85.8 76.2L88 77L89.2 74.8L87 73.9Z" color="#97e9a2"/>
<path d="M88 77.9L90.2 79.5L91.4 77.7L89.2 76.1Z" color="#91f8d7"/>
<path d="M90.2 79.5L92.4 81.3L93.6 79.5L91.4 77.7Z" color="#82f0ec"/>
<path d="M92.4 81.3L94.6 82.9L95.8 81L93.6 79.5Z" color="#71e5fd"/>
<path d="M94.6 82.9L96.9 84.2L98 82.4L95.8 81Z" color="#67d3ff"/>
<path d="M96.9 84.2L99.1 85.4L100.3 83.5L98 82.4Z" color="#61c1ff"/>
<path d="M99.1 85.4L101.4 86.5L102.5 84.7L100.3 83.5Z" color="#5eb4ff"/>
<path d="M101.4 86.5L103.7 87.6L104.8 85.7L102.5 84.7Z" color="#5cabff"/>
<path d="M103.7 87.6L106 88.7L107.1 86.8L104.8 85.7Z" color="#589fff"/>
<path d="M106 88.7L108.3 89.7L109.4 87.8L107.1 86.8Z" color="#5290fe"/>
<path d="M108.3 89.7L110.6 90.7L111.7 88.9L109.4 87.8Z" color="#4a7fed"/>
<path d="M110.6 90.7L113 91.7L114 89.8L111.7 88.9Z" color="#426ed7"/>
<path d="M113 91.7L115.3 92.6L116.4 90.8L114 89.8Z" color="#395dbd"/>
<path d="M115.3 92.6L117.7 93.5L118.7 91.7L116.4 90.8Z" color="#314ea2"/>
<path d="M117.7 93.5L120.1 94.4L121.1 92.7L118.7 91.7Z" color="#2a418a"/>
<path d="M120.1 94.4L122.5 95.3L123.5 93.6L121.1 92.7Z" color="#243675"/>
<path d="M122.5 95.3L124.9 96.3L125.9 94.5L123.5 93.6Z" color="#1f2e67"/>
<path d="M53.1 71.1L55.1 71.5L56.4 69.9L54.4 69.5Z" color="#4692a5"/>
<path d="M55.1 71.5L57.1 72L58.4 70.3L56.4 69.9Z" color="#4a96a6"/>
<path d="M57.1 72L59.1 72.4L60.4 70.6L58.4 70.3Z" color="#4e9ba7"/>
<path d="M59.1 72.4L61.2 72.9L62.4 71L60.4 70.6Z" color="#53a0a8"/>
<path d="M61.2 72.9L63.2 73.3L64.4 71.4L62.4 71Z" color="#57a5a8"/>
<path d="M63.2 73.3L65.3 73.8L66.5 71.8L64.4 71.4Z" color="#5caaa7"/>
<path d="M65.3 73.8L67.4 74.2L68.6 72.2L66.5 71.8Z" color="#60afa7"/>
<path d="M67.4 74.2L69.4 74.7L70.7 72.6L68.6 72.2Z" color="#65b4a6"/>
<path d="M69.4 74.7L71.6 75.1L72.8 73L70.7 72.6Z" color="#6ab9a5"/>
<path d="M71.6 75.1L73.7 75.6L74.9 73.4L72.8 73Z" color="#6ebda4"/>
<path d="M73.7 75.6L75.8 76.1L77 73.9L74.9 73.4Z" color="#73c2a3"/>
<path d="M75.8 76.1L78 76.5L79.2 74.3L77 73.9Z" color="#77c6a2"/>
<path d="M78 76.5L80.2 77.1L81.4 74.8L79.2 74.3Z" color="#7ccba2"/>
<path d="M80.2 77.1L82.4 77.7L83.6 75.5L81.4 74.8Z" color="#83d7a9"/>
<path d="M82.4 77.7L84.6 78.5L85.8 76.2L83.6 75.5Z" color="#87dcad"/>
<path d="M84.6 78.5L86.8 78.9L88 77L85.8 76.2Z" color="#82d5a7"/>
<path d="M86.8 79.7L89 81.5L90.2 79.5L88 77.9Z" color="#87f1e0"/>
<path d="M89 81.5L91.2 83.3L92.4 81.3L90.2 79.5Z" color="#73e0ed"/>
<path d="M91.2 83.3L93.5 84.9L94.6 82.9L92.4 81.3Z" color="#5fc4ec"/>
<path d="M93.5 84.9L95.7 86.2L96.9 84.2L94.6 82.9Z" color="#51a0da"/>
<path d="M95.7 86.2L98 87.3L99.1 85.4L96.9 84.2Z" color="#4482c2"/>
<path d="M98 87.3L100.3 88.4L101.4 86.5L99.1 85.4Z" color="#3a6aab"/>
<path d="M100.3 88.4L102.6 89.5L103.7 87.6L101.4 86.5Z" color="#315694"/>
<path d="M102.6 89.5L104.9 90.5L106 88.7L103.7 87.6Z" color="#284680"/>
<path d="M104.9 90.5L107.2 91.6L108.3 89.7L106 88.7Z" color="#22396f"/>
<path d="M107.2 91.6L109.5 92.7L110.6 90.7L108.3 89.7Z" color="#1e3164"/>
<path d="M109.5 92.7L111.9 93.8L113 91.7L110.6 90.7Z" color="#1d2c5e"/>
<path d="M111.9 93.8L114.2 94.8L115.3 92.6L113 91.7Z" color="#1c2a5d"/>
<path d="M114.2 94.8L116.6 95.9L117.7 93.5L115.3 92.6Z" color="#1c285c"/>
<path d="M116.6 95.9L119 97L120.1 94.4L117.7 93.5Z" color="#1c265a"/>
<path d="M119 97L121.3 98L122.5 95.3L120.1 94.4Z" color="#1c2559"/>
<path d="M121.3 98L123.8 99.1L124.9 96.3L122.5 95.3Z" color="#1c2359"/>
<path d="M51.8 72.3L53.8 72.9L55.1 71.5L53.1 71.1Z" color="#1d3c47"/>
<path d="M53.8 72.9L55.8 73.4L57.1 72L55.1 71.5Z" color="#1d3e47"/>
<path d="M55.8 73.4L57.8 74L59.1 72.4L57.1 72Z" color="#1e3e47"/>
<path d="M57.8 74L59.9 74.5L61.2 72.9L59.1 72.4Z" color="#1f3f46"/>
<path d="M59.9 74.5L61.9 75L63.2 73.3L61.2 72.9Z" color="#204045"/>
<path d="M61.9 75L64 75.6L65.3 73.8L63.2 73.3Z" color="#214044"/>
<path d="M64 75.6L66.1 76.1L67.4 74.2L65.3 73.8Z" color="#224144"/>
<path d="M66.1 76.1L68.2 76.6L69.4 74.7L67.4 74.2Z" color="#234344"/>
<path d="M68.2 76.6L70.3 77.1L71.6 75.1L69.4 74.7Z" color="#254444"/>
<path d="M70.3 77.1L72.5 77.7L73.7 75.6L71.6 75.1Z" color="#264644"/>
<path d="M72.5 77.7L74.6 78.2L75.8 76.1L73.7 75.6Z" color="#284844"/>
<path d="M74.6 78.2L76.8 78.8L78 76.5L75.8 76.1Z" color="#2a4b45"/>
<path d="M76.8 78.8L79 79.3L80.2 77.1L78 76.5Z" color="#2c4e46"/>
<path d="M79 79.3L81.2 80L82.4 77.7L80.2 77.1Z" color="#30534a"/>
<path d="M81.2 80L83.4 80.8L84.6 78.5L82.4 77.7Z" color="#32584f"/>
<path d="M83.4 80.8L85.6 81.6L86.8 78.9L84.6 78.5Z" color="#32584e"/>
<path d="M85.6 83L87.8 84.2L89 81.5L86.8 79.7Z" color="#356970"/>
<path d="M87.8 84.2L90.1 85.7L91.2 83.3L89 81.5Z" color="#2c5c6d"/>
<path d="M90.1 85.7L92.3 87.1L93.5 84.9L91.2 83.3Z" color="#254965"/>
<path d="M92.3 87.1L94.6 88.4L95.7 86.2L93.5 84.9Z" color="#203c5e"/>
<path d="M94.6 88.4L96.8 89.6L98 87.3L95.7 86.2Z" color="#1e365d"/>
<path d="M96.8 89.6L99.1 90.8L100.3 88.4L98 87.3Z" color="#1e325e"/>
<path d="M99.1 90.8L101.4 92.1L102.6 89.5L100.3 88.4Z" color="#1d2f5f"/>
<path d="M101.4 92.1L103.7 93.3L104.9 90.5L102.6 89.5Z" color="#1c2c5d"/>
<path d="M103.7 93.3L106 94.5L107.2 91.6L104.9 90.5Z" color="#1c295b"/>
<path d="M106 94.5L108.3 95.6L109.5 92.7L107.2 91.6Z" color="#1c265a"/>
<path d="M108.3 95.6L110.7 96.6L111.9 93.8L109.5 92.7Z" color="#1b2459"/>
<path d="M110.7 96.6L113.1 97.6L114.2 94.8L111.9 93.8Z" color="#1c2158"/>
<path d="M113.1 97.6L115.4 98.5L116.6 95.9L114.2 94.8Z" color="#1c1f58"/>
<path d="M115.4 98.5L117.8 99.3L119 97L116.6 95.9Z" color="#1d1e59"/>
<path d="M117.8 99.3L120.3 100.2L121.3 98L119 97Z" color="#1d1d59"/>
<path d="M120.3 100.2L122.7 101L123.8 99.1L121.3 98Z" color="#1e1b59"/>
<path d="M50.5 74.1L52.5 74.8L53.8 72.9L51.8 72.3Z" color="#1e3e4e"/>
<path d="M52.5 74.8L54.5 75.5L55.8 73.4L53.8 72.9Z" color="#1e3e4e"/>
<path d="M54.5 75.5L56.6 76.2L57.8 74L55.8 73.4Z" color="#1e3e4d"/>
<path d="M56.6 76.2L58.6 76.9L59.9 74.5L57.8 74Z" color="#1e3e4c"/>
<path d="M58.6 76.9L60.7 77.6L61.9 75L59.9 74.5Z" color="#1e3d4b"/>
<path d="M60.7 77.6L62.8 78.3L64 75.6L61.9 75Z" color="#1d3d49"/>
<path d="M62.8 78.3L64.9 78.9L66.1 76.1L64 75.6Z" color="#1d3d48"/>
<path d="M64.9 78.9L67 79.6L68.2 76.6L66.1 76.1Z" color="#1d3d47"/>
<path d="M67 79.6L69.1 80.2L70.3 77.1L68.2 76.6Z" color="#1d3c45"/>
<path d="M69.1 80.2L71.3 80.9L72.5 77.7L70.3 77.1Z" color="#1d3c44"/>
<path d="M71.3 80.9L73.4 81.5L74.6 78.2L72.5 77.7Z" color="#1d3c43"/>
<path d="M73.4 81.5L75.6 82.2L76.8 78.8L74.6 78.2Z" color="#1d3b42"/>
<path d="M75.6 82.2L77.8 82.9L79 79.3L76.8 78.8Z" color="#1d3b41"/>
<path d="M77.8 82.9L80 83.6L81.2 80L79 79.3Z" color="#1e3c41"/>
<path d="M80 83.6L82.2 84.5L83.4 80.8L81.2 80Z" color="#1e3c42"/>
<path d="M82.2 84.5L84.4 85.5L85.6 81.6L83.4 80.8Z" color="#1e3c43"/>
<path d="M84.4 85.7L86.6 87.2L87.8 84.2L85.6 83Z" color="#203f56"/>
<path d="M86.6 87.2L88.9 88.7L90.1 85.7L87.8 84.2Z" color="#1f3a59"/>
<path d="M88.9 88.7L91.1 90.1L92.3 87.1L90.1 85.7Z" color="#1e345c"/>
<path d="M91.1 90.1L93.4 91.3L94.6 88.4L92.3 87.1Z" color="#1c2f5d"/>
<path d="M93.4 91.3L95.6 92.4L96.8 89.6L94.6 88.4Z" color="#1c2b5c"/>
<path d="M95.6 92.4L97.9 93.5L99.1 90.8L96.8 89.6Z" color="#1c295c"/>
<path d="M97.9 93.5L100.2 94.5L101.4 92.1L99.1 90.8Z" color="#1d275d"/>
<path d="M100.2 94.5L102.6 95.5L103.7 93.3L101.4 92.1Z" color="#1d245d"/>
<path d="M102.6 95.5L104.9 96.6L106 94.5L103.7 93.3Z" color="#1e215d"/>
<path d="M104.9 96.6L107.2 97.5L108.3 95.6L106 94.5Z" color="#1e1e5c"/>
<path d="M107.2 97.5L109.6 98.5L110.7 96.6L108.3 95.6Z" color="#201d5f"/>
<path d="M109.6 98.5L112 99.4L113.1 97.6L110.7 96.6Z" color="#231e68"/>
<path d="M112 99.4L114.4 100.3L115.4 98.5L113.1 97.6Z" color="#282176"/>
<path d="M114.4 100.3L116.8 101.2L117.8 99.3L115.4 98.5Z" color="#2f258a"/>
<path d="M116.8 101.2L119.2 102L120.3 100.2L117.8 99.3Z" color="#372ba0"/>
<path d="M119.2 102L121.7 102.9L122.7 101L120.3 100.2Z" color="#3f30b7"/>
<path d="M49.1 75L51.1 75.7L52.5 74.8L50.5 74.1Z" color="#316481"/>
<path d="M51.1 75.7L53.2 76.5L54.5 75.5L52.5 74.8Z" color="#30617f"/>
<path d="M53.2 76.5L55.2 77.3L56.6 76.2L54.5 75.5Z" color="#2f5e7c"/>
<path d="M55.2 77.3L57.3 78.1L58.6 76.9L56.6 76.2Z" color="#2e5a79"/>
<path d="M57.3 78.1L59.4 78.9L60.7 77.6L58.6 76.9Z" color="#2c5776"/>
<path d="M59.4 78.9L61.5 79.6L62.8 78.3L60.7 77.6Z" color="#2b5472"/>
<path d="M61.5 79.6L63.6 80.3L64.9 78.9L62.8 78.3Z" color="#29516f"/>
<path d="M63.6 80.3L65.7 81.1L67 79.6L64.9 78.9Z" color="#284e6b"/>
<path d="M65.7 81.1L67.8 81.8L69.1 80.2L67 79.6Z" color="#264c68"/>
<path d="M67.8 81.8L70 82.6L71.3 80.9L69.1 80.2Z" color="#254a64"/>
<path d="M70 82.6L72.2 83.3L73.4 81.5L71.3 80.9Z" color="#244761"/>
<path d="M72.2 83.3L74.3 84L75.6 82.2L73.4 81.5Z" color="#23465f"/>
<path d="M74.3 84L76.5 84.8L77.8 82.9L75.6 82.2Z" color="#22445c"/>
<path d="M76.5 84.8L78.7 85.6L80 83.6L77.8 82.9Z" color="#22435c"/>
<path d="M78.7 85.6L80.9 86.6L82.2 84.5L80 83.6Z" color="#22425c"/>
<path d="M80.9 86.6L83.2 87.6L84.4 85.5L82.2 84.5Z" color="#21405c"/>
<path d="M83.2 87.6L85.4 89.1L86.6 87.2L84.4 85.7Z" color="#213b61"/>
<path d="M85.4 89.1L87.7 90.6L88.9 88.7L86.6 87.2Z" color="#1f3564"/>
<path d="M87.7 90.6L89.9 91.9L91.1 90.1L88.9 88.7Z" color="#1e2f63"/>
<path d="M89.9 91.9L92.2 93.1L93.4 91.3L91.1 90.1Z" color="#1e2b63"/>
<path d="M92.2 93.1L94.5 94.2L95.6 92.4L93.4 91.3Z" color="#212b6a"/>
<path d="M94.5 94.2L96.8 95.3L97.9 93.5L95.6 92.4Z" color="#262d78"/>
<path d="M96.8 95.3L99.1 96.3L100.2 94.5L97.9 93.5Z" color="#2d318b"/>
<path d="M99.1 96.3L101.4 97.3L102.6 95.5L100.2 94.5Z" color="#3535a1"/>
<path d="M101.4 97.3L103.8 98.3L104.9 96.6L102.6 95.5Z" color="#3d39b9"/>
<path d="M103.8 98.3L106.1 99.3L107.2 97.5L104.9 96.6Z" color="#463bcf"/>
<path d="M106.1 99.3L108.5 100.3L109.6 98.5L107.2 97.5Z" color="#4d3ce1"/>
<path d="M108.5 100.3L110.9 101.2L112 99.4L109.6 98.5Z" color="#543dee"/>
<path d="M110.9 101.2L113.3 102.1L114.4 100.3L112 99.4Z" color="#593ef4"/>
<path d="M113.3 102.1L115.7 103L116.8 101.2L114.4 100.3Z" color="#5c3ef6"/>
<path d="M115.7 103L118.1 103.9L119.2 102L116.8 101.2Z" color="#5d3df5"/>
<path d="M118.1 103.9L120.6 104.8L121.7 102.9L119.2 102Z" color="#5e3cf5"/>
<path d="M47.7 76.1L49.8 76.9L51.1 75.7L49.1 75Z" color="#57b3df"/>
<path d="M49.8 76.9L51.8 77.7L53.2 76.5L51.1 75.7Z" color="#58b3e4"/>
<path d="M51.8 77.7L53.9 78.6L55.2 77.3L53.2 76.5Z" color="#58b1e6"/>
<path d="M53.9 78.6L56 79.4L57.3 78.1L55.2 77.3Z" color="#57aee8"/>
<path d="M56 79.4L58.1 80.2L59.4 78.9L57.3 78.1Z" color="#57abe8"/>
<path d="M58.1 80.2L60.2 81L61.5 79.6L59.4 78.9Z" color="#56a9e9"/>
<path d="M60.2 81L62.3 81.7L63.6 80.3L61.5 79.6Z" color="#56a8e9"/>
<path d="M62.3 81.7L64.4 82.5L65.7 81.1L63.6 80.3Z" color="#55a6ea"/>
<path d="M64.4 82.5L66.6 83.3L67.8 81.8L65.7 81.1Z" color="#55a5ea"/>
<path d="M66.6 83.3L68.7 84L70 82.6L67.8 81.8Z" color="#55a4ea"/>
<path d="M68.7 84L70.9 84.8L72.2 83.3L70 82.6Z" color="#55a3ea"/>
<path d="M70.9 84.8L73.1 85.6L74.3 84L72.2 83.3Z" color="#54a2ea"/>
<path d="M73.1 85.6L75.3 86.3L76.5 84.8L74.3 84Z" color="#54a1ea"/>
<path d="M75.3 86.3L77.5 87.2L78.7 85.6L76.5 84.8Z" color="#54a1ed"/>
<path d="M77.5 87.2L79.7 88.1L80.9 86.6L78.7 85.6Z" color="#549ff0"/>
<path d="M79.7 88.1L81.9 89.1L83.2 87.6L80.9 86.6Z" color="#539af2"/>
<path d="M81.9 89.2L84.2 90.6L85.4 89.1L83.2 87.6Z" color="#355ea3"/>
<path d="M84.2 90.6L86.5 92.1L87.7 90.6L85.4 89.1Z" color="#3b60c3"/>
<path d="M86.5 92.1L88.7 93.5L89.9 91.9L87.7 90.6Z" color="#4261d8"/>
<path d="M88.7 93.5L91 94.8L92.2 93.1L89.9 91.9Z" color="#4861eb"/>
<path d="M91 94.8L93.3 95.9L94.5 94.2L92.2 93.1Z" color="#4e5ff9"/>
<path d="M93.3 95.9L95.6 97L96.8 95.3L94.5 94.2Z" color="#545aff"/>
<path d="M95.6 97L97.9 98L99.1 96.3L96.8 95.3Z" color="#5755ff"/>
<path d="M97.9 98L100.3 99.1L101.4 97.3L99.1 96.3Z" color="#584fff"/>
<path d="M100.3 99.1L102.6 100.1L103.8 98.3L101.4 97.3Z" color="#5948ff"/>
<path d="M102.6 100.1L105 101.1L106.1 99.3L103.8 98.3Z" color="#5a43ff"/>
<path d="M105 101.1L107.4 102.1L108.5 100.3L106.1 99.3Z" color="#5d3ffc"/>
<path d="M107.4 102.1L109.8 103L110.9 101.2L108.5 100.3Z" color="#603df6"/>
<path d="M109.8 103L112.2 103.9L113.3 102.1L110.9 101.2Z" color="#613bf2"/>
<path d="M112.2 103.9L114.6 104.9L115.7 103L113.3 102.1Z" color="#6339f0"/>
<path d="M114.6 104.9L117.1 105.8L118.1 103.9L115.7 103Z" color="#6538ee"/>
<path d="M117.1 105.8L119.5 106.8L120.6 104.8L118.1 103.9Z" color="#6837ed"/>
<path d="M46.3 77.4L48.4 78.2L49.8 76.9L47.7 76.1Z" color="#59b7e3"/>
<path d="M48.4 78.2L50.5 79L51.8 77.7L49.8 76.9Z" color="#5ab6e7"/>
<path d="M50.5 79L52.5 79.8L53.9 78.6L51.8 77.7Z" color="#59b3e8"/>
<path d="M52.5 79.8L54.6 80.7L56 79.4L53.9 78.6Z" color="#58afe9"/>
<path d="M54.6 80.7L56.7 81.5L58.1 80.2L56 79.4Z" color="#57ace9"/>
<path d="M56.7 81.5L58.8 82.3L60.2 81L58.1 80.2Z" color="#56a9e9"/>
<path d="M58.8 82.3L61 83.1L62.3 81.7L60.2 81Z" color="#55a6ea"/>
<path d="M61 83.1L63.1 83.9L64.4 82.5L62.3 81.7Z" color="#55a5ea"/>
<path d="M63.1 83.9L65.2 84.7L66.6 83.3L64.4 82.5Z" color="#55a3eb"/>
<path d="M65.2 84.7L67.4 85.4L68.7 84L66.6 83.3Z" color="#54a2eb"/>
<path d="M67.4 85.4L69.6 86.2L70.9 84.8L68.7 84Z" color="#54a1ec"/>
<path d="M69.6 86.2L71.8 87L73.1 85.6L70.9 84.8Z" color="#54a1ed"/>
<path d="M71.8 87L74 87.8L75.3 86.3L73.1 85.6Z" color="#54a0ef"/>
<path d="M74 87.8L76.2 88.7L77.5 87.2L75.3 86.3Z" color="#55a0f3"/>
<path d="M76.2 88.7L78.4 89.6L79.7 88.1L77.5 87.2Z" color="#56a0f8"/>
<path d="M78.4 89.6L80.7 90.6L81.9 89.1L79.7 88.1Z" color="#569eff"/>
<path d="M80.7 90.9L83 92.3L84.2 90.6L81.9 89.2Z" color="#5b9dff"/>
<path d="M83 92.3L85.2 93.8L86.5 92.1L84.2 90.6Z" color="#598dff"/>
<path d="M85.2 93.8L87.5 95.1L88.7 93.5L86.5 92.1Z" color="#577dff"/>
<path d="M87.5 95.1L89.8 96.4L91 94.8L88.7 93.5Z" color="#566fff"/>
<path d="M89.8 96.4L92.1 97.6L93.3 95.9L91 94.8Z" color="#5761ff"/>
<path d="M92.1 97.6L94.4 98.7L95.6 97L93.3 95.9Z" color="#5857ff"/>
<path d="M94.4 98.7L96.8 99.8L97.9 98L95.6 97Z" color="#584fff"/>
<path d="M96.8 99.8L99.1 100.8L100.3 99.1L97.9 98Z" color="#5948ff"/>
<path d="M99.1 100.8L101.5 101.8L102.6 100.1L100.3 99.1Z" color="#5b42ff"/>
<path d="M101.5 101.8L103.9 102.8L105 101.1L102.6 100.1Z" color="#5f3ffb"/>
<path d="M103.9 102.8L106.2 103.8L107.4 102.1L105 101.1Z" color="#633bf5"/>
<path d="M106.2 103.8L108.7 104.8L109.8 103L107.4 102.1Z" color="#6539f0"/>
<path d="M108.7 104.8L111.1 105.7L112.2 103.9L109.8 103Z" color="#6736ec"/>
<path d="M111.1 105.7L113.5 106.7L114.6 104.9L112.2 103.9Z" color="#6a35e9"/>
<path d="M113.5 106.7L116 107.7L117.1 105.8L114.6 104.9Z" color="#6c33e8"/>
<path d="M116 107.7L118.4 108.6L119.5 106.8L117.1 105.8Z" color="#7032e4"/>
<path d="M44.9 78.8L47 79.5L48.4 78.2L46.3 77.4Z" color="#5ab7e5"/>
<path d="M47 79.5L49.1 80.4L50.5 79L48.4 78.2Z" color="#5ab6e8"/>
<path d="M49.1 80.4L51.1 81.2L52.5 79.8L50.5 79Z" color="#59b2e9"/>
<path d="M51.1 81.2L53.2 82L54.6 80.7L52.5 79.8Z" color="#58afe9"/>
<path d="M53.2 82L55.4 82.8L56.7 81.5L54.6 80.7Z" color="#57abe9"/>
<path d="M55.4 82.8L57.5 83.6L58.8 82.3L56.7 81.5Z" color="#56a8e9"/>
<path d="M57.5 83.6L59.6 84.4L61 83.1L58.8 82.3Z" color="#55a6ea"/>
<path d="M59.6 84.4L61.8 85.2L63.1 83.9L61 83.1Z" color="#55a4ea"/>
<path d="M61.8 85.2L63.9 86L65.2 84.7L63.1 83.9Z" color="#54a2eb"/>
<path d="M63.9 86L66.1 86.8L67.4 85.4L65.2 84.7Z" color="#54a1eb"/>
<path d="M66.1 86.8L68.3 87.6L69.6 86.2L67.4 85.4Z" color="#54a0ec"/>
<path d="M68.3 87.6L70.5 88.5L71.8 87L69.6 86.2Z" color="#549fed"/>
<path d="M70.5 88.5L72.7 89.3L74 87.8L71.8 87Z" color="#549ef0"/>
<path d="M72.7 89.3L74.9 90.2L76.2 88.7L74 87.8Z" color="#559ef4"/>
<path d="M74.9 90.2L77.2 91.1L78.4 89.6L76.2 88.7Z" color="#569efa"/>
<path d="M77.2 91.1L79.4 92.2L80.7 90.6L78.4 89.6Z" color="#569dff"/>
<path d="M79.5 92.7L81.7 94.1L83 92.3L80.7 90.9Z" color="#5994ff"/>
<path d="M81.7 94.1L84 95.5L85.2 93.8L83 92.3Z" color="#5886ff"/>
<path d="M84 95.5L86.3 96.8L87.5 95.1L85.2 93.8Z" color="#5878ff"/>
<path d="M86.3 96.8L88.6 98.1L89.8 96.4L87.5 95.1Z" color="#5769ff"/>
<path d="M88.6 98.1L90.9 99.3L92.1 97.6L89.8 96.4Z" color="#585cff"/>
<path d="M90.9 99.3L93.2 100.4L94.4 98.7L92.1 97.6Z" color="#5951ff"/>
<path d="M93.2 100.4L95.6 101.5L96.8 99.8L94.4 98.7Z" color="#5948ff"/>
<path d="M95.6 101.5L97.9 102.5L99.1 100.8L96.8 99.8Z" color="#5c42ff"/>
<path d="M97.9 102.5L100.3 103.6L101.5 101.8L99.1 100.8Z" color="#603efb"/>
<path d="M100.3 103.6L102.7 104.6L103.9 102.8L101.5 101.8Z" color="#643bf5"/>
<path d="M102.7 104.6L105.1 105.6L106.2 103.8L103.9 102.8Z" color="#6738ef"/>
<path d="M105.1 105.6L107.5 106.5L108.7 104.8L106.2 103.8Z" color="#6a35ea"/>
<path d="M107.5 106.5L110 107.5L111.1 105.7L108.7 104.8Z" color="#6c33e6"/>
<path d="M110 107.5L112.4 108.5L113.5 106.7L111.1 105.7Z" color="#7031e2"/>
<path d="M112.4 108.5L114.9 109.5L116 107.7L113.5 106.7Z" color="#7330de"/>
<path d="M114.9 109.5L117.4 110.5L118.4 108.6L116 107.7Z" color="#772fd9"/>
<path d="M43.5 80.2L45.6 80.9L47 79.5L44.9 78.8Z" color="#59b4e6"/>
<path d="M45.6 80.9L47.7 81.7L49.1 80.4L47 79.5Z" color="#59b3e8"/>
<path d="M47.7 81.7L49.8 82.5L51.1 81.2L49.1 80.4Z" color="#58b0e9"/>
<path d="M49.8 82.5L51.9 83.4L53.2 82L51.1 81.2Z" color="#57ade9"/>
<path d="M51.9 83.4L54 84.2L55.4 82.8L53.2 82Z" color="#56aae9"/>
<path d="M54 84.2L56.1 85L57.5 83.6L55.4 82.8Z" color="#56a8e9"/>
<path d="M56.1 85L58.2 85.8L59.6 84.4L57.5 83.6Z" color="#55a6ea"/>
<path d="M58.2 85.8L60.4 86.6L61.8 85.2L59.6 84.4Z" color="#55a4eb"/>
<path d="M60.4 86.6L62.6 87.4L63.9 86L61.8 85.2Z" color="#54a2eb"/>
<path d="M62.6 87.4L64.8 88.2L66.1 86.8L63.9 86Z" color="#54a1ec"/>
<path d="M64.8 88.2L67 89.1L68.3 87.6L66.1 86.8Z" color="#549fed"/>
<path d="M67 89.1L69.2 89.9L70.5 88.5L68.3 87.6Z" color="#549fef"/>
<path d="M69.2 89.9L71.4 90.8L72.7 89.3L70.5 88.5Z" color="#549ef3"/>
<path d="M71.4 90.8L73.6 91.7L74.9 90.2L72.7 89.3Z" color="#559ef8"/>
<path d="M73.6 91.7L75.9 92.7L77.2 91.1L74.9 90.2Z" color="#569dff"/>
<path d="M75.9 92.7L78.2 93.8L79.4 92.2L77.2 91.1Z" color="#579aff"/>
<path d="M78.2 94.5L80.5 95.9L81.7 94.1L79.5 92.7Z" color="#588cff"/>
<path d="M80.5 95.9L82.8 97.3L84 95.5L81.7 94.1Z" color="#587fff"/>
<path d="M82.8 97.3L85.1 98.6L86.3 96.8L84 95.5Z" color="#5772ff"/>
<path d="M85.1 98.6L87.4 99.8L88.6 98.1L86.3 96.8Z" color="#5962ff"/>
<path d="M87.4 99.8L89.7 101L90.9 99.3L88.6 98.1Z" color="#5a55ff"/>
<path d="M89.7 101L92 102.1L93.2 100.4L90.9 99.3Z" color="#5a4bff"/>
<path d="M92 102.1L94.4 103.2L95.6 101.5L93.2 100.4Z" color="#5b43ff"/>
<path d="M94.4 103.2L96.8 104.3L97.9 102.5L95.6 101.5Z" color="#603ffc"/>
<path d="M96.8 104.3L99.1 105.3L100.3 103.6L97.9 102.5Z" color="#643bf5"/>
<path d="M99.1 105.3L101.5 106.3L102.7 104.6L100.3 103.6Z" color="#6837ef"/>
<path d="M101.5 106.3L104 107.3L105.1 105.6L102.7 104.6Z" color="#6b35ea"/>
<path d="M104 107.3L106.4 108.3L107.5 106.5L105.1 105.6Z" color="#6e32e5"/>
<path d="M106.4 108.3L108.8 109.3L110 107.5L107.5 106.5Z" color="#7131df"/>
<path d="M108.8 109.3L111.3 110.2L112.4 108.5L110 107.5Z" color="#752fda"/>
<path d="M111.3 110.2L113.8 111.2L114.9 109.5L112.4 108.5Z" color="#782ed5"/>
<path d="M113.8 111.2L116.3 112.2L117.4 110.5L114.9 109.5Z" color="#7c2cd0"/>
<path d="M42.1 81.6L44.2 82.4L45.6 80.9L43.5 80.2Z" color="#58b1e7"/>
<path d="M44.2 82.4L46.2 83.2L47.7 81.7L45.6 80.9Z" color="#58b0e8"/>
<path d="M46.2 83.2L48.3 83.9L49.8 82.5L47.7 81.7Z" color="#57aee9"/>
<path d="M48.3 83.9L50.4 84.7L51.9 83.4L49.8 82.5Z" color="#57ace9"/>
<path d="M50.4 84.7L52.6 85.5L54 84.2L51.9 83.4Z" color="#56a9e9"/>
<path d="M52.6 85.5L54.7 86.4L56.1 85L54 84.2Z" color="#56a7e9"/>
<path d="M54.7 86.4L56.9 87.2L58.2 85.8L56.1 85Z" color="#55a6ea"/>
<path d="M56.9 87.2L59 88L60.4 86.6L58.2 85.8Z" color="#55a4ec"/>
<path d="M59 88L61.2 88.8L62.6 87.4L60.4 86.6Z" color="#55a2ed"/>
<path d="M61.2 88.8L63.4 89.7L64.8 88.2L62.6 87.4Z" color="#54a1ee"/>
<path d="M63.4 89.7L65.6 90.6L67 89.1L64.8 88.2Z" color="#54a0f0"/>
<path d="M65.6 90.6L67.8 91.4L69.2 89.9L67 89.1Z" color="#559ff3"/>
<path d="M67.8 91.4L70.1 92.4L71.4 90.8L69.2 89.9Z" color="#559ef8"/>
<path d="M70.1 92.4L72.3 93.4L73.6 91.7L71.4 90.8Z" color="#569dfe"/>
<path d="M72.3 93.4L74.6 94.4L75.9 92.7L73.6 91.7Z" color="#569bff"/>
<path d="M74.6 94.4L76.9 95.5L78.2 93.8L75.9 92.7Z" color="#5697ff"/>
<path d="M76.9 96.4L79.2 97.7L80.5 95.9L78.2 94.5Z" color="#5884ff"/>
<path d="M79.2 97.7L81.5 99.1L82.8 97.3L80.5 95.9Z" color="#5877ff"/>
<path d="M81.5 99.1L83.8 100.4L85.1 98.6L82.8 97.3Z" color="#5869ff"/>
<path d="M83.8 100.4L86.1 101.6L87.4 99.8L85.1 98.6Z" color="#5a5bff"/>
<path d="M86.1 101.6L88.5 102.8L89.7 101L87.4 99.8Z" color="#5b4eff"/>
<path d="M88.5 102.8L90.8 103.9L92 102.1L89.7 101Z" color="#5b44ff"/>
<path d="M90.8 103.9L93.2 104.9L94.4 103.2L92 102.1Z" color="#603ffe"/>
<path d="M93.2 104.9L95.6 106L96.8 104.3L94.4 103.2Z" color="#643bf6"/>
<path d="M95.6 106L98 107L99.1 105.3L96.8 104.3Z" color="#6838ef"/>
<path d="M98 107L100.4 108L101.5 106.3L99.1 105.3Z" color="#6b35ea"/>
<path d="M100.4 108L102.8 109L104 107.3L101.5 106.3Z" color="#6e32e4"/>
<path d="M102.8 109L105.2 110L106.4 108.3L104 107.3Z" color="#7130de"/>
<path d="M105.2 110L107.7 111L108.8 109.3L106.4 108.3Z" color="#752fd8"/>
<path d="M107.7 111L110.2 112L111.3 110.2L108.8 109.3Z" color="#782dd3"/>
<path d="M110.2 112L112.7 113L113.8 111.2L111.3 110.2Z" color="#7c2ccf"/>
<path d="M112.7 113L115.2 114L116.3 112.2L113.8 111.2Z" color="#802bca"/>
<path d="M40.6 83.1L42.7 83.8L44.2 82.4L42.1 81.6Z" color="#57ade7"/>
<path d="M42.7 83.8L44.8 84.6L46.2 83.2L44.2 82.4Z" color="#57ace8"/>
<path d="M44.8 84.6L46.9 85.4L48.3 83.9L46.2 83.2Z" color="#56abe8"/>
<path d="M46.9 85.4L49 86.2L50.4 84.7L48.3 83.9Z" color="#56aae9"/>
<path d="M49 86.2L51.2 87L52.6 85.5L50.4 84.7Z" color="#56a8e9"/>
<path d="M51.2 87L53.3 87.8L54.7 86.4L52.6 85.5Z" color="#56a7ea"/>
<path d="M53.3 87.8L55.5 88.6L56.9 87.2L54.7 86.4Z" color="#55a5ec"/>
<path d="M55.5 88.6L57.6 89.5L59 88L56.9 87.2Z" color="#55a4ed"/>
<path d="M57.6 89.5L59.8 90.3L61.2 88.8L59 88Z" color="#55a2ef"/>
<path d="M59.8 90.3L62 91.2L63.4 89.7L61.2 88.8Z" color="#55a1f1"/>
<path d="M62 91.2L64.3 92.1L65.6 90.6L63.4 89.7Z" color="#55a0f4"/>
<path d="M64.3 92.1L66.5 93L67.8 91.4L65.6 90.6Z" color="#559ff8"/>
<path d="M66.5 93L68.7 94L70.1 92.4L67.8 91.4Z" color="#569dfe"/>
<path d="M68.7 94L71 95.1L72.3 93.4L70.1 92.4Z" color="#569bff"/>
<path d="M71 95.1L73.3 96.2L74.6 94.4L72.3 93.4Z" color="#5697ff"/>
<path d="M73.3 96.2L75.6 97.3L76.9 95.5L74.6 94.4Z" color="#5591ff"/>
<path d="M75.6 98.2L77.9 99.6L79.2 97.7L76.9 96.4Z" color="#587bff"/>
<path d="M77.9 99.6L80.2 100.9L81.5 99.1L79.2 97.7Z" color="#586fff"/>
<path d="M80.2 100.9L82.5 102.2L83.8 100.4L81.5 99.1Z" color="#5a60ff"/>
<path d="M82.5 102.2L84.9 103.4L86.1 101.6L83.8 100.4Z" color="#5b52ff"/>
<path d="M84.9 103.4L87.2 104.5L88.5 102.8L86.1 101.6Z" color="#5b47ff"/>
<path d="M87.2 104.5L89.6 105.6L90.8 103.9L88.5 102.8Z" color="#6040ff"/>
<path d="M89.6 105.6L92 106.7L93.2 104.9L90.8 103.9Z" color="#643cf7"/>
<path d="M92 106.7L94.3 107.7L95.6 106L93.2 104.9Z" color="#6838f0"/>
<path d="M94.3 107.7L96.8 108.7L98 107L95.6 106Z" color="#6b35ea"/>
<path d="M96.8 108.7L99.2 109.7L100.4 108L98 107Z" color="#6d32e4"/>
<path d="M99.2 109.7L101.6 110.7L102.8 109L100.4 108Z" color="#7130de"/>
<path d="M101.6 110.7L104.1 111.7L105.2 110L102.8 109Z" color="#742fd8"/>
<path d="M104.1 111.7L106.5 112.7L107.7 111L105.2 110Z" color="#772dd3"/>
<path d="M106.5 112.7L109 113.7L110.2 112L107.7 111Z" color="#7b2cce"/>
<path d="M109 113.7L111.5 114.7L112.7 113L110.2 112Z" color="#7e2bca"/>
<path d="M111.5 114.7L114.1 115.8L115.2 114L112.7 113Z" color="#8229c6"/>
<path d="M39.2 84.5L41.3 85.3L42.7 83.8L40.6 83.1Z" color="#56aae7"/>
<path d="M41.3 85.3L43.4 86L44.8 84.6L42.7 83.8Z" color="#56a9e7"/>
<path d="M43.4 86L45.5 86.8L46.9 85.4L44.8 84.6Z" color="#56a8e8"/>
<path d="M45.5 86.8L47.6 87.6L49 86.2L46.9 85.4Z" color="#56a8e9"/>
<path d="M47.6 87.6L49.7 88.4L51.2 87L49 86.2Z" color="#56a7ea"/>
<path d="M49.7 88.4L51.9 89.2L53.3 87.8L51.2 87Z" color="#56a6ec"/>
<path d="M51.9 89.2L54.1 90.1L55.5 88.6L53.3 87.8Z" color="#55a5ed"/>
<path d="M54.1 90.1L56.2 91L57.6 89.5L55.5 88.6Z" color="#55a3f0"/>
<path d="M56.2 91L58.4 91.9L59.8 90.3L57.6 89.5Z" color="#55a2f2"/>
<path d="M58.4 91.9L60.7 92.8L62 91.2L59.8 90.3Z" color="#56a1f5"/>
<path d="M60.7 92.8L62.9 93.7L64.3 92.1L62 91.2Z" color="#569ff9"/>
<path d="M62.9 93.7L65.1 94.7L66.5 93L64.3 92.1Z" color="#569dff"/>
<path d="M65.1 94.7L67.4 95.8L68.7 94L66.5 93Z" color="#569bff"/>
<path d="M67.4 95.8L69.7 96.9L71 95.1L68.7 94Z" color="#5697ff"/>
<path d="M69.7 96.9L72 98L73.3 96.2L71 95.1Z" color="#5591ff"/>
<path d="M72 98L74.3 99.1L75.6 97.3L73.3 96.2Z" color="#548bff"/>
<path d="M74.3 100.1L76.6 101.4L77.9 99.6L75.6 98.2Z" color="#5774ff"/>
<path d="M76.6 101.4L78.9 102.7L80.2 100.9L77.9 99.6Z" color="#5965ff"/>
<path d="M78.9 102.7L81.3 104L82.5 102.2L80.2 100.9Z" color="#5b57ff"/>
<path d="M81.3 104L83.6 105.2L84.9 103.4L82.5 102.2Z" color="#5c4bff"/>
<path d="M83.6 105.2L86 106.3L87.2 104.5L84.9 103.4Z" color="#5f42ff"/>
<path d="M86 106.3L88.3 107.4L89.6 105.6L87.2 104.5Z" color="#643df9"/>
<path d="M88.3 107.4L90.7 108.4L92 106.7L89.6 105.6Z" color="#6738f1"/>
<path d="M90.7 108.4L93.1 109.4L94.3 107.7L92 106.7Z" color="#6a35ea"/>
<path d="M93.1 109.4L95.5 110.4L96.8 108.7L94.3 107.7Z" color="#6d32e5"/>
<path d="M95.5 110.4L98 111.4L99.2 109.7L96.8 108.7Z" color="#7030de"/>
<path d="M98 111.4L100.4 112.4L101.6 110.7L99.2 109.7Z" color="#732fd8"/>
<path d="M100.4 112.4L102.9 113.4L104.1 111.7L101.6 110.7Z" color="#762dd3"/>
<path d="M102.9 113.4L105.4 114.4L106.5 112.7L104.1 111.7Z" color="#792ccf"/>
<path d="M105.4 114.4L107.9 115.4L109 113.7L106.5 112.7Z" color="#7d2bcb"/>
<path d="M107.9 115.4L110.4 116.5L111.5 114.7L109 113.7Z" color="#802ac7"/>
<path d="M110.4 116.5L112.9 117.5L114.1 115.8L111.5 114.7Z" color="#8428c2"/>
<path d="M37.7 85.9L39.8 86.7L41.3 85.3L39.2 84.5Z" color="#55a7e6"/>
<path d="M39.8 86.7L41.9 87.5L43.4 86L41.3 85.3Z" color="#55a7e7"/>
<path d="M41.9 87.5L44 88.2L45.5 86.8L43.4 86Z" color="#55a6e8"/>
<path d="M44 88.2L46.1 89.1L47.6 87.6L45.5 86.8Z" color="#55a6ea"/>
<path d="M46.1 89.1L48.3 89.9L49.7 88.4L47.6 87.6Z" color="#55a6eb"/>
<path d="M48.3 89.9L50.4 90.7L51.9 89.2L49.7 88.4Z" color="#56a5ed"/>
<path d="M50.4 90.7L52.6 91.6L54.1 90.1L51.9 89.2Z" color="#56a4f0"/>
<path d="M52.6 91.6L54.8 92.5L56.2 91L54.1 90.1Z" color="#56a3f3"/>
<path d="M54.8 92.5L57 93.4L58.4 91.9L56.2 91Z" color="#56a1f6"/>
<path d="M57 93.4L59.3 94.4L60.7 92.8L58.4 91.9Z" color="#569ffa"/>
<path d="M59.3 94.4L61.5 95.4L62.9 93.7L60.7 92.8Z" color="#569dff"/>
<path d="M61.5 95.4L63.8 96.5L65.1 94.7L62.9 93.7Z" color="#569aff"/>
<path d="M63.8 96.5L66 97.6L67.4 95.8L65.1 94.7Z" color="#5696ff"/>
<path d="M66 97.6L68.3 98.7L69.7 96.9L67.4 95.8Z" color="#5591ff"/>
<path d="M68.3 98.7L70.6 99.8L72 98L69.7 96.9Z" color="#548bff"/>
<path d="M70.6 99.8L72.9 101L74.3 99.1L72 98Z" color="#5584ff"/>
<path d="M73 101.9L75.3 103.2L76.6 101.4L74.3 100.1Z" color="#586bff"/>
<path d="M75.3 103.2L77.6 104.5L78.9 102.7L76.6 101.4Z" color="#5a5cff"/>
<path d="M77.6 104.5L80 105.8L81.3 104L78.9 102.7Z" color="#5b4fff"/>
<path d="M80 105.8L82.3 106.9L83.6 105.2L81.3 104Z" color="#5d44ff"/>
<path d="M82.3 106.9L84.7 108L86 106.3L83.6 105.2Z" color="#623efd"/>
<path d="M84.7 108L87.1 109.1L88.3 107.4L86 106.3Z" color="#6739f3"/>
<path d="M87.1 109.1L89.5 110.2L90.7 108.4L88.3 107.4Z" color="#6a36ec"/>
<path d="M89.5 110.2L91.9 111.2L93.1 109.4L90.7 108.4Z" color="#6c33e6"/>
<path d="M91.9 111.2L94.3 112.2L95.5 110.4L93.1 109.4Z" color="#6f31df"/>
<path d="M94.3 112.2L96.8 113.2L98 111.4L95.5 110.4Z" color="#722fd9"/>
<path d="M96.8 113.2L99.2 114.2L100.4 112.4L98 111.4Z" color="#752ed4"/>
<path d="M99.2 114.2L101.7 115.1L102.9 113.4L100.4 112.4Z" color="#782cd0"/>
<path d="M101.7 115.1L104.2 116.2L105.4 114.4L102.9 113.4Z" color="#7b2bcc"/>
<path d="M104.2 116.2L106.7 117.2L107.9 115.4L105.4 114.4Z" color="#7e2ac8"/>
<path d="M106.7 117.2L109.2 118.2L110.4 116.5L107.9 115.4Z" color="#8229c4"/>
<path d="M109.2 118.2L111.8 119.3L112.9 117.5L110.4 116.5Z" color="#8628c0"/>
<path d="M36.2 87.3L38.3 88.1L39.8 86.7L37.7 85.9Z" color="#55a6e7"/>
<path d="M38.3 88.1L40.4 88.9L41.9 87.5L39.8 86.7Z" color="#55a6e8"/>
<path d="M40.4 88.9L42.5 89.7L44 88.2L41.9 87.5Z" color="#55a5e9"/>
<path d="M42.5 89.7L44.7 90.5L46.1 89.1L44 88.2Z" color="#55a5eb"/>
<path d="M44.7 90.5L46.8 91.4L48.3 89.9L46.1 89.1Z" color="#55a5ed"/>
<path d="M46.8 91.4L49 92.3L50.4 90.7L48.3 89.9Z" color="#56a4f0"/>
<path d="M49 92.3L51.2 93.2L52.6 91.6L50.4 90.7Z" color="#56a3f3"/>
<path d="M51.2 93.2L53.4 94.1L54.8 92.5L52.6 91.6Z" color="#56a1f6"/>
<path d="M53.4 94.1L55.6 95.1L57 93.4L54.8 92.5Z" color="#569ffb"/>
<path d="M55.6 95.1L57.8 96.1L59.3 94.4L57 93.4Z" color="#569dff"/>
<path d="M57.8 96.1L60.1 97.2L61.5 95.4L59.3 94.4Z" color="#569aff"/>
<path d="M60.1 97.2L62.4 98.3L63.8 96.5L61.5 95.4Z" color="#5696ff"/>
<path d="M62.4 98.3L64.7 99.4L66 97.6L63.8 96.5Z" color="#5591ff"/>
<path d="M64.7 99.4L67 100.6L68.3 98.7L66 97.6Z" color="#548aff"/>
<path d="M67 100.6L69.3 101.7L70.6 99.8L68.3 98.7Z" color="#5584ff"/>
<path d="M69.3 101.7L71.6 102.9L72.9 101L70.6 99.8Z" color="#557dff"/>
<path d="M71.6 103.7L74 105.1L75.3 103.2L73 101.9Z" color="#5962ff"/>
<path d="M74 105.1L76.3 106.3L77.6 104.5L75.3 103.2Z" color="#5b54ff"/>
<path d="M76.3 106.3L78.6 107.5L80 105.8L77.6 104.5Z" color="#5c48ff"/>
<path d="M78.6 107.5L81 108.7L82.3 106.9L80 105.8Z" color="#6141ff"/>
<path d="M81 108.7L83.4 109.8L84.7 108L82.3 106.9Z" color="#653bf7"/>
<path d="M83.4 109.8L85.8 110.9L87.1 109.1L84.7 108Z" color="#6937ee"/>
<path d="M85.8 110.9L88.2 111.9L89.5 110.2L87.1 109.1Z" color="#6c33e7"/>
<path d="M88.2 111.9L90.6 112.9L91.9 111.2L89.5 110.2Z" color="#6f31e0"/>
<path d="M90.6 112.9L93.1 113.9L94.3 112.2L91.9 111.2Z" color="#712fda"/>
<path d="M93.1 113.9L95.5 114.9L96.8 113.2L94.3 112.2Z" color="#742ed5"/>
<path d="M95.5 114.9L98 115.9L99.2 114.2L96.8 113.2Z" color="#762dd0"/>
<path d="M98 115.9L100.5 116.9L101.7 115.1L99.2 114.2Z" color="#792ccd"/>
<path d="M100.5 116.9L103 117.9L104.2 116.2L101.7 115.1Z" color="#7c2bc9"/>
<path d="M103 117.9L105.5 118.9L106.7 117.2L104.2 116.2Z" color="#7f29c6"/>
<path d="M105.5 118.9L108.1 120L109.2 118.2L106.7 117.2Z" color="#8328c2"/>
<path d="M108.1 120L110.6 121.1L111.8 119.3L109.2 118.2Z" color="#8727be"/>
<path d="M34.6 88.7L36.7 89.5L38.3 88.1L36.2 87.3Z" color="#55a6e8"/>
<path d="M36.7 89.5L38.9 90.3L40.4 88.9L38.3 88.1Z" color="#55a6e9"/>
<path d="M38.9 90.3L41 91.2L42.5 89.7L40.4 88.9Z" color="#55a5eb"/>
<path d="M41 91.2L43.2 92.1L44.7 90.5L42.5 89.7Z" color="#55a4ed"/>
<path d="M43.2 92.1L45.3 93L46.8 91.4L44.7 90.5Z" color="#56a4f0"/>
<path d="M45.3 93L47.5 93.9L49 92.3L46.8 91.4Z" color="#56a2f3"/>
<path d="M47.5 93.9L49.7 94.8L51.2 93.2L49 92.3Z" color="#56a1f7"/>
<path d="M49.7 94.8L51.9 95.8L53.4 94.1L51.2 93.2Z" color="#569ffb"/>
<path d="M51.9 95.8L54.2 96.8L55.6 95.1L53.4 94.1Z" color="#569dff"/>
<path d="M54.2 96.8L56.4 97.9L57.8 96.1L55.6 95.1Z" color="#569aff"/>
<path d="M56.4 97.9L58.7 99L60.1 97.2L57.8 96.1Z" color="#5696ff"/>
<path d="M58.7 99L61 100.1L62.4 98.3L60.1 97.2Z" color="#5590ff"/>
<path d="M61 100.1L63.3 101.3L64.7 99.4L62.4 98.3Z" color="#548aff"/>
<path d="M63.3 101.3L65.6 102.5L67 100.6L64.7 99.4Z" color="#5584ff"/>
<path d="M65.6 102.5L67.9 103.7L69.3 101.7L67 100.6Z" color="#557dff"/>
<path d="M67.9 103.7L70.2 104.9L71.6 102.9L69.3 101.7Z" color="#5576ff"/>
<path d="M70.3 105.6L72.6 106.9L74 105.1L71.6 103.7Z" color="#5a5aff"/>
<path d="M72.6 106.9L75 108.1L76.3 106.3L74 105.1Z" color="#5b4dff"/>
<path d="M75 108.1L77.3 109.3L78.6 107.5L76.3 106.3Z" color="#5e43ff"/>
<path d="M77.3 109.3L79.7 110.4L81 108.7L78.6 107.5Z" color="#643dfb"/>
<path d="M79.7 110.4L82.1 111.5L83.4 109.8L81 108.7Z" color="#6838f1"/>
<path d="M82.1 111.5L84.5 112.6L85.8 110.9L83.4 109.8Z" color="#6b34e9"/>
<path d="M84.5 112.6L86.9 113.6L88.2 111.9L85.8 110.9Z" color="#6e32e2"/>
<path d="M86.9 113.6L89.3 114.6L90.6 112.9L88.2 111.9Z" color="#7130db"/>
<path d="M89.3 114.6L91.8 115.6L93.1 113.9L90.6 112.9Z" color="#732ed6"/>
<path d="M91.8 115.6L94.3 116.6L95.5 114.9L93.1 113.9Z" color="#752dd1"/>
<path d="M94.3 116.6L96.8 117.6L98 115.9L95.5 114.9Z" color="#772cce"/>
<path d="M96.8 117.6L99.3 118.6L100.5 116.9L98 115.9Z" color="#7a2bca"/>
<path d="M99.3 118.6L101.8 119.6L103 117.9L100.5 116.9Z" color="#7c2ac7"/>
<path d="M101.8 119.6L104.3 120.7L105.5 118.9L103 117.9Z" color="#8029c4"/>
<path d="M104.3 120.7L106.9 121.8L108.1 120L105.5 118.9Z" color="#8428c1"/>
<path d="M106.9 121.8L109.5 122.9L110.6 121.1L108.1 120Z" color="#8927bd"/>
<path d="M33.1 90.1L35.2 91L36.7 89.5L34.6 88.7Z" color="#55a7e9"/>
<path d="M35.2 91L37.3 91.8L38.9 90.3L36.7 89.5Z" color="#56a6eb"/>
<path d="M37.3 91.8L39.5 92.7L41 91.2L38.9 90.3Z" color="#56a5ee"/>
<path d="M39.5 92.7L41.7 93.6L43.2 92.1L41 91.2Z" color="#56a4f0"/>
<path d="M41.7 93.6L43.8 94.5L45.3 93L43.2 92.1Z" color="#56a3f3"/>
<path d="M43.8 94.5L46 95.5L47.5 93.9L45.3 93Z" color="#56a1f7"/>
<path d="M46 95.5L48.2 96.5L49.7 94.8L47.5 93.9Z" color="#569ffb"/>
<path d="M48.2 96.5L50.5 97.5L51.9 95.8L49.7 94.8Z" color="#569dff"/>
<path d="M50.5 97.5L52.7 98.5L54.2 96.8L51.9 95.8Z" color="#5699ff"/>
<path d="M52.7 98.5L55 99.6L56.4 97.9L54.2 96.8Z" color="#5595ff"/>
<path d="M55 99.6L57.3 100.8L58.7 99L56.4 97.9Z" color="#5590ff"/>
<path d="M57.3 100.8L59.6 101.9L61 100.1L58.7 99Z" color="#548aff"/>
<path d="M59.6 101.9L61.9 103.2L63.3 101.3L61 100.1Z" color="#5584ff"/>
<path d="M61.9 103.2L64.2 104.4L65.6 102.5L63.3 101.3Z" color="#557eff"/>
<path d="M64.2 104.4L66.5 105.6L67.9 103.7L65.6 102.5Z" color="#5576ff"/>
<path d="M66.5 105.6L68.9 106.8L70.2 104.9L67.9 103.7Z" color="#556fff"/>
<path d="M68.9 107.4L71.2 108.7L72.6 106.9L70.3 105.6Z" color="#5b53ff"/>
<path d="M71.2 108.7L73.6 109.9L75 108.1L72.6 106.9Z" color="#5c47ff"/>
<path d="M73.6 109.9L76 111.1L77.3 109.3L75 108.1Z" color="#6140ff"/>
<path d="M76 111.1L78.4 112.2L79.7 110.4L77.3 109.3Z" color="#663af6"/>
<path d="M78.4 112.2L80.8 113.3L82.1 111.5L79.7 110.4Z" color="#6a36ed"/>
<path d="M80.8 113.3L83.2 114.3L84.5 112.6L82.1 111.5Z" color="#6d32e6"/>
<path d="M83.2 114.3L85.6 115.4L86.9 113.6L84.5 112.6Z" color="#7030dd"/>
<path d="M85.6 115.4L88.1 116.4L89.3 114.6L86.9 113.6Z" color="#722fd7"/>
<path d="M88.1 116.4L90.5 117.4L91.8 115.6L89.3 114.6Z" color="#742dd2"/>
<path d="M90.5 117.4L93 118.4L94.3 116.6L91.8 115.6Z" color="#762ccf"/>
<path d="M93 118.4L95.5 119.4L96.8 117.6L94.3 116.6Z" color="#782bcc"/>
<path d="M95.5 119.4L98 120.4L99.3 118.6L96.8 117.6Z" color="#7a2ac9"/>
<path d="M98 120.4L100.6 121.4L101.8 119.6L99.3 118.6Z" color="#7d2ac6"/>
<path d="M100.6 121.4L103.1 122.5L104.3 120.7L101.8 119.6Z" color="#8029c3"/>
<path d="M103.1 122.5L105.7 123.6L106.9 121.8L104.3 120.7Z" color="#8528c0"/>
<path d="M105.7 123.6L108.3 124.7L109.5 122.9L106.9 121.8Z" color="#8a26bc"/>
<path d="M31.5 91.6L33.6 92.4L35.2 91L33.1 90.1Z" color="#56a7eb"/>
<path d="M33.6 92.4L35.8 93.4L37.3 91.8L35.2 91Z" color="#56a6ee"/>
<path d="M35.8 93.4L38 94.3L39.5 92.7L37.3 91.8Z" color="#56a5f1"/>
<path d="M38 94.3L40.1 95.2L41.7 93.6L39.5 92.7Z" color="#56a3f4"/>
<path d="M40.1 95.2L42.3 96.2L43.8 94.5L41.7 93.6Z" color="#56a1f7"/>
<path d="M42.3 96.2L44.5 97.2L46 95.5L43.8 94.5Z" color="#569ffb"/>
<path d="M44.5 97.2L46.8 98.2L48.2 96.5L46 95.5Z" color="#569cff"/>
<path d="M46.8 98.2L49 99.2L50.5 97.5L48.2 96.5Z" color="#5699ff"/>
<path d="M49 99.2L51.3 100.3L52.7 98.5L50.5 97.5Z" color="#5595ff"/>
<path d="M51.3 100.3L53.5 101.4L55 99.6L52.7 98.5Z" color="#5590ff"/>
<path d="M53.5 101.4L55.8 102.6L57.3 100.8L55 99.6Z" color="#548aff"/>
<path d="M55.8 102.6L58.1 103.8L59.6 101.9L57.3 100.8Z" color="#5485ff"/>
<path d="M58.1 103.8L60.4 105L61.9 103.2L59.6 101.9Z" color="#557eff"/>
<path d="M60.4 105L62.8 106.3L64.2 104.4L61.9 103.2Z" color="#5577ff"/>
<path d="M62.8 106.3L65.1 107.6L66.5 105.6L64.2 104.4Z" color="#556fff"/>
<path d="M65.1 107.6L67.5 108.8L68.9 106.8L66.5 105.6Z" color="#5765ff"/>
<path d="M67.5 109.2L69.8 110.5L71.2 108.7L68.9 107.4Z" color="#5b4dff"/>
<path d="M69.8 110.5L72.2 111.7L73.6 109.9L71.2 108.7Z" color="#5e43ff"/>
<path d="M72.2 111.7L74.6 112.8L76 111.1L73.6 109.9Z" color="#643dfb"/>
<path d="M74.6 112.8L77 114L78.4 112.2L76 111.1Z" color="#6838f1"/>
<path d="M77 114L79.4 115L80.8 113.3L78.4 112.2Z" color="#6c34e9"/>
<path d="M79.4 115L81.8 116.1L83.2 114.3L80.8 113.3Z" color="#6f31e1"/>
<path d="M81.8 116.1L84.3 117.1L85.6 115.4L83.2 114.3Z" color="#712fda"/>
<path d="M84.3 117.1L86.7 118.1L88.1 116.4L85.6 115.4Z" color="#732ed4"/>
<path d="M86.7 118.1L89.2 119.1L90.5 117.4L88.1 116.4Z" color="#752dd0"/>
<path d="M89.2 119.1L91.7 120.1L93 118.4L90.5 117.4Z" color="#772ccd"/>
<path d="M91.7 120.1L94.2 121.2L95.5 119.4L93 118.4Z" color="#792bca"/>
<path d="M94.2 121.2L96.8 122.2L98 120.4L95.5 119.4Z" color="#7b2ac8"/>
<path d="M96.8 122.2L99.3 123.2L100.6 121.4L98 120.4Z" color="#7e29c5"/>
<path d="M99.3 123.2L101.9 124.3L103.1 122.5L100.6 121.4Z" color="#8128c2"/>
<path d="M101.9 124.3L104.5 125.4L105.7 123.6L103.1 122.5Z" color="#8627bf"/>
<path d="M104.5 125.4L107.1 126.6L108.3 124.7L105.7 123.6Z" color="#8b26bb"/>
<path d="M29.9 93.1L32.1 94L33.6 92.4L31.5 91.6Z" color="#56a8ee"/>
<path d="M32.1 94L34.2 94.9L35.8 93.4L33.6 92.4Z" color="#57a6f2"/>
<path d="M34.2 94.9L36.4 95.9L38 94.3L35.8 93.4Z" color="#57a4f5"/>
<path d="M36.4 95.9L38.6 96.9L40.1 95.2L38 94.3Z" color="#56a2f8"/>
<path d="M38.6 96.9L40.8 97.9L42.3 96.2L40.1 95.2Z" color="#569ffb"/>
<path d="M40.8 97.9L43 98.9L44.5 97.2L42.3 96.2Z" color="#569cff"/>
<path d="M43 98.9L45.3 99.9L46.8 98.2L44.5 97.2Z" color="#5599ff"/>
<path d="M45.3 99.9L47.5 101L49 99.2L46.8 98.2Z" color="#5595ff"/>
<path d="M47.5 101L49.8 102.1L51.3 100.3L49 99.2Z" color="#5490ff"/>
<path d="M49.8 102.1L52.1 103.3L53.5 101.4L51.3 100.3Z" color="#548aff"/>
<path d="M52.1 103.3L54.4 104.5L55.8 102.6L53.5 101.4Z" color="#5485ff"/>
<path d="M54.4 104.5L56.7 105.7L58.1 103.8L55.8 102.6Z" color="#557fff"/>
<path d="M56.7 105.7L59 106.9L60.4 105L58.1 103.8Z" color="#5578ff"/>
<path d="M59 106.9L61.3 108.2L62.8 106.3L60.4 105Z" color="#5571ff"/>
<path d="M61.3 108.2L63.7 109.5L65.1 107.6L62.8 106.3Z" color="#5766ff"/>
<path d="M63.7 109.5L66.1 110.8L67.5 108.8L65.1 107.6Z" color="#595bff"/>
<path d="M66.1 111L68.4 112.3L69.8 110.5L67.5 109.2Z" color="#5c48ff"/>
<path d="M68.4 112.3L70.8 113.5L72.2 111.7L69.8 110.5Z" color="#6140ff"/>
<path d="M70.8 113.5L73.2 114.6L74.6 112.8L72.2 111.7Z" color="#663af5"/>
<path d="M73.2 114.6L75.6 115.7L77 114L74.6 112.8Z" color="#6a36ed"/>
<path d="M75.6 115.7L78.1 116.8L79.4 115L77 114Z" color="#6d32e5"/>
<path d="M78.1 116.8L80.5 117.9L81.8 116.1L79.4 115Z" color="#7030dd"/>
<path d="M80.5 117.9L82.9 118.9L84.3 117.1L81.8 116.1Z" color="#732ed6"/>
<path d="M82.9 118.9L85.4 119.9L86.7 118.1L84.3 117.1Z" color="#752dd1"/>
<path d="M85.4 119.9L87.9 120.9L89.2 119.1L86.7 118.1Z" color="#772cce"/>
<path d="M87.9 120.9L90.4 121.9L91.7 120.1L89.2 119.1Z" color="#782bcb"/>
<path d="M90.4 121.9L93 123L94.2 121.2L91.7 120.1Z" color="#7a2ac9"/>
<path d="M93 123L95.5 124L96.8 122.2L94.2 121.2Z" color="#7d2ac6"/>
<path d="M95.5 124L98.1 125.1L99.3 123.2L96.8 122.2Z" color="#7f29c4"/>
<path d="M98.1 125.1L100.6 126.2L101.9 124.3L99.3 123.2Z" color="#8328c1"/>
<path d="M100.6 126.2L103.2 127.3L104.5 125.4L101.9 124.3Z" color="#8727be"/>
<path d="M103.2 127.3L105.9 128.5L107.1 126.6L104.5 125.4Z" color="#8d26ba"/>
<path d="M28.3 94.6L30.5 95.6L32.1 94L29.9 93.1Z" color="#57a8f2"/>
<path d="M30.5 95.6L32.7 96.6L34.2 94.9L32.1 94Z" color="#57a6f7"/>
<path d="M32.7 96.6L34.8 97.6L36.4 95.9L34.2 94.9Z" color="#57a3f9"/>
<path d="M34.8 97.6L37 98.6L38.6 96.9L36.4 95.9Z" color="#569ffc"/>
<path d="M37 98.6L39.3 99.6L40.8 97.9L38.6 96.9Z" color="#569cff"/>
<path d="M39.3 99.6L41.5 100.6L43 98.9L40.8 97.9Z" color="#5598ff"/>
<path d="M41.5 100.6L43.7 101.7L45.3 99.9L43 98.9Z" color="#5594ff"/>
<path d="M43.7 101.7L46 102.8L47.5 101L45.3 99.9Z" color="#5490ff"/>
<path d="M46 102.8L48.3 104L49.8 102.1L47.5 101Z" color="#538aff"/>
<path d="M48.3 104L50.6 105.1L52.1 103.3L49.8 102.1Z" color="#5485ff"/>
<path d="M50.6 105.1L52.9 106.3L54.4 104.5L52.1 103.3Z" color="#5480ff"/>
<path d="M52.9 106.3L55.2 107.6L56.7 105.7L54.4 104.5Z" color="#5479ff"/>
<path d="M55.2 107.6L57.5 108.8L59 106.9L56.7 105.7Z" color="#5572ff"/>
<path d="M57.5 108.8L59.9 110.1L61.3 108.2L59 106.9Z" color="#5669ff"/>
<path d="M59.9 110.1L62.2 111.4L63.7 109.5L61.3 108.2Z" color="#585eff"/>
<path d="M62.2 111.4L64.6 112.7L66.1 110.8L63.7 109.5Z" color="#5b53ff"/>
<path d="M64.6 112.7L67 114L68.4 112.3L66.1 111Z" color="#5c44ff"/>
<path d="M67 114L69.4 115.2L70.8 113.5L68.4 112.3Z" color="#633efb"/>
<path d="M69.4 115.2L71.8 116.4L73.2 114.6L70.8 113.5Z" color="#6838f2"/>
<path d="M71.8 116.4L74.2 117.5L75.6 115.7L73.2 114.6Z" color="#6b34ea"/>
<path d="M74.2 117.5L76.7 118.6L78.1 116.8L75.6 115.7Z" color="#6f31e1"/>
<path d="M76.7 118.6L79.1 119.7L80.5 117.9L78.1 116.8Z" color="#722fda"/>
<path d="M79.1 119.7L81.6 120.7L82.9 118.9L80.5 117.9Z" color="#752dd4"/>
<path d="M81.6 120.7L84.1 121.7L85.4 119.9L82.9 118.9Z" color="#772ccf"/>
<path d="M84.1 121.7L86.6 122.8L87.9 120.9L85.4 119.9Z" color="#782bcc"/>
<path d="M86.6 122.8L89.1 123.8L90.4 121.9L87.9 120.9Z" color="#7a2bc9"/>
<path d="M89.1 123.8L91.6 124.8L93 123L90.4 121.9Z" color="#7c2ac7"/>
<path d="M91.6 124.8L94.2 125.9L95.5 124L93 123Z" color="#7f29c5"/>
<path d="M94.2 125.9L96.8 127L98.1 125.1L95.5 124Z" color="#8228c2"/>
<path d="M96.8 127L99.4 128.1L100.6 126.2L98.1 125.1Z" color="#8528c0"/>
<path d="M99.4 128.1L102 129.2L103.2 127.3L100.6 126.2Z" color="#8a26bc"/>
<path d="M102 129.2L104.6 130.4L105.9 128.5L103.2 127.3Z" color="#8f26ba"/>
<path d="M26.7 96.2L28.9 97.2L30.5 95.6L28.3 94.6Z" color="#58a7f7"/>
<path d="M28.9 97.2L31.1 98.3L32.7 96.6L30.5 95.6Z" color="#58a5fc"/>
<path d="M31.1 98.3L33.3 99.3L34.8 97.6L32.7 96.6Z" color="#57a0fe"/>
<path d="M33.3 99.3L35.5 100.3L37 98.6L34.8 97.6Z" color="#569cff"/>
<path d="M35.5 100.3L37.7 101.4L39.3 99.6L37 98.6Z" color="#5598ff"/>
<path d="M37.7 101.4L39.9 102.4L41.5 100.6L39.3 99.6Z" color="#5594ff"/>
<path d="M39.9 102.4L42.2 103.5L43.7 101.7L41.5 100.6Z" color="#548fff"/>
<path d="M42.2 103.5L44.5 104.6L46 102.8L43.7 101.7Z" color="#538aff"/>
<path d="M44.5 104.6L46.8 105.8L48.3 104L46 102.8Z" color="#5385ff"/>
<path d="M46.8 105.8L49.1 107L50.6 105.1L48.3 104Z" color="#5480ff"/>
<path d="M49.1 107L51.4 108.2L52.9 106.3L50.6 105.1Z" color="#547aff"/>
<path d="M51.4 108.2L53.7 109.4L55.2 107.6L52.9 106.3Z" color="#5474ff"/>
<path d="M53.7 109.4L56.1 110.7L57.5 108.8L55.2 107.6Z" color="#556cff"/>
<path d="M56.1 110.7L58.4 111.9L59.9 110.1L57.5 108.8Z" color="#5762ff"/>
<path d="M58.4 111.9L60.8 113.2L62.2 111.4L59.9 110.1Z" color="#5958ff"/>
<path d="M60.8 113.2L63.2 114.5L64.6 112.7L62.2 111.4Z" color="#5a4dff"/>
<path d="M63.2 114.5L65.6 115.8L67 114L64.6 112.7Z" color="#5d43ff"/>
<path d="M65.6 115.8L68 117L69.4 115.2L67 114Z" color="#643cf9"/>
<path d="M68 117L70.4 118.2L71.8 116.4L69.4 115.2Z" color="#6937f0"/>
<path d="M70.4 118.2L72.8 119.3L74.2 117.5L71.8 116.4Z" color="#6d33e8"/>
<path d="M72.8 119.3L75.3 120.4L76.7 118.6L74.2 117.5Z" color="#7130de"/>
<path d="M75.3 120.4L77.7 121.5L79.1 119.7L76.7 118.6Z" color="#752ed7"/>
<path d="M77.7 121.5L80.2 122.6L81.6 120.7L79.1 119.7Z" color="#772dd1"/>
<path d="M80.2 122.6L82.7 123.6L84.1 121.7L81.6 120.7Z" color="#792ccd"/>
<path d="M82.7 123.6L85.2 124.6L86.6 122.8L84.1 121.7Z" color="#7b2bc9"/>
<path d="M85.2 124.6L87.8 125.7L89.1 123.8L86.6 122.8Z" color="#7d2ac7"/>
<path d="M87.8 125.7L90.3 126.8L91.6 124.8L89.1 123.8Z" color="#7f29c5"/>
<path d="M90.3 126.8L92.9 127.8L94.2 125.9L91.6 124.8Z" color="#8228c3"/>
<path d="M92.9 127.8L95.5 129L96.8 127L94.2 125.9Z" color="#8528c0"/>
<path d="M95.5 129L98.1 130.1L99.4 128.1L96.8 127Z" color="#8927bd"/>
<path d="M98.1 130.1L100.7 131.2L102 129.2L99.4 128.1Z" color="#8d26ba"/>
<path d="M100.7 131.2L103.4 132.5L104.6 130.4L102 129.2Z" color="#9126b9"/>
</g>
<path d="M26.7 96.2L27.5 95.4L28.3 94.6L29.1 93.8L29.9 93.1L30.7 92.3L31.5 91.6L32.3 90.8L33.1 90.1L33.9 89.4L34.6 88.7L35.4 88L36.2 87.3L36.9 86.6L37.7 85.9L38.4 85.2L39.2 84.5L39.9 83.8L40.6 83.1L41.4 82.3L42.1 81.6L42.8 80.9L43.5 80.2L44.2 79.5L44.9 78.8L45.6 78.1L46.3 77.4L47 76.7L47.7 76.1L48.4 75.5L49.1 75L49.8 74.5L50.5 74.1L51.2 73.4L51.8 72.3L52.4 71.5L53.1 71.1L53.8 70.5L54.4 69.5L55 68.2L55.6 66.9L56.2 65.6L56.8 64.4L57.4 63.4L58 62.4L58.6 61.4L59.2 60.4L59.8 59.4L60.4 58.3L61 57.3L61.6 56.3L62.2 55.4L62.8 54.6L63.4 53.7L64 52.9L64.6 52L65.2 51.2L65.8 50.3L66.4 49.5L66.9 48.7L67.5 47.8L68.1 46.9L68.7 46L69.2 45.1L69.8 44.2 M26.7 96.2L27.8 96.7L28.9 97.2L30 97.8L31.1 98.3L32.2 98.8L33.3 99.3L34.4 99.8L35.5 100.3L36.6 100.8L37.7 101.4L38.8 101.9L39.9 102.4L41.1 103L42.2 103.5L43.3 104.1L44.5 104.6L45.6 105.2L46.8 105.8L47.9 106.4L49.1 107L50.2 107.6L51.4 108.2L52.5 108.8L53.7 109.4L54.9 110.1L56.1 110.7L57.2 111.3L58.4 111.9L59.6 112.6L60.8 113.2L62 113.8L63.2 114.5L64.4 115.1L65.6 115.8L66.8 116.4L68 117L69.2 117.6L70.4 118.2L71.6 118.7L72.8 119.3L74 119.9L75.3 120.4L76.5 121L77.7 121.5L79 122L80.2 122.6L81.5 123.1L82.7 123.6L84 124.1L85.2 124.6L86.5 125.2L87.8 125.7L89 126.2L90.3 126.8L91.6 127.3L92.9 127.8L94.2 128.4L95.5 129L96.8 129.5L98.1 130.1L99.4 130.7L100.7 131.2L102 131.8L103.4 132.5 M31.1 98.3L31.9 97.4L32.7 96.6L33.4 95.7L34.2 94.9L35 94.1L35.8 93.4L36.6 92.6L37.3 91.8L38.1 91.1L38.9 90.3L39.6 89.6L40.4 88.9L41.1 88.2L41.9 87.5L42.6 86.7L43.4 86L44.1 85.3L44.8 84.6L45.5 83.9L46.2 83.2L47 82.4L47.7 81.7L48.4 81L49.1 80.4L49.8 79.7L50.5 79L51.1 78.4L51.8 77.7L52.5 77.1L53.2 76.5L53.9 76L54.5 75.5L55.2 74.6L55.8 73.4L56.4 72.5L57.1 72L57.8 71.3L58.4 70.3L59 69L59.6 67.7L60.2 66.3L60.8 65.1L61.4 64L62 62.9L62.6 61.9L63.2 60.8L63.8 59.8L64.4 58.8L65 57.8L65.6 56.9L66.2 55.9L66.8 55L67.3 54.2L67.9 53.3L68.5 52.4L69.1 51.5L69.7 50.7L70.3 49.8L70.8 48.8L71.4 47.9L72 47L72.6 46.1L73.1 45.2L73.7 44.3 M29.9 93.1L31 93.5L32.1 94L33.2 94.5L34.2 94.9L35.3 95.4L36.4 95.9L37.5 96.4L38.6 96.9L39.7 97.4L40.8 97.9L41.9 98.4L43 98.9L44.1 99.4L45.3 99.9L46.4 100.5L47.5 101L48.6 101.6L49.8 102.1L50.9 102.7L52.1 103.3L53.2 103.9L54.4 104.5L55.5 105.1L56.7 105.7L57.8 106.3L59 106.9L60.2 107.6L61.3 108.2L62.5 108.9L63.7 109.5L64.9 110.2L66.1 111L67.3 111.6L68.4 112.3L69.6 112.9L70.8 113.5L72 114L73.2 114.6L74.4 115.2L75.6 115.7L76.8 116.3L78.1 116.8L79.3 117.3L80.5 117.9L81.7 118.4L82.9 118.9L84.2 119.4L85.4 119.9L86.7 120.4L87.9 120.9L89.2 121.4L90.4 121.9L91.7 122.5L93 123L94.2 123.5L95.5 124L96.8 124.6L98.1 125.1L99.4 125.6L100.6 126.2L101.9 126.7L103.2 127.3L104.5 127.9L105.9 128.5 M35.5 100.3L36.3 99.4L37 98.6L37.8 97.7L38.6 96.9L39.4 96L40.1 95.2L40.9 94.4L41.7 93.6L42.4 92.8L43.2 92.1L43.9 91.3L44.7 90.5L45.4 89.8L46.1 89.1L46.9 88.3L47.6 87.6L48.3 86.9L49 86.2L49.7 85.4L50.4 84.7L51.2 84L51.9 83.4L52.6 82.7L53.2 82L53.9 81.3L54.6 80.7L55.3 80L56 79.4L56.6 78.7L57.3 78.1L58 77.5L58.6 76.9L59.3 75.8L59.9 74.5L60.5 73.5L61.2 72.9L61.8 72.1L62.4 71L63 69.7L63.6 68.4L64.2 67.1L64.8 65.9L65.4 64.7L66 63.6L66.6 62.5L67.2 61.4L67.8 60.4L68.4 59.4L69 58.4L69.6 57.5L70.2 56.5L70.8 55.6L71.3 54.7L71.9 53.8L72.5 52.9L73.1 51.9L73.7 50.9L74.2 49.9L74.8 48.9L75.4 47.9L75.9 46.9L76.5 45.9L77.1 44.9L77.6 44 M33.1 90.1L34.1 90.5L35.2 91L36.3 91.4L37.3 91.8L38.4 92.3L39.5 92.7L40.6 93.2L41.7 93.6L42.7 94.1L43.8 94.5L44.9 95L46 95.5L47.1 96L48.2 96.5L49.4 97L50.5 97.5L51.6 98L52.7 98.5L53.9 99.1L55 99.6L56.1 100.2L57.3 100.8L58.4 101.4L59.6 101.9L60.7 102.5L61.9 103.2L63 103.8L64.2 104.4L65.3 105L66.5 105.6L67.7 106.2L68.9 107.4L70.1 108L71.2 108.7L72.4 109.3L73.6 109.9L74.8 110.5L76 111.1L77.2 111.6L78.4 112.2L79.6 112.7L80.8 113.3L82 113.8L83.2 114.3L84.4 114.9L85.6 115.4L86.8 115.9L88.1 116.4L89.3 116.9L90.5 117.4L91.8 117.9L93 118.4L94.3 118.9L95.5 119.4L96.8 119.9L98 120.4L99.3 120.9L100.6 121.4L101.8 122L103.1 122.5L104.4 123L105.7 123.6L107 124.1L108.3 124.7 M39.9 102.4L40.7 101.5L41.5 100.6L42.3 99.8L43 98.9L43.8 98L44.5 97.2L45.3 96.3L46 95.5L46.8 94.7L47.5 93.9L48.3 93.1L49 92.3L49.7 91.5L50.4 90.7L51.2 90L51.9 89.2L52.6 88.5L53.3 87.8L54 87.1L54.7 86.4L55.4 85.7L56.1 85L56.8 84.3L57.5 83.6L58.2 83L58.8 82.3L59.5 81.6L60.2 81L60.8 80.3L61.5 79.6L62.1 78.9L62.8 78.3L63.4 77L64 75.6L64.6 74.5L65.3 73.8L65.9 72.9L66.5 71.8L67.1 70.5L67.7 69.2L68.3 67.9L68.9 66.7L69.5 65.5L70.1 64.3L70.7 63.2L71.3 62.1L71.9 61.1L72.5 60L73.1 59.1L73.7 58.1L74.2 57.2L74.8 56.3L75.4 55.3L76 54.4L76.6 53.3L77.1 52.3L77.7 51.2L78.3 50.1L78.9 49L79.4 47.9L80 46.8L80.5 45.8L81.1 44.8L81.7 43.8 M36.2 87.3L37.2 87.7L38.3 88.1L39.3 88.5L40.4 88.9L41.4 89.3L42.5 89.7L43.6 90.1L44.7 90.5L45.7 91L46.8 91.4L47.9 91.8L49 92.3L50.1 92.7L51.2 93.2L52.3 93.7L53.4 94.1L54.5 94.6L55.6 95.1L56.7 95.6L57.8 96.1L59 96.6L60.1 97.2L61.2 97.7L62.4 98.3L63.5 98.8L64.7 99.4L65.8 100L67 100.6L68.1 101.2L69.3 101.7L70.4 102.3L71.6 103.7L72.8 104.4L74 105.1L75.1 105.7L76.3 106.3L77.5 106.9L78.6 107.5L79.8 108.1L81 108.7L82.2 109.2L83.4 109.8L84.6 110.3L85.8 110.9L87 111.4L88.2 111.9L89.4 112.4L90.6 112.9L91.8 113.4L93.1 113.9L94.3 114.4L95.5 114.9L96.8 115.4L98 115.9L99.2 116.4L100.5 116.9L101.7 117.4L103 117.9L104.3 118.4L105.5 118.9L106.8 119.5L108.1 120L109.4 120.5L110.6 121.1 M44.5 104.6L45.2 103.7L46 102.8L46.8 101.9L47.5 101L48.3 100.1L49 99.2L49.7 98.4L50.5 97.5L51.2 96.6L51.9 95.8L52.7 94.9L53.4 94.1L54.1 93.3L54.8 92.5L55.5 91.7L56.2 91L56.9 90.2L57.6 89.5L58.3 88.7L59 88L59.7 87.3L60.4 86.6L61.1 85.9L61.8 85.2L62.4 84.6L63.1 83.9L63.8 83.2L64.4 82.5L65.1 81.8L65.7 81.1L66.4 80.4L67 79.6L67.6 78.2L68.2 76.6L68.8 75.5L69.4 74.7L70.1 73.7L70.7 72.6L71.3 71.3L71.9 70L72.5 68.8L73.1 67.5L73.7 66.3L74.3 65.2L74.8 64.1L75.4 63L76 61.9L76.6 60.9L77.2 59.9L77.8 58.9L78.4 58L79 57L79.5 56L80.1 54.9L80.7 53.8L81.3 52.6L81.8 51.5L82.4 50.3L83 49.2L83.5 48L84.1 47L84.6 45.9L85.2 44.9L85.8 43.8 M39.2 84.5L40.2 84.9L41.3 85.3L42.3 85.6L43.4 86L44.4 86.4L45.5 86.8L46.5 87.2L47.6 87.6L48.7 88L49.7 88.4L50.8 88.8L51.9 89.2L53 89.7L54.1 90.1L55.1 90.5L56.2 91L57.3 91.4L58.4 91.9L59.5 92.3L60.7 92.8L61.8 93.2L62.9 93.7L64 94.2L65.1 94.7L66.3 95.2L67.4 95.8L68.5 96.3L69.7 96.9L70.8 97.4L72 98L73.1 98.6L74.3 100.1L75.4 100.7L76.6 101.4L77.8 102.1L78.9 102.7L80.1 103.3L81.3 104L82.4 104.6L83.6 105.2L84.8 105.7L86 106.3L87.1 106.8L88.3 107.4L89.5 107.9L90.7 108.4L91.9 108.9L93.1 109.4L94.3 109.9L95.5 110.4L96.8 110.9L98 111.4L99.2 111.9L100.4 112.4L101.7 112.9L102.9 113.4L104.1 113.9L105.4 114.4L106.6 114.9L107.9 115.4L109.1 116L110.4 116.5L111.7 117L112.9 117.5 M49.1 107L49.8 106L50.6 105.1L51.3 104.2L52.1 103.3L52.8 102.4L53.5 101.4L54.3 100.5L55 99.6L55.7 98.7L56.4 97.9L57.1 97L57.8 96.1L58.6 95.3L59.3 94.4L60 93.6L60.7 92.8L61.3 92L62 91.2L62.7 90.4L63.4 89.7L64.1 89L64.8 88.2L65.4 87.5L66.1 86.8L66.8 86.1L67.4 85.4L68.1 84.7L68.7 84L69.4 83.3L70 82.6L70.6 81.8L71.3 80.9L71.9 79.3L72.5 77.7L73.1 76.5L73.7 75.6L74.3 74.6L74.9 73.4L75.5 72.2L76.1 71L76.7 69.7L77.3 68.5L77.9 67.3L78.5 66.1L79.1 65L79.7 63.8L80.2 62.8L80.8 61.7L81.4 60.7L82 59.8L82.6 58.8L83.2 57.8L83.7 56.7L84.3 55.6L84.9 54.5L85.4 53.3L86 52.1L86.6 50.9L87.1 49.7L87.7 48.5L88.3 47.3L88.8 46.2L89.4 45.2L89.9 44.1 M42.1 81.6L43.1 82L44.2 82.4L45.2 82.8L46.2 83.2L47.3 83.5L48.3 83.9L49.4 84.3L50.4 84.7L51.5 85.1L52.6 85.5L53.6 85.9L54.7 86.4L55.8 86.8L56.9 87.2L57.9 87.6L59 88L60.1 88.4L61.2 88.8L62.3 89.3L63.4 89.7L64.5 90.1L65.6 90.6L66.7 91L67.8 91.4L69 91.9L70.1 92.4L71.2 92.9L72.3 93.4L73.5 93.9L74.6 94.4L75.7 95L76.9 96.4L78 97.1L79.2 97.7L80.3 98.4L81.5 99.1L82.7 99.7L83.8 100.4L85 101L86.1 101.6L87.3 102.2L88.5 102.8L89.6 103.3L90.8 103.9L92 104.4L93.2 104.9L94.4 105.5L95.6 106L96.8 106.5L98 107L99.2 107.5L100.4 108L101.6 108.5L102.8 109L104 109.5L105.2 110L106.5 110.5L107.7 111L108.9 111.5L110.2 112L111.4 112.5L112.7 113L113.9 113.5L115.2 114 M53.7 109.4L54.5 108.5L55.2 107.6L55.9 106.6L56.7 105.7L57.4 104.7L58.1 103.8L58.8 102.9L59.6 101.9L60.3 101L61 100.1L61.7 99.2L62.4 98.3L63.1 97.4L63.8 96.5L64.4 95.6L65.1 94.7L65.8 93.9L66.5 93L67.2 92.2L67.8 91.4L68.5 90.7L69.2 89.9L69.8 89.2L70.5 88.5L71.1 87.7L71.8 87L72.4 86.3L73.1 85.6L73.7 84.8L74.3 84L75 83.2L75.6 82.2L76.2 80.5L76.8 78.8L77.4 77.5L78 76.5L78.6 75.5L79.2 74.3L79.8 73.2L80.4 72L81 70.8L81.6 69.6L82.2 68.4L82.8 67.2L83.4 66L83.9 64.9L84.5 63.8L85.1 62.7L85.7 61.7L86.3 60.8L86.8 59.8L87.4 58.7L88 57.7L88.6 56.5L89.1 55.4L89.7 54.2L90.3 53L90.8 51.8L91.4 50.5L91.9 49.2L92.5 48.1L93.1 47L93.6 45.9L94.2 44.8 M44.9 78.8L46 79.1L47 79.5L48 79.9L49.1 80.4L50.1 80.8L51.1 81.2L52.2 81.6L53.2 82L54.3 82.4L55.4 82.8L56.4 83.2L57.5 83.6L58.5 84L59.6 84.4L60.7 84.8L61.8 85.2L62.8 85.6L63.9 86L65 86.4L66.1 86.8L67.2 87.2L68.3 87.6L69.4 88L70.5 88.5L71.6 88.9L72.7 89.3L73.8 89.7L74.9 90.2L76.1 90.6L77.2 91.1L78.3 91.6L79.5 92.7L80.6 93.4L81.7 94.1L82.9 94.8L84 95.5L85.2 96.2L86.3 96.8L87.5 97.5L88.6 98.1L89.8 98.7L90.9 99.3L92.1 99.9L93.2 100.4L94.4 100.9L95.6 101.5L96.8 102L97.9 102.5L99.1 103L100.3 103.6L101.5 104.1L102.7 104.6L103.9 105.1L105.1 105.6L106.3 106L107.5 106.5L108.7 107L110 107.5L111.2 108L112.4 108.5L113.6 109L114.9 109.5L116.1 110L117.4 110.5 M58.4 111.9L59.2 111L59.9 110.1L60.6 109.2L61.3 108.2L62.1 107.3L62.8 106.3L63.5 105.3L64.2 104.4L64.9 103.4L65.6 102.5L66.3 101.5L67 100.6L67.6 99.6L68.3 98.7L69 97.8L69.7 96.9L70.3 96L71 95.1L71.7 94.2L72.3 93.4L73 92.5L73.6 91.7L74.3 90.9L74.9 90.2L75.6 89.4L76.2 88.7L76.8 87.9L77.5 87.2L78.1 86.4L78.7 85.6L79.3 84.8L80 83.6L80.6 81.8L81.2 80L81.8 78.8L82.4 77.7L83 76.6L83.6 75.5L84.2 74.4L84.8 73.2L85.3 72L85.9 70.8L86.5 69.7L87.1 68.5L87.7 67.4L88.3 66.2L88.9 65.1L89.4 64.1L90 63L90.6 62L91.2 61L91.7 60L92.3 58.9L92.9 57.8L93.4 56.6L94 55.4L94.6 54.1L95.1 52.9L95.7 51.8L96.2 50.6L96.8 49.5L97.3 48.3L97.9 47.1L98.4 45.9 M47.7 76.1L48.7 76.5L49.8 76.9L50.8 77.3L51.8 77.7L52.9 78.1L53.9 78.6L54.9 79L56 79.4L57 79.8L58.1 80.2L59.1 80.6L60.2 81L61.2 81.3L62.3 81.7L63.3 82.1L64.4 82.5L65.5 82.9L66.6 83.3L67.6 83.6L68.7 84L69.8 84.4L70.9 84.8L72 85.2L73.1 85.6L74.2 85.9L75.3 86.3L76.4 86.8L77.5 87.2L78.6 87.6L79.7 88.1L80.8 88.6L81.9 89.2L83.1 89.9L84.2 90.6L85.3 91.4L86.5 92.1L87.6 92.8L88.7 93.5L89.9 94.2L91 94.8L92.2 95.4L93.3 95.9L94.5 96.5L95.6 97L96.8 97.5L97.9 98L99.1 98.6L100.3 99.1L101.4 99.6L102.6 100.1L103.8 100.6L105 101.1L106.2 101.6L107.4 102.1L108.6 102.5L109.8 103L111 103.5L112.2 103.9L113.4 104.4L114.6 104.9L115.8 105.3L117.1 105.8L118.3 106.3L119.5 106.8 M50.5 74.1L51.5 74.4L52.5 74.8L53.5 75.1L54.5 75.5L55.6 75.8L56.6 76.2L57.6 76.5L58.6 76.9L59.7 77.2L60.7 77.6L61.8 77.9L62.8 78.3L63.8 78.6L64.9 78.9L65.9 79.2L67 79.6L68.1 79.9L69.1 80.2L70.2 80.5L71.3 80.9L72.3 81.2L73.4 81.5L74.5 81.9L75.6 82.2L76.7 82.5L77.8 82.9L78.9 83.2L80 83.6L81.1 84.1L82.2 84.5L83.3 85L84.4 85.7L85.5 86.5L86.6 87.2L87.7 88L88.9 88.7L90 89.4L91.1 90.1L92.2 90.7L93.4 91.3L94.5 91.9L95.6 92.4L96.8 93L97.9 93.5L99.1 94L100.2 94.5L101.4 95L102.6 95.5L103.7 96.1L104.9 96.6L106.1 97.1L107.2 97.5L108.4 98L109.6 98.5L110.8 99L112 99.4L113.2 99.9L114.4 100.3L115.6 100.7L116.8 101.2L118 101.6L119.2 102L120.4 102.4L121.7 102.9 M68 117L68.7 116.1L69.4 115.2L70.1 114.3L70.8 113.5L71.5 112.6L72.2 111.7L72.9 110.8L73.6 109.9L74.3 109L75 108.1L75.6 107.2L76.3 106.3L77 105.4L77.6 104.5L78.3 103.6L78.9 102.7L79.6 101.8L80.2 100.9L80.9 100L81.5 99.1L82.1 98.2L82.8 97.3L83.4 96.4L84 95.5L84.6 94.6L85.2 93.8L85.9 92.9L86.5 92.1L87.1 91.3L87.7 90.6L88.3 89.8L88.9 88.7L89.5 87.1L90.1 85.7L90.7 84.5L91.2 83.3L91.8 82.3L92.4 81.3L93 80.4L93.6 79.5L94.1 78.6L94.7 77.7L95.3 76.7L95.9 75.6L96.4 74.4L97 73.4L97.6 72.4L98.1 71.5L98.7 70.6L99.2 69.7L99.8 68.8L100.3 68L100.9 67.1L101.4 66.1L101.9 65L102.5 64L103 62.9L103.6 61.9L104.1 61L104.6 60L105.2 59.1L105.7 58.1L106.2 57.1L106.7 56.1 M53.1 71.1L54.1 71.3L55.1 71.5L56.1 71.8L57.1 72L58.1 72.2L59.1 72.4L60.1 72.7L61.2 72.9L62.2 73.1L63.2 73.3L64.2 73.6L65.3 73.8L66.3 74L67.4 74.2L68.4 74.4L69.4 74.7L70.5 74.9L71.6 75.1L72.6 75.3L73.7 75.6L74.8 75.8L75.8 76.1L76.9 76.3L78 76.5L79.1 76.8L80.2 77.1L81.3 77.4L82.4 77.7L83.5 78.1L84.6 78.5L85.7 79L86.8 79.7L87.9 80.5L89 81.5L90.1 82.4L91.2 83.3L92.4 84.2L93.5 84.9L94.6 85.6L95.7 86.2L96.9 86.8L98 87.3L99.1 87.9L100.3 88.4L101.4 88.9L102.6 89.5L103.7 90L104.9 90.5L106 91L107.2 91.6L108.3 92.1L109.5 92.7L110.7 93.2L111.9 93.8L113 94.3L114.2 94.8L115.4 95.4L116.6 95.9L117.8 96.4L119 97L120.1 97.5L121.3 98L122.6 98.5L123.8 99.1 M72.8 119.3L73.5 118.4L74.2 117.5L74.9 116.6L75.6 115.7L76.3 114.8L77 114L77.7 113.1L78.4 112.2L79 111.3L79.7 110.4L80.4 109.6L81 108.7L81.7 107.8L82.3 106.9L83 106.1L83.6 105.2L84.2 104.3L84.9 103.4L85.5 102.5L86.1 101.6L86.8 100.7L87.4 99.8L88 99L88.6 98.1L89.2 97.3L89.8 96.4L90.4 95.6L91 94.8L91.6 93.9L92.2 93.1L92.8 92.3L93.4 91.3L94 89.9L94.6 88.4L95.2 87.2L95.7 86.2L96.3 85.2L96.9 84.2L97.5 83.3L98 82.4L98.6 81.4L99.1 80.5L99.7 79.5L100.3 78.6L100.8 77.6L101.4 76.6L101.9 75.6L102.5 74.6L103 73.8L103.6 73.1L104.1 72.3L104.6 71.4L105.2 70.5L105.7 69.7L106.2 68.8L106.7 67.8L107.3 66.9L107.8 65.9L108.3 65L108.8 64L109.4 63.1L109.9 62.2L110.4 61.3L110.9 60.4 M55.6 66.9L56.6 67.1L57.6 67.3L58.6 67.5L59.6 67.7L60.6 67.8L61.6 68L62.6 68.2L63.6 68.4L64.6 68.6L65.6 68.8L66.7 69L67.7 69.2L68.7 69.4L69.8 69.6L70.8 69.8L71.9 70L72.9 70.3L74 70.5L75 70.7L76.1 71L77.2 71.2L78.2 71.5L79.3 71.7L80.4 72L81.5 72.2L82.6 72.5L83.7 72.8L84.8 73.2L85.9 73.5L87 73.9L88.1 74.4L89.2 76.1L90.3 76.9L91.4 77.7L92.5 78.6L93.6 79.5L94.7 80.3L95.8 81L96.9 81.7L98 82.4L99.1 83L100.3 83.5L101.4 84.1L102.5 84.7L103.7 85.2L104.8 85.7L105.9 86.3L107.1 86.8L108.2 87.3L109.4 87.8L110.5 88.4L111.7 88.9L112.9 89.4L114 89.8L115.2 90.3L116.4 90.8L117.5 91.3L118.7 91.7L119.9 92.2L121.1 92.7L122.3 93.1L123.5 93.6L124.7 94.1L125.9 94.5 M77.7 121.5L78.4 120.6L79.1 119.7L79.8 118.8L80.5 117.9L81.2 117L81.8 116.1L82.5 115.2L83.2 114.3L83.8 113.5L84.5 112.6L85.1 111.7L85.8 110.9L86.4 110L87.1 109.1L87.7 108.3L88.3 107.4L89 106.5L89.6 105.6L90.2 104.8L90.8 103.9L91.4 103L92 102.1L92.6 101.3L93.2 100.4L93.8 99.5L94.4 98.7L95 97.8L95.6 97L96.2 96.1L96.8 95.3L97.4 94.4L97.9 93.5L98.5 92.3L99.1 90.8L99.7 89.4L100.3 88.4L100.8 87.4L101.4 86.5L102 85.6L102.5 84.7L103.1 83.7L103.6 82.8L104.2 81.8L104.7 80.9L105.3 79.9L105.8 79L106.4 78L106.9 77.2L107.4 76.3L108 75.5L108.5 74.6L109 73.8L109.5 72.9L110.1 72.1L110.6 71.3L111.1 70.4L111.6 69.5L112.1 68.6L112.6 67.7L113.1 66.8L113.7 65.9L114.2 65L114.7 64.1L115.2 63.2 M58 62.4L59 62.5L60 62.6L61 62.8L62 62.9L63 63.1L64 63.3L65 63.4L66 63.6L67 63.8L68 64L69.1 64.1L70.1 64.3L71.1 64.5L72.2 64.7L73.2 65L74.3 65.2L75.3 65.4L76.4 65.6L77.4 65.9L78.5 66.1L79.5 66.4L80.6 66.6L81.7 66.9L82.8 67.2L83.8 67.5L84.9 67.8L86 68.1L87.1 68.5L88.2 68.9L89.3 69.4L90.4 69.9L91.5 71.5L92.6 72.3L93.7 73.3L94.8 74.5L95.9 75.6L97 76.4L98.1 77.2L99.2 77.9L100.3 78.6L101.4 79.2L102.5 79.7L103.6 80.3L104.7 80.9L105.9 81.4L107 82L108.1 82.6L109.3 83.1L110.4 83.7L111.5 84.2L112.7 84.7L113.8 85.2L115 85.8L116.1 86.3L117.3 86.8L118.4 87.3L119.6 87.7L120.8 88.2L122 88.7L123.1 89.2L124.3 89.7L125.5 90.2L126.7 90.7L127.9 91.2 M82.7 123.6L83.4 122.7L84.1 121.7L84.8 120.8L85.4 119.9L86.1 119L86.7 118.1L87.4 117.2L88.1 116.4L88.7 115.5L89.3 114.6L90 113.8L90.6 112.9L91.3 112L91.9 111.2L92.5 110.3L93.1 109.4L93.7 108.6L94.3 107.7L95 106.9L95.6 106L96.2 105.1L96.8 104.3L97.4 103.4L97.9 102.5L98.5 101.7L99.1 100.8L99.7 99.9L100.3 99.1L100.8 98.2L101.4 97.3L102 96.4L102.6 95.5L103.1 94.6L103.7 93.3L104.3 91.8L104.9 90.5L105.4 89.6L106 88.7L106.5 87.7L107.1 86.8L107.6 85.9L108.2 85L108.7 84L109.3 83.1L109.8 82.2L110.3 81.3L110.9 80.4L111.4 79.5L111.9 78.6L112.4 77.8L112.9 76.9L113.5 76.1L114 75.2L114.5 74.4L115 73.5L115.5 72.7L116 71.8L116.5 70.9L117 70L117.5 69.1L118 68.1L118.5 67.1L119 66.1L119.5 65.1 M60.4 58.3L61.4 58.4L62.4 58.5L63.4 58.6L64.4 58.8L65.4 58.9L66.4 59.1L67.4 59.2L68.4 59.4L69.4 59.5L70.4 59.7L71.4 59.8L72.5 60L73.5 60.2L74.5 60.5L75.6 60.7L76.6 60.9L77.7 61.1L78.7 61.3L79.8 61.5L80.8 61.7L81.9 61.9L83 62.2L84 62.4L85.1 62.7L86.2 63L87.3 63.3L88.4 63.7L89.4 64.1L90.5 64.5L91.6 64.9L92.7 65.5L93.8 66.8L94.9 68.5L95.9 69.7L97 70.7L98.1 71.5L99.2 72.3L100.3 73.1L101.4 74.1L102.5 74.6L103.6 75.2L104.7 75.9L105.8 76.5L106.9 77.2L108 77.8L109.1 78.4L110.3 78.9L111.4 79.5L112.5 80.1L113.6 80.6L114.8 81.2L115.9 81.7L117 82.2L118.2 82.7L119.3 83.2L120.5 83.8L121.6 84.3L122.8 84.8L124 85.3L125.1 85.7L126.3 86.2L127.5 86.7L128.6 87.3L129.8 87.8 M87.8 125.7L88.4 124.7L89.1 123.8L89.8 122.9L90.4 121.9L91.1 121L91.7 120.1L92.4 119.3L93 118.4L93.6 117.5L94.3 116.6L94.9 115.7L95.5 114.9L96.1 114L96.8 113.2L97.4 112.3L98 111.4L98.6 110.6L99.2 109.7L99.8 108.9L100.4 108L101 107.1L101.5 106.3L102.1 105.4L102.7 104.6L103.3 103.7L103.9 102.8L104.4 102L105 101.1L105.6 100.2L106.1 99.3L106.7 98.4L107.2 97.5L107.8 96.6L108.3 95.6L108.9 94.1L109.5 92.7L110.1 91.6L110.6 90.7L111.2 89.8L111.7 88.9L112.2 88L112.8 87.1L113.3 86.1L113.8 85.2L114.3 84.3L114.9 83.5L115.4 82.6L115.9 81.7L116.4 80.8L116.9 80L117.4 79.1L117.9 78.3L118.4 77.4L118.9 76.6L119.4 75.7L119.9 74.9L120.4 74.1L120.9 73.2L121.4 72.3L121.9 71.4L122.4 70.5L122.9 69.5L123.4 68.6L123.9 67.6 M62.8 54.6L63.8 54.7L64.8 54.8L65.8 54.9L66.8 55L67.8 55.2L68.8 55.3L69.8 55.5L70.8 55.6L71.8 55.8L72.8 55.9L73.8 56.1L74.8 56.3L75.9 56.5L76.9 56.6L77.9 56.8L79 57L80 57.2L81 57.4L82.1 57.6L83.2 57.8L84.2 58L85.3 58.3L86.3 58.5L87.4 58.7L88.5 59L89.6 59.3L90.6 59.6L91.7 60L92.8 60.4L93.9 60.8L95 61.3L96 63.5L97.1 64.5L98.2 65.6L99.2 66.8L100.3 68L101.4 69L102.5 69.9L103.5 70.7L104.6 71.4L105.7 72.1L106.8 72.6L107.9 73.2L109 73.8L110.1 74.3L111.2 74.9L112.3 75.5L113.5 76.1L114.6 76.6L115.7 77.2L116.8 77.7L117.9 78.3L119.1 78.8L120.2 79.3L121.3 79.8L122.5 80.3L123.6 80.8L124.8 81.3L125.9 81.8L127.1 82.3L128.2 82.7L129.4 83.2L130.6 83.7L131.7 84.2 M92.9 127.8L93.5 126.9L94.2 125.9L94.9 125L95.5 124L96.1 123.1L96.8 122.2L97.4 121.3L98 120.4L98.7 119.5L99.3 118.6L99.9 117.7L100.5 116.9L101.1 116L101.7 115.1L102.3 114.3L102.9 113.4L103.5 112.6L104.1 111.7L104.7 110.9L105.2 110L105.8 109.1L106.4 108.3L107 107.4L107.5 106.5L108.1 105.7L108.7 104.8L109.2 103.9L109.8 103L110.3 102.1L110.9 101.2L111.4 100.3L112 99.4L112.5 98.5L113.1 97.6L113.6 96.3L114.2 94.8L114.8 93.5L115.3 92.6L115.8 91.7L116.4 90.8L116.9 89.9L117.4 89L117.9 88.1L118.4 87.3L119 86.4L119.5 85.5L120 84.6L120.5 83.8L121 82.9L121.5 82L122 81.2L122.5 80.3L123 79.5L123.5 78.6L124 77.8L124.4 77L124.9 76.1L125.4 75.3L125.9 74.4L126.4 73.6L126.8 72.7L127.3 71.8L127.8 70.9L128.3 70 M65.2 51.2L66.2 51.3L67.1 51.4L68.1 51.5L69.1 51.5L70.1 51.6L71.1 51.7L72.1 51.8L73.1 51.9L74.1 52L75.1 52.1L76.1 52.2L77.1 52.3L78.2 52.3L79.2 52.4L80.2 52.5L81.3 52.6L82.3 52.8L83.3 52.9L84.4 53.1L85.4 53.3L86.5 53.5L87.6 53.7L88.6 53.9L89.7 54.2L90.8 54.5L91.8 54.7L92.9 55L94 55.4L95.1 55.8L96.2 56.3L97.2 56.7L98.3 58.5L99.3 59.7L100.4 61.2L101.4 62.6L102.5 64L103.5 65.1L104.6 66.2L105.7 67L106.7 67.8L107.8 68.5L108.9 69.2L110 69.8L111.1 70.4L112.2 71L113.3 71.5L114.4 72.1L115.5 72.7L116.6 73.2L117.7 73.8L118.8 74.4L119.9 74.9L121.1 75.4L122.2 76L123.3 76.5L124.4 77L125.6 77.5L126.7 77.9L127.9 78.4L129 78.9L130.2 79.3L131.3 79.8L132.5 80.3L133.6 80.7 M98.1 130.1L98.7 129.1L99.4 128.1L100 127.1L100.6 126.2L101.3 125.2L101.9 124.3L102.5 123.4L103.1 122.5L103.7 121.6L104.3 120.7L104.9 119.8L105.5 118.9L106.1 118.1L106.7 117.2L107.3 116.3L107.9 115.4L108.5 114.6L109 113.7L109.6 112.8L110.2 112L110.7 111.1L111.3 110.2L111.9 109.4L112.4 108.5L113 107.6L113.5 106.7L114.1 105.8L114.6 104.9L115.2 104L115.7 103L116.2 102.1L116.8 101.2L117.3 100.2L117.8 99.3L118.4 98.3L119 97L119.5 95.5L120.1 94.4L120.6 93.5L121.1 92.7L121.6 91.8L122.1 90.9L122.6 90.1L123.1 89.2L123.6 88.3L124.1 87.5L124.6 86.6L125.1 85.7L125.6 84.9L126.1 84L126.6 83.1L127.1 82.3L127.6 81.4L128.1 80.5L128.5 79.7L129 78.9L129.5 78L129.9 77.2L130.4 76.4L130.9 75.6L131.3 74.8L131.8 73.9L132.3 73.1L132.7 72.2 M67.5 47.8L68.5 47.8L69.5 47.9L70.4 47.9L71.4 47.9L72.4 47.9L73.4 47.9L74.4 47.9L75.4 47.9L76.4 47.9L77.4 47.9L78.4 47.9L79.4 47.9L80.4 47.9L81.5 47.9L82.5 48L83.5 48L84.6 48.1L85.6 48.2L86.7 48.3L87.7 48.5L88.8 48.6L89.8 48.8L90.9 49L91.9 49.2L93 49.5L94.1 49.9L95.2 50.2L96.2 50.6L97.3 51.1L98.4 51.7L99.5 52.4L100.5 54.3L101.5 55.7L102.6 57.2L103.6 58.7L104.6 60L105.7 61.2L106.7 62.3L107.8 63.2L108.8 64L109.9 64.8L111 65.6L112.1 66.2L113.1 66.8L114.2 67.4L115.3 68L116.4 68.5L117.5 69.1L118.6 69.7L119.7 70.2L120.8 70.8L121.9 71.4L123 72L124.1 72.5L125.2 73.1L126.4 73.6L127.5 74.1L128.6 74.6L129.7 75.1L130.9 75.6L132 76.1L133.2 76.6L134.3 77L135.4 77.5 M103.4 132.5L104 131.4L104.6 130.4L105.2 129.5L105.9 128.5L106.5 127.5L107.1 126.6L107.7 125.6L108.3 124.7L108.9 123.8L109.5 122.9L110.1 122L110.6 121.1L111.2 120.2L111.8 119.3L112.4 118.4L112.9 117.5L113.5 116.6L114.1 115.8L114.6 114.9L115.2 114L115.7 113.1L116.3 112.2L116.8 111.3L117.4 110.5L117.9 109.6L118.4 108.6L119 107.7L119.5 106.8L120.1 105.8L120.6 104.8L121.1 103.9L121.7 102.9L122.2 101.9L122.7 101L123.2 100.2L123.8 99.1L124.3 97.6L124.9 96.3L125.4 95.4L125.9 94.5L126.4 93.7L126.9 92.9L127.4 92L127.9 91.2L128.3 90.4L128.8 89.5L129.3 88.7L129.8 87.8L130.3 86.9L130.8 85.9L131.3 85L131.7 84.2L132.2 83.3L132.7 82.4L133.2 81.6L133.6 80.7L134.1 79.9L134.5 79.1L135 78.3L135.4 77.5L135.9 76.8L136.3 76L136.8 75.2L137.2 74.3 M69.8 44.2L70.8 44.3L71.7 44.3L72.7 44.3L73.7 44.3L74.7 44.2L75.7 44.2L76.6 44.1L77.6 44L78.6 43.9L79.6 43.9L80.7 43.8L81.7 43.8L82.7 43.8L83.7 43.8L84.7 43.8L85.8 43.8L86.8 43.9L87.8 44L88.9 44L89.9 44.1L91 44.3L92 44.4L93.1 44.6L94.2 44.8L95.2 45.1L96.3 45.4L97.4 45.7L98.4 45.9L99.5 46.1L100.6 46.4L101.7 46.7L102.7 48L103.7 50.6L104.7 52.8L105.7 54.6L106.7 56.1L107.8 57.4L108.8 58.5L109.9 59.5L110.9 60.4L112 61.3L113 62L114.1 62.6L115.2 63.2L116.3 63.7L117.4 64.1L118.4 64.6L119.5 65.1L120.6 65.7L121.7 66.3L122.8 67L123.9 67.6L125 68.2L126.1 68.8L127.2 69.4L128.3 70L129.4 70.6L130.5 71.1L131.6 71.7L132.7 72.2L133.9 72.8L135 73.3L136.1 73.8L137.2 74.3" fill="none" stroke="#05050c" stroke-opacity="0.85" stroke-width="0.6"/>
<path d="M63.2 114.5L63.9 113.6L64.6 112.7L65.3 111.8L66.1 110.8L66.8 109.8L67.5 108.8L68.2 107.8L68.9 106.8L69.5 105.9L70.2 104.9L70.9 103.9L71.6 102.9L72.3 102L72.9 101L73.6 100.1L74.3 99.1L74.9 98.2L75.6 97.3L76.2 96.4L76.9 95.5L77.5 94.7L78.2 93.8L78.8 93L79.4 92.2L80.1 91.4L80.7 90.6L81.3 89.8L81.9 89.1L82.6 88.3L83.2 87.6L83.8 86.8L84.4 85.5L85 83.5L85.6 81.6L86.2 80.4L86.8 78.9L87.4 78L88 77L88.6 75.9L89.2 74.8L89.8 73.7L90.3 72.6L90.9 71.5L91.5 70.6L92.1 69.1L92.7 67.9L93.2 66.9L93.8 66L94.4 64.9L95 63.8L95.5 62.8L96.1 61.9L96.6 61.2L97.2 59.6L97.8 58.3L98.3 57.2L98.9 56.2L99.4 55.2L100 54.2L100.5 53.3L101.1 51.7L101.6 50.7L102.2 49L102.8 47.2" fill="none" stroke="#fff" stroke-width="1.15"/>
<text x="20.10" y="114.80" text-anchor="middle" font-size="9.8" font-family="'Liberation Sans', Arial, Helvetica, sans-serif" font-weight="bold" stroke="#000" stroke-width="0.3">−2</text>
<text x="37.30" y="122.40" text-anchor="middle" font-size="9.8" font-family="'Liberation Sans', Arial, Helvetica, sans-serif" font-weight="bold" stroke="#000" stroke-width="0.3">−1</text>
<text x="58.60" y="129.70" text-anchor="middle" font-size="9.8" font-family="'Liberation Sans', Arial, Helvetica, sans-serif" font-weight="bold" stroke="#000" stroke-width="0.3">0</text>
<text x="78.80" y="136.20" text-anchor="middle" font-size="9.8" font-family="'Liberation Sans', Arial, Helvetica, sans-serif" font-weight="bold" stroke="#000" stroke-width="0.3">1</text>
<text x="99.90" y="144.30" text-anchor="middle" font-size="9.8" font-family="'Liberation Sans', Arial, Helvetica, sans-serif" font-weight="bold" stroke="#000" stroke-width="0.3">2</text>
<text x="112.00" y="140.20" text-anchor="middle" font-size="9.8" font-family="'Liberation Sans', Arial, Helvetica, sans-serif" font-weight="bold" stroke="#000" stroke-width="0.3">−2</text>
<text x="120.60" y="126.20" text-anchor="middle" font-size="9.8" font-family="'Liberation Sans', Arial, Helvetica, sans-serif" font-weight="bold" stroke="#000" stroke-width="0.3">−1</text>
<text x="126.60" y="113.00" text-anchor="middle" font-size="9.8" font-family="'Liberation Sans', Arial, Helvetica, sans-serif" font-weight="bold" stroke="#000" stroke-width="0.3">0</text>
<text x="134.20" y="100.80" text-anchor="middle" font-size="9.8" font-family="'Liberation Sans', Arial, Helvetica, sans-serif" font-weight="bold" stroke="#000" stroke-width="0.3">1</text>
<text x="141.40" y="89.80" text-anchor="middle" font-size="9.8" font-family="'Liberation Sans', Arial, Helvetica, sans-serif" font-weight="bold" stroke="#000" stroke-width="0.3">2</text>
<text x="52.1" y="136.6" text-anchor="middle" font-size="9.5" font-style="italic" font-family="'Liberation Sans', Arial, Helvetica, sans-serif" font-weight="bold" stroke="#000" stroke-width="0.3">x</text>
<text x="132.1" y="114.0" text-anchor="middle" font-size="9.5" font-style="italic" font-family="'Liberation Sans', Arial, Helvetica, sans-serif" font-weight="bold" stroke="#000" stroke-width="0.3">t</text>
<text x="20.20" y="81.40" text-anchor="end" font-size="9.8" font-family="'Liberation Sans', Arial, Helvetica, sans-serif" font-weight="bold" stroke="#000" stroke-width="0.3">0.26</text>
<text x="21.20" y="89.70" text-anchor="end" font-size="9.8" font-family="'Liberation Sans', Arial, Helvetica, sans-serif" font-weight="bold" stroke="#000" stroke-width="0.3">0.24</text>
<text x="22.20" y="98.00" text-anchor="end" font-size="9.8" font-family="'Liberation Sans', Arial, Helvetica, sans-serif" font-weight="bold" stroke="#000" stroke-width="0.3">0.22</text>
<rect x="153.10" y="55.50" width="4.90" height="48.10" fill="url(#rb)"/>
<text x="162.3" y="65.40" font-size="9.8" font-family="'Liberation Sans', Arial, Helvetica, sans-serif" font-weight="bold" stroke="#000" stroke-width="0.3">0.26</text>
<text x="162.3" y="72.62" font-size="9.8" font-family="'Liberation Sans', Arial, Helvetica, sans-serif" font-weight="bold" stroke="#000" stroke-width="0.3">0.25</text>
<text x="162.3" y="79.84" font-size="9.8" font-family="'Liberation Sans', Arial, Helvetica, sans-serif" font-weight="bold" stroke="#000" stroke-width="0.3">0.24</text>
<text x="162.3" y="87.06" font-size="9.8" font-family="'Liberation Sans', Arial, Helvetica, sans-serif" font-weight="bold" stroke="#000" stroke-width="0.3">0.23</text>
<text x="162.3" y="94.28" font-size="9.8" font-family="'Liberation Sans', Arial, Helvetica, sans-serif" font-weight="bold" stroke="#000" stroke-width="0.3">0.22</text>
<text x="162.3" y="101.50" font-size="9.8" font-family="'Liberation Sans', Arial, Helvetica, sans-serif" font-weight="bold" stroke="#000" stroke-width="0.3">0.21</text>
</g>
<text x="58.90" y="166.90" font-size="13.2" textLength="66.00" lengthAdjust="spacing" fill="#000" stroke="#000" stroke-width="0.15" font-family="'Liberation Serif', 'Times New Roman', serif">(a) 3D Plot</text>
<text x="310.60" y="166.90" font-size="13.2" textLength="65.80" lengthAdjust="spacing" fill="#000" stroke="#000" stroke-width="0.15" font-family="'Liberation Serif', 'Times New Roman', serif">(b) 2D Plot</text>
<text x="547.90" y="166.90" font-size="13.2" textLength="93.80" lengthAdjust="spacing" fill="#000" stroke="#000" stroke-width="0.15" font-family="'Liberation Serif', 'Times New Roman', serif">(c) Contour Plot</text>
<text x="186.30" y="384.60" font-size="13.2" textLength="93.40" lengthAdjust="spacing" fill="#000" stroke="#000" stroke-width="0.15" font-family="'Liberation Serif', 'Times New Roman', serif">(d) Density Plot</text>
<text x="414.80" y="384.60" font-size="13.2" textLength="78.50" lengthAdjust="spacing" fill="#000" stroke="#000" stroke-width="0.15" font-family="'Liberation Serif', 'Times New Roman', serif">(e) Polar Plot</text>
</g>
</svg>
</body></html>
